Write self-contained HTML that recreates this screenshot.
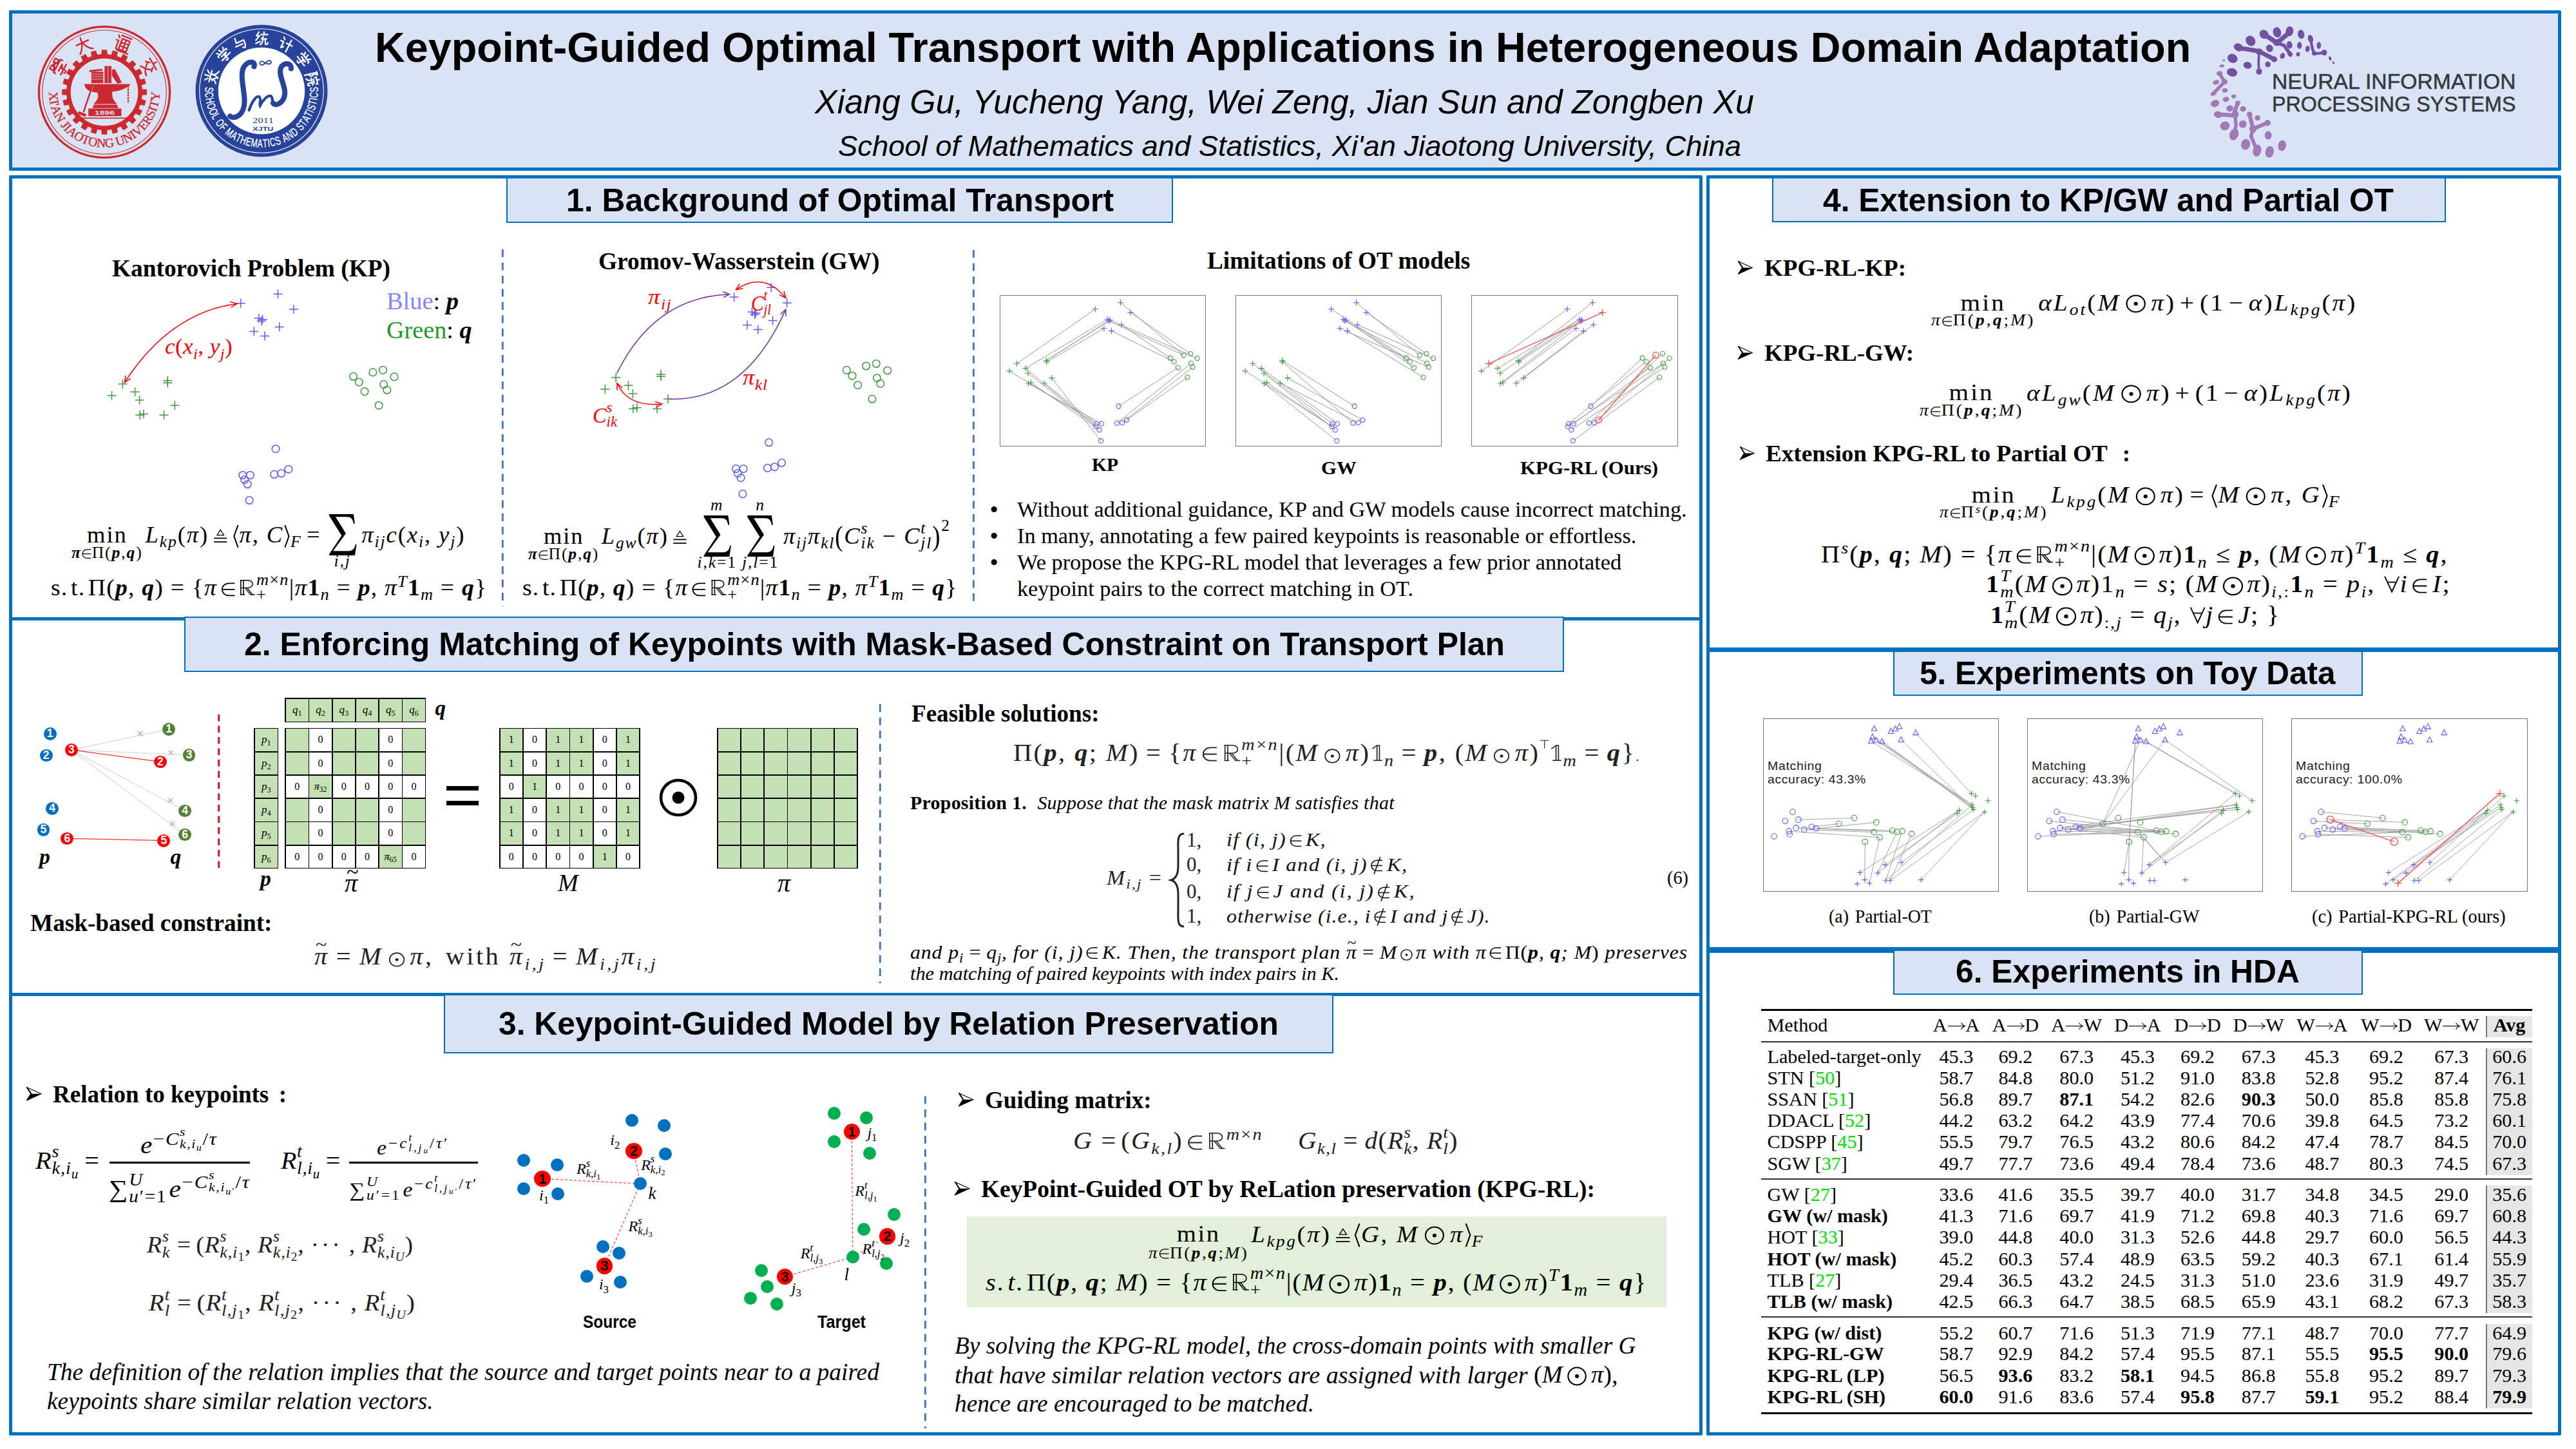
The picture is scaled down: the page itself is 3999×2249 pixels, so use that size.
<!DOCTYPE html><html><head><meta charset="utf-8"><title>Keypoint-Guided Optimal Transport poster</title><style>
html,body{margin:0;padding:0;background:#fff;}
body{width:3999px;height:2249px;position:relative;overflow:hidden;font-family:'Liberation Serif',serif;color:#000;}
.t{position:absolute;white-space:nowrap;line-height:1;transform-origin:0 0;}
.t i{font-style:italic}
.st{display:inline-block;width:0;height:2.6em;vertical-align:baseline}
.sb{font-size:.7em;line-height:0;vertical-align:-.3em;display:inline-block}
.sp{font-size:.7em;line-height:0;vertical-align:.55em;display:inline-block}
.ss{display:inline-block;position:relative;font-size:.7em;line-height:0;vertical-align:baseline;text-align:left}
.ss>.w{display:block;visibility:hidden;height:0;line-height:0}
.ss>.u,.ss>.l{position:absolute;left:0;white-space:nowrap;line-height:1}
.ss>.u{top:-1.16em}
.ss>.l{top:-.2em}
.un{display:inline-table;text-align:center;vertical-align:baseline;border-collapse:collapse}
.un-t{display:table-row}
.un-b{display:table-row;line-height:.9}
.un-b>span{position:relative}
.bs{display:inline-block;position:relative;height:0;vertical-align:baseline}
.bs-s{position:absolute;left:50%;bottom:-.226em;transform:translateX(-50%);font-size:2.1em;line-height:1;font-style:normal}
.bs-l{position:absolute;left:50%;bottom:-1.714em;transform:translateX(-50%);white-space:nowrap;line-height:1;font-size:.7em}
.bs-h{position:absolute;left:50%;bottom:1.923em;transform:translateX(-50%);white-space:nowrap;line-height:1;font-size:.7em}
.fr{display:inline-block;vertical-align:middle;text-align:center}
.fr>span{display:block;line-height:1.1}
svg{position:absolute;overflow:visible}
.t svg{position:static}
</style></head><body>
<div style="position:absolute;left:14.0px;top:16.0px;width:3962.0px;height:249.0px;box-sizing:border-box;border:5px solid #0070C0;background:#DAE3F3;border-radius:2px;"></div>
<div style="position:absolute;left:14.0px;top:272.0px;width:2629.0px;height:1956.0px;box-sizing:border-box;border:5px solid #0070C0;background:#fff;border-radius:2px;"></div>
<div style="position:absolute;left:14.0px;top:958.0px;width:2629.0px;height:5.0px;box-sizing:border-box;background:#0070C0"></div>
<div style="position:absolute;left:14.0px;top:1541.0px;width:2629.0px;height:5.0px;box-sizing:border-box;background:#0070C0"></div>
<div style="position:absolute;left:2649.0px;top:272.0px;width:1327.0px;height:1956.0px;box-sizing:border-box;border:5px solid #0070C0;background:#fff;border-radius:2px;"></div>
<div style="position:absolute;left:2649.0px;top:1005.0px;width:1327.0px;height:7.0px;box-sizing:border-box;background:#0070C0"></div>
<div style="position:absolute;left:2649.0px;top:1470.0px;width:1327.0px;height:9.0px;box-sizing:border-box;background:#0070C0"></div>
<div style="position:absolute;left:786.0px;top:275.0px;width:1035.0px;height:71.0px;box-sizing:border-box;border:2px solid #0070C0;background:#DAE3F3;"></div>
<div id="e1" class="t" style="left:879.0px;top:198.5px;font-size:49.60px;font-family:'Liberation Sans',sans-serif;transform:scaleX(1.0048);font-weight:bold;"><span class="st"></span>1. Background of Optimal Transport</div>
<div style="position:absolute;left:286.0px;top:957.0px;width:2142.0px;height:86.0px;box-sizing:border-box;border:2px solid #0070C0;background:#DAE3F3;"></div>
<div id="e2" class="t" style="left:379.0px;top:888.3px;font-size:49.60px;font-family:'Liberation Sans',sans-serif;transform:scaleX(1.0060);font-weight:bold;"><span class="st"></span>2. Enforcing Matching of Keypoints with Mask-Based Constraint on Transport Plan</div>
<div style="position:absolute;left:689.0px;top:1543.0px;width:1381.0px;height:92.0px;box-sizing:border-box;border:2px solid #0070C0;background:#DAE3F3;"></div>
<div id="e3" class="t" style="left:774.0px;top:1477.0px;font-size:49.60px;font-family:'Liberation Sans',sans-serif;transform:scaleX(1.0033);font-weight:bold;"><span class="st"></span>3. Keypoint-Guided Model by Relation Preservation</div>
<div style="position:absolute;left:2751.0px;top:274.5px;width:1046.0px;height:70.5px;box-sizing:border-box;border:2px solid #0070C0;background:#DAE3F3;"></div>
<div id="e4" class="t" style="left:2830.0px;top:198.5px;font-size:49.60px;font-family:'Liberation Sans',sans-serif;transform:scaleX(1.0016);font-weight:bold;"><span class="st"></span>4. Extension to KP/GW and Partial OT</div>
<div style="position:absolute;left:2938.5px;top:1010.0px;width:729.5px;height:70.0px;box-sizing:border-box;border:2px solid #0070C0;background:#DAE3F3;"></div>
<div id="e5" class="t" style="left:2980.0px;top:933.3px;font-size:49.60px;font-family:'Liberation Sans',sans-serif;transform:scaleX(0.9981);font-weight:bold;"><span class="st"></span>5. Experiments on Toy Data</div>
<div style="position:absolute;left:2938.5px;top:1473.5px;width:729.5px;height:70.0px;box-sizing:border-box;border:2px solid #0070C0;background:#DAE3F3;"></div>
<div id="e6" class="t" style="left:3036.0px;top:1396.3px;font-size:49.60px;font-family:'Liberation Sans',sans-serif;transform:scaleX(1.0039);font-weight:bold;"><span class="st"></span>6. Experiments in HDA</div>
<div id="e7" class="t" style="left:581.5px;top:-71.6px;font-size:64.50px;font-family:'Liberation Sans',sans-serif;transform:scaleX(1.0026);font-weight:bold;"><span class="st"></span>Keypoint-Guided Optimal Transport with Applications in Heterogeneous Domain Adaptation</div>
<div id="e8" class="t" style="left:1265.0px;top:42.7px;font-size:51.00px;font-family:'Liberation Sans',sans-serif;transform:scaleX(1.0182);font-style:italic;"><span class="st"></span>Xiang Gu, Yucheng Yang, Wei Zeng, Jian Sun and Zongben Xu</div>
<div id="e9" class="t" style="left:1301.0px;top:125.2px;font-size:45.00px;font-family:'Liberation Sans',sans-serif;transform:scaleX(1.0080);font-style:italic;"><span class="st"></span>School of Mathematics and Statistics, Xi'an Jiaotong University, China</div>
<svg style="left:51.8px;top:32.6px" width="220" height="220" viewBox="-110 -110 220 220"><circle r="101.6" fill="none" stroke="#CC2A30" stroke-width="3.4"/><circle r="96.3" fill="none" stroke="#CC2A30" stroke-width="1.1"/><path d="M57.81 -4.71L65.87 -4.20L65.87 4.20L57.81 4.71ZM57.06 10.41L64.71 12.99L62.54 21.10L54.62 19.51ZM52.42 24.83L59.14 29.30L54.94 36.57L47.71 32.98ZM44.21 37.55L49.54 43.61L43.61 49.54L37.55 44.21ZM32.98 47.71L36.57 54.94L29.30 59.14L24.83 52.42ZM19.51 54.62L21.10 62.54L12.99 64.71L10.41 57.06ZM4.71 57.81L4.20 65.87L-4.20 65.87L-4.71 57.81ZM-10.41 57.06L-12.99 64.71L-21.10 62.54L-19.51 54.62ZM-24.83 52.42L-29.30 59.14L-36.57 54.94L-32.98 47.71ZM-37.55 44.21L-43.61 49.54L-49.54 43.61L-44.21 37.55ZM-47.71 32.98L-54.94 36.57L-59.14 29.30L-52.42 24.83ZM-54.62 19.51L-62.54 21.10L-64.71 12.99L-57.06 10.41ZM-57.81 4.71L-65.87 4.20L-65.87 -4.20L-57.81 -4.71ZM-57.06 -10.41L-64.71 -12.99L-62.54 -21.10L-54.62 -19.51ZM-52.42 -24.83L-59.14 -29.30L-54.94 -36.57L-47.71 -32.98ZM-44.21 -37.55L-49.54 -43.61L-43.61 -49.54L-37.55 -44.21ZM-32.98 -47.71L-36.57 -54.94L-29.30 -59.14L-24.83 -52.42ZM-19.51 -54.62L-21.10 -62.54L-12.99 -64.71L-10.41 -57.06ZM-4.71 -57.81L-4.20 -65.87L4.20 -65.87L4.71 -57.81ZM10.41 -57.06L12.99 -64.71L21.10 -62.54L19.51 -54.62ZM24.83 -52.42L29.30 -59.14L36.57 -54.94L32.98 -47.71ZM37.55 -44.21L43.61 -49.54L49.54 -43.61L44.21 -37.55ZM47.71 -32.98L54.94 -36.57L59.14 -29.30L52.42 -24.83ZM54.62 -19.51L62.54 -21.10L64.71 -12.99L57.06 -10.41Z" fill="#CC2A30"/><circle r="55.599999999999994" fill="none" stroke="#CC2A30" stroke-width="6.599999999999999"/><path d="M-24.8 25.6H26.4V37.3H-24.8Z" fill="#CC2A30"/><path d="M-18.6 24.8L-16.3 19.4L19.4 19.4L21.7 24.8Z" fill="#CC2A30"/><path d="M-31.1 -12.4L40.4 -12.4C34.2 -5.4 24.8 -1.6 12.4 -0.8C10.9 8.5 15.5 14.8 20.2 18.6L-17.1 18.6C-10.9 13.2 -7.8 7.0 -10.9 0.8C-20.2 0.0 -29.5 -2.3 -31.1 -12.4Z" fill="#CC2A30"/><path d="M-20.2 -31.8H-1.6V-14.0H-20.2Z M0.3 -40.4H10.9V-14.0H0.3Z M11.8 -34.9L16.3 -35.7L27.2 -14.8L20.2 -13.2L11.8 -25.6Z" fill="#CC2A30"/><path d="M-23.3 -32.6L-3.1 -34.9" stroke="#CC2A30" stroke-width="2.6" fill="none"/><path d="M-20.2 -28.0H-1.6M-20.2 -24.1H-1.6M-20.2 -20.2H-1.6M5.6 -39.9V-14.4" stroke="#DAE3F3" stroke-width=".7" fill="none"/><path d="M-18.2 -10.9L-32.3 31.1" stroke="#CC2A30" stroke-width="2.6" fill="none"/><path d="M-18.2 -10.9L-32.3 31.1" stroke="#DAE3F3" stroke-width=".5" fill="none" transform="translate(1.6,0.4)"/><path d="M-39.6 29.5L-28.0 34.2L-29.5 38.4L-41.1 33.4Z" fill="#CC2A30"/><path d="M37.0 -10.1V17.1" stroke="#CC2A30" stroke-width="2.4" stroke-dasharray="3.2 1.2" fill="none"/><path d="M34.9 -10.9H39.6" stroke="#CC2A30" stroke-width="1.4"/><path d="M-34.2 40.4H34.2" stroke="#CC2A30" stroke-width="1.6"/><text x="0.5" y="34.6" text-anchor="middle" font-family="'Liberation Sans',sans-serif" font-weight="bold" font-size="9.8" fill="#DAE3F3" textLength="31" lengthAdjust="spacingAndGlyphs">1896</text><text text-anchor="middle" font-family="'Liberation Serif',serif" font-weight="normal" font-size="19.6" fill="#CC2A30" stroke="#CC2A30" stroke-width=".35" transform="translate(-85.51 7.07) rotate(85.27) scale(1.0 1)">X</text><text text-anchor="middle" font-family="'Liberation Serif',serif" font-weight="normal" font-size="19.6" fill="#CC2A30" stroke="#CC2A30" stroke-width=".35" transform="translate(-84.10 17.00) rotate(78.57) scale(1.0 1)">I</text><text text-anchor="middle" font-family="'Liberation Serif',serif" font-weight="normal" font-size="19.6" fill="#CC2A30" stroke="#CC2A30" stroke-width=".35" transform="translate(-83.03 21.61) rotate(75.41) scale(1.0 1)">&#39;</text><text text-anchor="middle" font-family="'Liberation Serif',serif" font-weight="normal" font-size="19.6" fill="#CC2A30" stroke="#CC2A30" stroke-width=".35" transform="translate(-80.48 29.75) rotate(69.71) scale(1.0 1)">A</text><text text-anchor="middle" font-family="'Liberation Serif',serif" font-weight="normal" font-size="19.6" fill="#CC2A30" stroke="#CC2A30" stroke-width=".35" transform="translate(-74.65 42.30) rotate(60.46) scale(1.0 1)">N</text><text text-anchor="middle" font-family="'Liberation Serif',serif" font-weight="normal" font-size="19.6" fill="#CC2A30" stroke="#CC2A30" stroke-width=".35" transform="translate(-66.03 54.78) rotate(50.32) scale(1.0 1)">J</text><text text-anchor="middle" font-family="'Liberation Serif',serif" font-weight="normal" font-size="19.6" fill="#CC2A30" stroke="#CC2A30" stroke-width=".35" transform="translate(-61.51 59.82) rotate(45.80) scale(1.0 1)">I</text><text text-anchor="middle" font-family="'Liberation Serif',serif" font-weight="normal" font-size="19.6" fill="#CC2A30" stroke="#CC2A30" stroke-width=".35" transform="translate(-54.10 66.59) rotate(39.09) scale(1.0 1)">A</text><text text-anchor="middle" font-family="'Liberation Serif',serif" font-weight="normal" font-size="19.6" fill="#CC2A30" stroke="#CC2A30" stroke-width=".35" transform="translate(-42.70 74.42) rotate(29.84) scale(1.0 1)">O</text><text text-anchor="middle" font-family="'Liberation Serif',serif" font-weight="normal" font-size="19.6" fill="#CC2A30" stroke="#CC2A30" stroke-width=".35" transform="translate(-31.20 79.93) rotate(21.32) scale(1.0 1)">T</text><text text-anchor="middle" font-family="'Liberation Serif',serif" font-weight="normal" font-size="19.6" fill="#CC2A30" stroke="#CC2A30" stroke-width=".35" transform="translate(-19.01 83.67) rotate(12.80) scale(1.0 1)">O</text><text text-anchor="middle" font-family="'Liberation Serif',serif" font-weight="normal" font-size="19.6" fill="#CC2A30" stroke="#CC2A30" stroke-width=".35" transform="translate(-5.31 85.64) rotate(3.55) scale(1.0 1)">N</text><text text-anchor="middle" font-family="'Liberation Serif',serif" font-weight="normal" font-size="19.6" fill="#CC2A30" stroke="#CC2A30" stroke-width=".35" transform="translate(8.52 85.38) rotate(-5.70) scale(1.0 1)">G</text><text text-anchor="middle" font-family="'Liberation Serif',serif" font-weight="normal" font-size="19.6" fill="#CC2A30" stroke="#CC2A30" stroke-width=".35" transform="translate(26.54 81.59) rotate(-18.02) scale(1.0 1)">U</text><text text-anchor="middle" font-family="'Liberation Serif',serif" font-weight="normal" font-size="19.6" fill="#CC2A30" stroke="#CC2A30" stroke-width=".35" transform="translate(39.31 76.26) rotate(-27.27) scale(1.0 1)">N</text><text text-anchor="middle" font-family="'Liberation Serif',serif" font-weight="normal" font-size="19.6" fill="#CC2A30" stroke="#CC2A30" stroke-width=".35" transform="translate(47.95 71.15) rotate(-33.97) scale(1.0 1)">I</text><text text-anchor="middle" font-family="'Liberation Serif',serif" font-weight="normal" font-size="19.6" fill="#CC2A30" stroke="#CC2A30" stroke-width=".35" transform="translate(55.92 65.07) rotate(-40.68) scale(1.0 1)">V</text><text text-anchor="middle" font-family="'Liberation Serif',serif" font-weight="normal" font-size="19.6" fill="#CC2A30" stroke="#CC2A30" stroke-width=".35" transform="translate(64.95 56.07) rotate(-49.20) scale(1.0 1)">E</text><text text-anchor="middle" font-family="'Liberation Serif',serif" font-weight="normal" font-size="19.6" fill="#CC2A30" stroke="#CC2A30" stroke-width=".35" transform="translate(72.25 46.28) rotate(-57.36) scale(1.0 1)">R</text><text text-anchor="middle" font-family="'Liberation Serif',serif" font-weight="normal" font-size="19.6" fill="#CC2A30" stroke="#CC2A30" stroke-width=".35" transform="translate(77.86 36.04) rotate(-65.16) scale(1.0 1)">S</text><text text-anchor="middle" font-family="'Liberation Serif',serif" font-weight="normal" font-size="19.6" fill="#CC2A30" stroke="#CC2A30" stroke-width=".35" transform="translate(81.02 28.25) rotate(-70.78) scale(1.0 1)">I</text><text text-anchor="middle" font-family="'Liberation Serif',serif" font-weight="normal" font-size="19.6" fill="#CC2A30" stroke="#CC2A30" stroke-width=".35" transform="translate(83.52 19.66) rotate(-76.75) scale(1.0 1)">T</text><text text-anchor="middle" font-family="'Liberation Serif',serif" font-weight="normal" font-size="19.6" fill="#CC2A30" stroke="#CC2A30" stroke-width=".35" transform="translate(85.51 7.07) rotate(-85.27) scale(1.0 1)">Y</text><g transform="translate(-70.4 -39.0) rotate(299) scale(1.14) translate(-12 -12)"><path d="M4 2H9V7H4ZM15 2H20V7H15ZM10 3L14 6M14 3L10 6M2 9H22V12M2 9V12M7 14H17L12 17M12 16V22C12 24 9 23 8 22M4 19H20" fill="none" stroke="#CC2A30" stroke-width="2.1" stroke-linecap="round" stroke-linejoin="round"/></g><g transform="translate(-32.7 -73.5) rotate(336) scale(1.14) translate(-12 -12)"><path d="M3 9H21M12 2C12 10 8 18 3 22M12 9C14 15 18 20 22 22" fill="none" stroke="#CC2A30" stroke-width="2.1" stroke-linecap="round" stroke-linejoin="round"/></g><g transform="translate(28.8 -75.2) rotate(381) scale(1.14) translate(-12 -12)"><path d="M7 2H21M9 6H20V21H9ZM9 11H20M9 16H20M14.5 6V21M3 3L5 6M2 10H5V19C5 22 7 23 10 23H23" fill="none" stroke="#CC2A30" stroke-width="2.1" stroke-linecap="round" stroke-linejoin="round"/></g><g transform="translate(69.7 -40.3) rotate(420) scale(1.14) translate(-12 -12)"><path d="M12 1V4M3 6H21M8 9L4 13M16 9L20 13M6 22C12 19 16 15 18 11M7 12C10 17 15 21 21 22" fill="none" stroke="#CC2A30" stroke-width="2.1" stroke-linecap="round" stroke-linejoin="round"/></g></svg>
<svg style="left:296.0px;top:30.6px" width="220" height="220" viewBox="-110 -110 220 220"><circle r="102.5" fill="#27439B"/><circle r="96.3" fill="none" stroke="#fff" stroke-width="1.1"/><circle r="67.2" fill="#fff"/><text text-anchor="middle" font-family="'Liberation Sans',sans-serif" font-weight="normal" font-size="18.0" fill="#fff" stroke="#fff" stroke-width=".35" transform="translate(-87.57 -2.15) rotate(91.41) scale(0.66 1)">S</text><text text-anchor="middle" font-family="'Liberation Sans',sans-serif" font-weight="normal" font-size="18.0" fill="#fff" stroke="#fff" stroke-width=".35" transform="translate(-87.33 6.87) rotate(85.50) scale(0.66 1)">C</text><text text-anchor="middle" font-family="'Liberation Sans',sans-serif" font-weight="normal" font-size="18.0" fill="#fff" stroke="#fff" stroke-width=".35" transform="translate(-86.10 16.15) rotate(79.38) scale(0.66 1)">H</text><text text-anchor="middle" font-family="'Liberation Sans',sans-serif" font-weight="normal" font-size="18.0" fill="#fff" stroke="#fff" stroke-width=".35" transform="translate(-83.79 25.56) rotate(73.04) scale(0.66 1)">O</text><text text-anchor="middle" font-family="'Liberation Sans',sans-serif" font-weight="normal" font-size="18.0" fill="#fff" stroke="#fff" stroke-width=".35" transform="translate(-80.32 34.96) rotate(66.48) scale(0.66 1)">O</text><text text-anchor="middle" font-family="'Liberation Sans',sans-serif" font-weight="normal" font-size="18.0" fill="#fff" stroke="#fff" stroke-width=".35" transform="translate(-76.46 42.75) rotate(60.79) scale(0.66 1)">L</text><text text-anchor="middle" font-family="'Liberation Sans',sans-serif" font-weight="normal" font-size="18.0" fill="#fff" stroke="#fff" stroke-width=".35" transform="translate(-69.43 53.42) rotate(52.42) scale(0.66 1)">O</text><text text-anchor="middle" font-family="'Liberation Sans',sans-serif" font-weight="normal" font-size="18.0" fill="#fff" stroke="#fff" stroke-width=".35" transform="translate(-63.56 60.28) rotate(46.52) scale(0.66 1)">F</text><text text-anchor="middle" font-family="'Liberation Sans',sans-serif" font-weight="normal" font-size="18.0" fill="#fff" stroke="#fff" stroke-width=".35" transform="translate(-53.60 69.29) rotate(37.73) scale(0.66 1)">M</text><text text-anchor="middle" font-family="'Liberation Sans',sans-serif" font-weight="normal" font-size="18.0" fill="#fff" stroke="#fff" stroke-width=".35" transform="translate(-45.62 74.78) rotate(31.39) scale(0.66 1)">A</text><text text-anchor="middle" font-family="'Liberation Sans',sans-serif" font-weight="normal" font-size="18.0" fill="#fff" stroke="#fff" stroke-width=".35" transform="translate(-38.28 78.79) rotate(25.91) scale(0.66 1)">T</text><text text-anchor="middle" font-family="'Liberation Sans',sans-serif" font-weight="normal" font-size="18.0" fill="#fff" stroke="#fff" stroke-width=".35" transform="translate(-30.28 82.20) rotate(20.22) scale(0.66 1)">H</text><text text-anchor="middle" font-family="'Liberation Sans',sans-serif" font-weight="normal" font-size="18.0" fill="#fff" stroke="#fff" stroke-width=".35" transform="translate(-21.65 84.88) rotate(14.31) scale(0.66 1)">E</text><text text-anchor="middle" font-family="'Liberation Sans',sans-serif" font-weight="normal" font-size="18.0" fill="#fff" stroke="#fff" stroke-width=".35" transform="translate(-12.15 86.75) rotate(7.97) scale(0.66 1)">M</text><text text-anchor="middle" font-family="'Liberation Sans',sans-serif" font-weight="normal" font-size="18.0" fill="#fff" stroke="#fff" stroke-width=".35" transform="translate(-2.50 87.56) rotate(1.63) scale(0.66 1)">A</text><text text-anchor="middle" font-family="'Liberation Sans',sans-serif" font-weight="normal" font-size="18.0" fill="#fff" stroke="#fff" stroke-width=".35" transform="translate(5.87 87.40) rotate(-3.84) scale(0.66 1)">T</text><text text-anchor="middle" font-family="'Liberation Sans',sans-serif" font-weight="normal" font-size="18.0" fill="#fff" stroke="#fff" stroke-width=".35" transform="translate(11.90 86.79) rotate(-7.81) scale(0.66 1)">I</text><text text-anchor="middle" font-family="'Liberation Sans',sans-serif" font-weight="normal" font-size="18.0" fill="#fff" stroke="#fff" stroke-width=".35" transform="translate(18.52 85.62) rotate(-12.20) scale(0.66 1)">C</text><text text-anchor="middle" font-family="'Liberation Sans',sans-serif" font-weight="normal" font-size="18.0" fill="#fff" stroke="#fff" stroke-width=".35" transform="translate(27.23 83.26) rotate(-18.11) scale(0.66 1)">S</text><text text-anchor="middle" font-family="'Liberation Sans',sans-serif" font-weight="normal" font-size="18.0" fill="#fff" stroke="#fff" stroke-width=".35" transform="translate(39.06 78.41) rotate(-26.48) scale(0.66 1)">A</text><text text-anchor="middle" font-family="'Liberation Sans',sans-serif" font-weight="normal" font-size="18.0" fill="#fff" stroke="#fff" stroke-width=".35" transform="translate(46.92 73.97) rotate(-32.39) scale(0.66 1)">N</text><text text-anchor="middle" font-family="'Liberation Sans',sans-serif" font-weight="normal" font-size="18.0" fill="#fff" stroke="#fff" stroke-width=".35" transform="translate(54.54 68.55) rotate(-38.51) scale(0.66 1)">D</text><text text-anchor="middle" font-family="'Liberation Sans',sans-serif" font-weight="normal" font-size="18.0" fill="#fff" stroke="#fff" stroke-width=".35" transform="translate(64.16 59.64) rotate(-47.09) scale(0.66 1)">S</text><text text-anchor="middle" font-family="'Liberation Sans',sans-serif" font-weight="normal" font-size="18.0" fill="#fff" stroke="#fff" stroke-width=".35" transform="translate(69.56 53.25) rotate(-52.56) scale(0.66 1)">T</text><text text-anchor="middle" font-family="'Liberation Sans',sans-serif" font-weight="normal" font-size="18.0" fill="#fff" stroke="#fff" stroke-width=".35" transform="translate(74.32 46.37) rotate(-58.04) scale(0.66 1)">A</text><text text-anchor="middle" font-family="'Liberation Sans',sans-serif" font-weight="normal" font-size="18.0" fill="#fff" stroke="#fff" stroke-width=".35" transform="translate(78.41 39.06) rotate(-63.52) scale(0.66 1)">T</text><text text-anchor="middle" font-family="'Liberation Sans',sans-serif" font-weight="normal" font-size="18.0" fill="#fff" stroke="#fff" stroke-width=".35" transform="translate(80.92 33.55) rotate(-67.48) scale(0.66 1)">I</text><text text-anchor="middle" font-family="'Liberation Sans',sans-serif" font-weight="normal" font-size="18.0" fill="#fff" stroke="#fff" stroke-width=".35" transform="translate(83.15 27.56) rotate(-71.66) scale(0.66 1)">S</text><text text-anchor="middle" font-family="'Liberation Sans',sans-serif" font-weight="normal" font-size="18.0" fill="#fff" stroke="#fff" stroke-width=".35" transform="translate(85.40 19.50) rotate(-77.14) scale(0.66 1)">T</text><text text-anchor="middle" font-family="'Liberation Sans',sans-serif" font-weight="normal" font-size="18.0" fill="#fff" stroke="#fff" stroke-width=".35" transform="translate(86.55 13.55) rotate(-81.10) scale(0.66 1)">I</text><text text-anchor="middle" font-family="'Liberation Sans',sans-serif" font-weight="normal" font-size="18.0" fill="#fff" stroke="#fff" stroke-width=".35" transform="translate(87.33 6.87) rotate(-85.50) scale(0.66 1)">C</text><text text-anchor="middle" font-family="'Liberation Sans',sans-serif" font-weight="normal" font-size="18.0" fill="#fff" stroke="#fff" stroke-width=".35" transform="translate(87.57 -2.15) rotate(-91.41) scale(0.66 1)">S</text><g transform="translate(-78.3 -22.5) rotate(286) scale(.98) translate(-12 -12)"><path d="M4 4L8 8M12 2V10M20 4L16 8M3 11H21M8 13C10 17 6 21 3 22M6 15C10 17 12 20 13 23M16 11C16 16 15 20 12 23M15 14C17 18 20 21 23 22" fill="none" stroke="#fff" stroke-width="2.3" stroke-linecap="round" stroke-linejoin="round"/></g><g transform="translate(-58.6 -56.6) rotate(314) scale(.98) translate(-12 -12)"><path d="M5 3L7 6M11 2L12 6M19 3L16 7M3 10V8H21V10M7 12H17L12 15M12 14V21C12 23 9 22 8 21M3 17H21" fill="none" stroke="#fff" stroke-width="2.3" stroke-linecap="round" stroke-linejoin="round"/></g><g transform="translate(-33.1 -74.5) rotate(336) scale(.98) translate(-12 -12)"><path d="M7 2L6 10H19C19 16 18 20 16 22L13 20M3 15H15" fill="none" stroke="#fff" stroke-width="2.3" stroke-linecap="round" stroke-linejoin="round"/></g><g transform="translate(-0.0 -81.5) rotate(360) scale(.98) translate(-12 -12)"><path d="M8 2L4 8L9 8L3 15M3 20L10 17M16 2V5M11 6H22M15 9L12 13H20M14 14C14 18 13 20 10 22M18 14V21C18 22 22 22 22 19" fill="none" stroke="#fff" stroke-width="2.3" stroke-linecap="round" stroke-linejoin="round"/></g><g transform="translate(37.0 -72.6) rotate(387) scale(.98) translate(-12 -12)"><path d="M5 3L8 6M3 10H8V20L11 17M13 10H23M18 2V23" fill="none" stroke="#fff" stroke-width="2.3" stroke-linecap="round" stroke-linejoin="round"/></g><g transform="translate(65.1 -49.0) rotate(413) scale(.98) translate(-12 -12)"><path d="M5 3L7 6M11 2L12 6M19 3L16 7M3 10V8H21V10M7 12H17L12 15M12 14V21C12 23 9 22 8 21M3 17H21" fill="none" stroke="#fff" stroke-width="2.3" stroke-linecap="round" stroke-linejoin="round"/></g><g transform="translate(79.2 -19.0) rotate(436.5) scale(.98) translate(-12 -12)"><path d="M3 3H8L5 9C9 11 8 15 5 16M4 3V23M16 2V5M11 8V6H22V8M13 11H20M11 14H22M14 14C14 18 13 21 10 22M18 14V20C18 22 22 22 22 19" fill="none" stroke="#fff" stroke-width="2.3" stroke-linecap="round" stroke-linejoin="round"/></g><path d="M-11.6 -37.6C-8.5 -45.3 -19.4 -48.4 -27.2 -37.6C-36.5 -22.0 -21.0 10.6 -28.7 29.2C-33.4 41.6 -45.8 43.2 -48.9 39.3" fill="none" stroke="#27439B" stroke-width="8" stroke-linecap="round"/><path d="M45.8 -34.5C47.4 -43.8 33.4 -45.3 29.5 -34.5C25.6 -20.5 42.7 -1.9 33.4 13.7C28.7 21.4 21.0 23.0 17.9 19.1" fill="none" stroke="#27439B" stroke-width="8" stroke-linecap="round"/><path d="M-19.4 30.0C-14.8 16.8 -8.5 7.5 -3.9 9.0C0.8 12.1 -3.9 19.9 -2.3 23.0C2.3 13.7 10.1 5.9 14.8 8.2C18.6 12.1 15.5 18.3 18.6 20.7" fill="none" stroke="#27439B" stroke-width="4.2" stroke-linecap="round"/><path d="M4.7 -43.8C-2.3 -50.0 -5.4 -40.7 0.0 -39.9C5.4 -39.9 8.5 -48.4 13.2 -46.9C17.9 -44.6 13.2 -38.4 4.7 -43.8Z" fill="none" stroke="#27439B" stroke-width="1.8"/><text x="2.3" y="50.2" text-anchor="middle" font-family="'Liberation Serif',serif" font-size="12" fill="#27439B" textLength="33" lengthAdjust="spacingAndGlyphs">2011</text><text x="2.3" y="61.5" text-anchor="middle" font-family="'Liberation Sans',sans-serif" font-weight="bold" font-size="8.6" fill="#27439B" textLength="32" lengthAdjust="spacingAndGlyphs">XJTU</text></svg>
<svg style="left:3420px;top:30px" width="230" height="225" viewBox="0 0 230 225"><ellipse cx="114.9" cy="20.2" rx="6.2" ry="8.1" fill="#7450A2" transform="rotate(-15 114.9 20.2)"/><ellipse cx="134.3" cy="18.6" rx="5.9" ry="7.8" fill="#7450A2" transform="rotate(10 134.3 18.6)"/><ellipse cx="94.7" cy="23.3" rx="6.5" ry="7.5" fill="#7450A2" transform="rotate(-45 94.7 23.3)"/><ellipse cx="152.2" cy="23.3" rx="5.1" ry="7.0" fill="#7450A2" transform="rotate(-10 152.2 23.3)"/><ellipse cx="166.9" cy="30.3" rx="4.0" ry="6.2" fill="#7450A2" transform="rotate(-15 166.9 30.3)"/><ellipse cx="73.8" cy="33.4" rx="7.1" ry="8.4" fill="#7450A2" transform="rotate(-35 73.8 33.4)"/><ellipse cx="134.3" cy="39.6" rx="4.3" ry="5.9" fill="#7450A2" transform="rotate(-10 134.3 39.6)"/><ellipse cx="149.8" cy="40.4" rx="3.7" ry="5.3" fill="#7450A2" transform="rotate(0 149.8 40.4)"/><ellipse cx="162.3" cy="45.8" rx="3.3" ry="4.7" fill="#7450A2" transform="rotate(10 162.3 45.8)"/><ellipse cx="179.8" cy="40.4" rx="3.3" ry="5.3" fill="#7450A2" transform="rotate(0 179.8 40.4)"/><ellipse cx="103.3" cy="45.0" rx="5.3" ry="5.9" fill="#7450A2" transform="rotate(-30 103.3 45.0)"/><ellipse cx="55.1" cy="43.5" rx="7.5" ry="5.9" fill="#7450A2" transform="rotate(25 55.1 43.5)"/><ellipse cx="123.4" cy="56.7" rx="3.7" ry="4.7" fill="#7450A2" transform="rotate(20 123.4 56.7)"/><ellipse cx="147.5" cy="54.3" rx="3.0" ry="3.4" fill="#7450A2" transform="rotate(0 147.5 54.3)"/><ellipse cx="135.1" cy="54.0" rx="3.7" ry="4.3" fill="#7450A2" transform="rotate(-30 135.1 54.0)"/><ellipse cx="188.2" cy="51.6" rx="4.2" ry="4.7" fill="#7450A2" transform="rotate(0 188.2 51.6)"/><ellipse cx="197.2" cy="60.6" rx="2.0" ry="3.4" fill="#7450A2" transform="rotate(-20 197.2 60.6)"/><ellipse cx="202.6" cy="67.5" rx="1.4" ry="2.2" fill="#7450A2" transform="rotate(-20 202.6 67.5)"/><ellipse cx="45.8" cy="60.6" rx="8.1" ry="6.8" fill="#7450A2" transform="rotate(25 45.8 60.6)"/><ellipse cx="110.6" cy="62.1" rx="4.5" ry="4.5" fill="#7450A2" transform="rotate(0 110.6 62.1)"/><ellipse cx="69.1" cy="71.4" rx="6.5" ry="5.3" fill="#7450A2" transform="rotate(15 69.1 71.4)"/><ellipse cx="100.6" cy="69.9" rx="4.3" ry="4.3" fill="#7450A2" transform="rotate(0 100.6 69.9)"/><ellipse cx="45.0" cy="82.3" rx="8.1" ry="6.5" fill="#7450A2" transform="rotate(15 45.0 82.3)"/><ellipse cx="87.0" cy="81.1" rx="4.7" ry="4.7" fill="#7450A2" transform="rotate(0 87.0 81.1)"/><ellipse cx="114.9" cy="36.0" rx="6.2" ry="5.3" fill="#7450A2" transform="rotate(0 114.9 36.0)"/><ellipse cx="87.0" cy="50.0" rx="5.6" ry="4.7" fill="#7450A2" transform="rotate(0 87.0 50.0)"/><ellipse cx="172.7" cy="52.8" rx="3.7" ry="3.4" fill="#7450A2" transform="rotate(0 172.7 52.8)"/><path d="M94.7 23.3L114.9 36.5L134.3 20.2" fill="none" stroke="#7450A2" stroke-width="7.1" stroke-linecap="round" stroke-linejoin="round"/><path d="M114.9 36.5L125.8 40.4L135.1 53.6" fill="none" stroke="#7450A2" stroke-width="5.3" stroke-linecap="round" stroke-linejoin="round"/><path d="M55.1 44.3L74.5 47.4L87.0 49.7L110.6 62.1" fill="none" stroke="#7450A2" stroke-width="6.8" stroke-linecap="round" stroke-linejoin="round"/><path d="M87.0 49.7L86.2 68.3L87.0 80.7" fill="none" stroke="#7450A2" stroke-width="3.7" stroke-linecap="round" stroke-linejoin="round"/><path d="M166.9 30.3L170.0 46.6L173.1 53.6L188.2 51.6" fill="none" stroke="#7450A2" stroke-width="4.3" stroke-linecap="round" stroke-linejoin="round"/><ellipse cx="32.3" cy="63.7" rx="2.3" ry="1.4" fill="#A179B6" transform="rotate(-15 32.3 63.7)"/><ellipse cx="29.2" cy="72.2" rx="3.9" ry="2.3" fill="#A179B6" transform="rotate(-15 29.2 72.2)"/><ellipse cx="25.6" cy="83.9" rx="4.8" ry="3.7" fill="#A179B6" transform="rotate(-10 25.6 83.9)"/><ellipse cx="20.2" cy="97.8" rx="5.1" ry="3.4" fill="#A179B6" transform="rotate(-20 20.2 97.8)"/><ellipse cx="16.3" cy="115.2" rx="5.0" ry="3.1" fill="#A179B6" transform="rotate(-25 16.3 115.2)"/><ellipse cx="33.9" cy="110.2" rx="4.3" ry="3.4" fill="#A179B6" transform="rotate(-15 33.9 110.2)"/><ellipse cx="47.8" cy="119.6" rx="3.9" ry="3.0" fill="#A179B6" transform="rotate(-15 47.8 119.6)"/><ellipse cx="35.7" cy="124.2" rx="5.0" ry="3.9" fill="#A179B6" transform="rotate(-15 35.7 124.2)"/><ellipse cx="18.6" cy="130.7" rx="6.8" ry="5.3" fill="#A179B6" transform="rotate(-20 18.6 130.7)"/><ellipse cx="54.0" cy="129.7" rx="3.9" ry="3.4" fill="#A179B6" transform="rotate(0 54.0 129.7)"/><ellipse cx="41.6" cy="138.2" rx="5.4" ry="4.7" fill="#A179B6" transform="rotate(-15 41.6 138.2)"/><ellipse cx="62.1" cy="139.0" rx="4.7" ry="4.2" fill="#A179B6" transform="rotate(0 62.1 139.0)"/><ellipse cx="23.3" cy="147.8" rx="6.5" ry="5.1" fill="#A179B6" transform="rotate(15 23.3 147.8)"/><ellipse cx="72.2" cy="147.5" rx="4.3" ry="4.3" fill="#A179B6" transform="rotate(0 72.2 147.5)"/><ellipse cx="84.6" cy="153.0" rx="4.3" ry="4.3" fill="#A179B6" transform="rotate(0 84.6 153.0)"/><ellipse cx="100.2" cy="160.7" rx="4.7" ry="4.7" fill="#A179B6" transform="rotate(0 100.2 160.7)"/><ellipse cx="33.9" cy="165.4" rx="7.5" ry="6.8" fill="#A179B6" transform="rotate(-25 33.9 165.4)"/><ellipse cx="61.8" cy="162.7" rx="5.9" ry="5.9" fill="#A179B6" transform="rotate(-20 61.8 162.7)"/><ellipse cx="48.1" cy="178.6" rx="6.8" ry="9.3" fill="#A179B6" transform="rotate(20 48.1 178.6)"/><ellipse cx="101.2" cy="180.1" rx="5.4" ry="6.5" fill="#A179B6" transform="rotate(0 101.2 180.1)"/><ellipse cx="66.0" cy="194.1" rx="7.0" ry="8.5" fill="#A179B6" transform="rotate(15 66.0 194.1)"/><ellipse cx="83.9" cy="203.7" rx="6.5" ry="9.3" fill="#A179B6" transform="rotate(10 83.9 203.7)"/><ellipse cx="103.3" cy="205.7" rx="6.5" ry="9.0" fill="#A179B6" transform="rotate(10 103.3 205.7)"/><ellipse cx="122.7" cy="196.0" rx="6.2" ry="8.5" fill="#A179B6" transform="rotate(10 122.7 196.0)"/><ellipse cx="33.4" cy="97.0" rx="4.7" ry="4.3" fill="#A179B6" transform="rotate(0 33.4 97.0)"/><ellipse cx="50.0" cy="147.5" rx="5.3" ry="6.2" fill="#A179B6" transform="rotate(0 50.0 147.5)"/><ellipse cx="77.6" cy="170.0" rx="5.6" ry="6.2" fill="#A179B6" transform="rotate(0 77.6 170.0)"/><path d="M25.6 83.9L33.4 97.0L16.3 114.9" fill="none" stroke="#A179B6" stroke-width="5.3" stroke-linecap="round" stroke-linejoin="round"/><path d="M23.3 147.5L46.6 149.1L54.0 129.7" fill="none" stroke="#A179B6" stroke-width="6.2" stroke-linecap="round" stroke-linejoin="round"/><path d="M49.7 147.5L51.2 164.6L48.1 178.6" fill="none" stroke="#A179B6" stroke-width="5.3" stroke-linecap="round" stroke-linejoin="round"/><path d="M72.2 147.5L77.6 170.0L100.2 160.7" fill="none" stroke="#A179B6" stroke-width="6.2" stroke-linecap="round" stroke-linejoin="round"/><path d="M77.6 170.0L74.5 181.7L83.9 203.4" fill="none" stroke="#A179B6" stroke-width="5.6" stroke-linecap="round" stroke-linejoin="round"/></svg>
<div id="e10" class="t" style="left:3526.5px;top:52.6px;font-size:32.80px;font-family:'Liberation Sans',sans-serif;transform:scaleX(1.0283);color:#333940;-webkit-text-stroke:.5px #333940;"><span class="st"></span>NEURAL INFORMATION</div>
<div id="e11" class="t" style="left:3526.5px;top:88.3px;font-size:32.80px;font-family:'Liberation Sans',sans-serif;transform:scaleX(0.9843);color:#333940;-webkit-text-stroke:.5px #333940;"><span class="st"></span>PROCESSING SYSTEMS</div>
<svg style="left:0;top:0" width="3999" height="2249"><path d="M366.8 470.8H380.8M373.8 463.8V477.8" stroke="#5b5bff" stroke-width="1.5" fill="none"/><path d="M424.5 456.2H438.5M431.5 449.2V463.2" stroke="#5b5bff" stroke-width="1.5" fill="none"/><path d="M448.9 480.1H462.9M455.9 473.1V487.1" stroke="#5b5bff" stroke-width="1.5" fill="none"/><path d="M394.8 494.1H408.8M401.8 487.1V501.1" stroke="#5b5bff" stroke-width="1.5" fill="none"/><path d="M400.6 495.8H414.6M407.6 488.8V502.8" stroke="#5b5bff" stroke-width="1.5" fill="none"/><path d="M398.9 498.2H412.9M405.9 491.2V505.2" stroke="#5b5bff" stroke-width="1.5" fill="none"/><path d="M387.2 514.5H401.2M394.2 507.5V521.5" stroke="#5b5bff" stroke-width="1.5" fill="none"/><path d="M404.1 521.5H418.1M411.1 514.5V528.5" stroke="#5b5bff" stroke-width="1.5" fill="none"/><path d="M426.8 507.5H440.8M433.8 500.5V514.5" stroke="#5b5bff" stroke-width="1.5" fill="none"/><path d="M183.4 596.0H197.4M190.4 589.0V603.0" stroke="#3f9a3f" stroke-width="1.5" fill="none"/><path d="M166.5 614.0H180.5M173.5 607.0V621.0" stroke="#3f9a3f" stroke-width="1.5" fill="none"/><path d="M202.6 608.2H216.6M209.6 601.2V615.2" stroke="#3f9a3f" stroke-width="1.5" fill="none"/><path d="M209.6 621.0H223.6M216.6 614.0V628.0" stroke="#3f9a3f" stroke-width="1.5" fill="none"/><path d="M253.3 590.8H267.3M260.3 583.8V597.8" stroke="#3f9a3f" stroke-width="1.5" fill="none"/><path d="M253.3 594.2H267.3M260.3 587.2V601.2" stroke="#3f9a3f" stroke-width="1.5" fill="none"/><path d="M210.2 644.3H224.2M217.2 637.3V651.3" stroke="#3f9a3f" stroke-width="1.5" fill="none"/><path d="M216.0 642.6H230.0M223.0 635.6V649.6" stroke="#3f9a3f" stroke-width="1.5" fill="none"/><path d="M247.5 644.3H261.5M254.5 637.3V651.3" stroke="#3f9a3f" stroke-width="1.5" fill="none"/><path d="M264.4 629.2H278.4M271.4 622.2V636.2" stroke="#3f9a3f" stroke-width="1.5" fill="none"/><circle cx="548.5" cy="584.3" r="5.8" stroke="#3f9a3f" stroke-width="1.5" fill="none"/><circle cx="557.3" cy="593.1" r="5.8" stroke="#3f9a3f" stroke-width="1.5" fill="none"/><circle cx="566.0" cy="607.6" r="5.8" stroke="#3f9a3f" stroke-width="1.5" fill="none"/><circle cx="578.8" cy="577.9" r="5.8" stroke="#3f9a3f" stroke-width="1.5" fill="none"/><circle cx="594.5" cy="574.4" r="5.8" stroke="#3f9a3f" stroke-width="1.5" fill="none"/><circle cx="612.0" cy="584.9" r="5.8" stroke="#3f9a3f" stroke-width="1.5" fill="none"/><circle cx="595.7" cy="596.6" r="5.8" stroke="#3f9a3f" stroke-width="1.5" fill="none"/><circle cx="600.9" cy="605.3" r="5.8" stroke="#3f9a3f" stroke-width="1.5" fill="none"/><circle cx="588.1" cy="629.2" r="5.8" stroke="#3f9a3f" stroke-width="1.5" fill="none"/><circle cx="428.0" cy="696.7" r="5.8" stroke="#5b5bff" stroke-width="1.5" fill="none"/><circle cx="376.8" cy="737.5" r="5.8" stroke="#5b5bff" stroke-width="1.5" fill="none"/><circle cx="388.4" cy="737.5" r="5.8" stroke="#5b5bff" stroke-width="1.5" fill="none"/><circle cx="379.7" cy="744.5" r="5.8" stroke="#5b5bff" stroke-width="1.5" fill="none"/><circle cx="384.3" cy="751.5" r="5.8" stroke="#5b5bff" stroke-width="1.5" fill="none"/><circle cx="387.2" cy="776.5" r="5.8" stroke="#5b5bff" stroke-width="1.5" fill="none"/><circle cx="425.7" cy="736.3" r="5.8" stroke="#5b5bff" stroke-width="1.5" fill="none"/><circle cx="436.7" cy="734.6" r="5.8" stroke="#5b5bff" stroke-width="1.5" fill="none"/><circle cx="447.8" cy="728.2" r="5.8" stroke="#5b5bff" stroke-width="1.5" fill="none"/><path d="M193.3 593.7Q265.0 484.2 368.0 471.4" stroke="#ff0000" stroke-width="1.5" fill="none"/><path d="M358.6 477.1L368.0 471.4L357.5 468.2" stroke="#ff0000" stroke-width="1.5" fill="none"/><path d="M195.1 582.8L193.3 593.7L202.6 587.7" stroke="#ff0000" stroke-width="1.5" fill="none"/><path d="M1132.6 460.9H1146.6M1139.6 453.9V467.9" stroke="#5b5bff" stroke-width="1.5" fill="none"/><path d="M1190.2 446.3H1204.2M1197.2 439.3V453.3" stroke="#5b5bff" stroke-width="1.5" fill="none"/><path d="M1214.7 470.2H1228.7M1221.7 463.2V477.2" stroke="#5b5bff" stroke-width="1.5" fill="none"/><path d="M1160.5 484.2H1174.5M1167.5 477.2V491.2" stroke="#5b5bff" stroke-width="1.5" fill="none"/><path d="M1166.4 485.9H1180.4M1173.4 478.9V492.9" stroke="#5b5bff" stroke-width="1.5" fill="none"/><path d="M1164.6 488.3H1178.6M1171.6 481.3V495.3" stroke="#5b5bff" stroke-width="1.5" fill="none"/><path d="M1153.0 504.6H1167.0M1160.0 497.6V511.6" stroke="#5b5bff" stroke-width="1.5" fill="none"/><path d="M1169.8 511.6H1183.8M1176.8 504.6V518.6" stroke="#5b5bff" stroke-width="1.5" fill="none"/><path d="M1192.6 497.6H1206.6M1199.6 490.6V504.6" stroke="#5b5bff" stroke-width="1.5" fill="none"/><path d="M949.2 586.1H963.2M956.2 579.1V593.1" stroke="#3f9a3f" stroke-width="1.5" fill="none"/><path d="M932.3 604.1H946.3M939.3 597.1V611.1" stroke="#3f9a3f" stroke-width="1.5" fill="none"/><path d="M968.4 598.3H982.4M975.4 591.3V605.3" stroke="#3f9a3f" stroke-width="1.5" fill="none"/><path d="M975.4 611.1H989.4M982.4 604.1V618.1" stroke="#3f9a3f" stroke-width="1.5" fill="none"/><path d="M1019.0 580.9H1033.0M1026.0 573.9V587.9" stroke="#3f9a3f" stroke-width="1.5" fill="none"/><path d="M1019.0 584.3H1033.0M1026.0 577.3V591.3" stroke="#3f9a3f" stroke-width="1.5" fill="none"/><path d="M975.9 634.4H989.9M982.9 627.4V641.4" stroke="#3f9a3f" stroke-width="1.5" fill="none"/><path d="M981.8 632.7H995.8M988.8 625.7V639.7" stroke="#3f9a3f" stroke-width="1.5" fill="none"/><path d="M1013.2 634.4H1027.2M1020.2 627.4V641.4" stroke="#3f9a3f" stroke-width="1.5" fill="none"/><path d="M1030.1 619.3H1044.1M1037.1 612.3V626.3" stroke="#3f9a3f" stroke-width="1.5" fill="none"/><circle cx="1314.3" cy="574.4" r="5.8" stroke="#3f9a3f" stroke-width="1.5" fill="none"/><circle cx="1323.0" cy="583.2" r="5.8" stroke="#3f9a3f" stroke-width="1.5" fill="none"/><circle cx="1331.7" cy="597.7" r="5.8" stroke="#3f9a3f" stroke-width="1.5" fill="none"/><circle cx="1344.6" cy="568.0" r="5.8" stroke="#3f9a3f" stroke-width="1.5" fill="none"/><circle cx="1360.3" cy="564.5" r="5.8" stroke="#3f9a3f" stroke-width="1.5" fill="none"/><circle cx="1377.7" cy="575.0" r="5.8" stroke="#3f9a3f" stroke-width="1.5" fill="none"/><circle cx="1361.4" cy="586.7" r="5.8" stroke="#3f9a3f" stroke-width="1.5" fill="none"/><circle cx="1366.7" cy="595.4" r="5.8" stroke="#3f9a3f" stroke-width="1.5" fill="none"/><circle cx="1353.9" cy="619.3" r="5.8" stroke="#3f9a3f" stroke-width="1.5" fill="none"/><circle cx="1193.7" cy="686.8" r="5.8" stroke="#5b5bff" stroke-width="1.5" fill="none"/><circle cx="1142.5" cy="727.6" r="5.8" stroke="#5b5bff" stroke-width="1.5" fill="none"/><circle cx="1154.1" cy="727.6" r="5.8" stroke="#5b5bff" stroke-width="1.5" fill="none"/><circle cx="1145.4" cy="734.6" r="5.8" stroke="#5b5bff" stroke-width="1.5" fill="none"/><circle cx="1150.1" cy="741.6" r="5.8" stroke="#5b5bff" stroke-width="1.5" fill="none"/><circle cx="1153.0" cy="766.6" r="5.8" stroke="#5b5bff" stroke-width="1.5" fill="none"/><circle cx="1191.4" cy="726.4" r="5.8" stroke="#5b5bff" stroke-width="1.5" fill="none"/><circle cx="1202.5" cy="724.7" r="5.8" stroke="#5b5bff" stroke-width="1.5" fill="none"/><circle cx="1213.5" cy="718.3" r="5.8" stroke="#5b5bff" stroke-width="1.5" fill="none"/><path d="M957.9 579.1Q1016.1 460.9 1132.6 456.8" stroke="#7030A0" stroke-width="1.5" fill="none"/><path d="M1122.7 461.7L1132.6 456.8L1122.4 452.7" stroke="#7030A0" stroke-width="1.5" fill="none"/><path d="M1037.7 619.3Q1155.9 623.9 1219.9 480.1" stroke="#7030A0" stroke-width="1.5" fill="none"/><path d="M1219.9 491.1L1219.9 480.1L1211.8 487.5" stroke="#7030A0" stroke-width="1.5" fill="none"/><path d="M1142.5 449.8Q1185.0 420.1 1219.9 462.6" stroke="#ff0000" stroke-width="1.5" fill="none"/><path d="M1210.1 457.7L1219.9 462.6L1217.0 452.0" stroke="#ff0000" stroke-width="1.5" fill="none"/><path d="M1148.2 440.4L1142.5 449.8L1153.3 447.8" stroke="#ff0000" stroke-width="1.5" fill="none"/><path d="M957.9 594.8Q975.4 632.7 1027.8 626.9" stroke="#ff0000" stroke-width="1.5" fill="none"/><path d="M1018.3 632.4L1027.8 626.9L1017.3 623.5" stroke="#ff0000" stroke-width="1.5" fill="none"/><path d="M966.2 602.1L957.9 594.8L958.0 605.8" stroke="#ff0000" stroke-width="1.5" fill="none"/></svg>
<svg style="left:0;top:0" width="3999" height="2249"><line x1="780.3" y1="387" x2="780.3" y2="941" stroke="#4472C4" stroke-width="2.9" stroke-dasharray="12 8.5"/></svg>
<svg style="left:0;top:0" width="3999" height="2249"><line x1="1511.4" y1="388" x2="1511.4" y2="941" stroke="#4472C4" stroke-width="2.9" stroke-dasharray="12 8.5"/></svg>
<div id="e12" class="t" style="left:173.5px;top:332.0px;font-size:37.30px;font-family:'Liberation Serif',serif;transform:scaleX(1.0008);font-weight:bold;"><span class="st"></span>Kantorovich Problem (KP)</div>
<div id="e13" class="t" style="left:929.0px;top:321.3px;font-size:37.40px;font-family:'Liberation Serif',serif;transform:scaleX(1.0000);font-weight:bold;"><span class="st"></span>Gromov-Wasserstein (GW)</div>
<div id="e14" class="t" style="left:600.0px;top:381.2px;font-size:38.00px;font-family:'Liberation Serif',serif;transform:scaleX(1.0104);"><span class="st"></span><span style="color:#8585ff">Blue</span>: <b><i>p</i></b></div>
<div id="e15" class="t" style="left:600.0px;top:426.2px;font-size:38.00px;font-family:'Liberation Serif',serif;transform:scaleX(1.0045);"><span class="st"></span><span style="color:#1d9a2c">Green</span>: <b><i>q</i></b></div>
<div id="e16" class="t" style="left:256.0px;top:461.1px;font-size:34.00px;font-family:'Liberation Serif',serif;transform:scaleX(1.0341);color:#ff0000;letter-spacing:0.372px;"><span class="st"></span><i>c</i>(<i>x</i><span class="sb" style=""><i>i</i></span>, <i>y</i><span class="sb" style=""><i>j</i></span>)</div>
<div id="e17" class="t" style="left:1006.0px;top:384.1px;font-size:34.00px;font-family:'Liberation Serif',serif;transform:scaleX(1.0900);color:#ff0000;letter-spacing:1.221px;"><span class="st"></span><i>π</i><span class="sb" style=""><i>ij</i></span></div>
<div id="e18" class="t" style="left:1166.0px;top:396.2px;font-size:33.00px;font-family:'Liberation Serif',serif;transform:scaleX(0.8893);color:#ff0000;"><span class="st"></span><i>C</i><span class="ss" style=""><span class="w"><i>t</i><br><i>jl</i></span><span class="u"><i>t</i></span><span class="l"><i>jl</i></span></span></div>
<div id="e19" class="t" style="left:1153.0px;top:509.3px;font-size:34.00px;font-family:'Liberation Serif',serif;transform:scaleX(1.0673);color:#ff0000;letter-spacing:0.768px;"><span class="st"></span><i>π</i><span class="sb" style=""><i>kl</i></span></div>
<div id="e20" class="t" style="left:920.0px;top:570.2px;font-size:33.00px;font-family:'Liberation Serif',serif;transform:scaleX(0.9822);color:#ff0000;"><span class="st"></span><i>C</i><span class="ss" style=""><span class="w"><i>s</i><br><i>ik</i></span><span class="u"><i>s</i></span><span class="l"><i>ik</i></span></span></div>
<div id="e21" class="t" style="left:110.6px;top:751.0px;font-size:35.00px;font-family:'Liberation Serif',serif;transform:scaleX(1.0437);letter-spacing:.03em;letter-spacing:1.841px;"><span class="st"></span><span class="un" style=""><span class="un-t">min</span><span class="un-b" style="font-size:0.7em"><span style="top:-0.05em"><b><i>π</i></b><svg style="display:inline-block;width:0.56em;height:0.62em;vertical-align:-0.04em;margin:0 0.03em 0 0.03em;overflow:visible" viewBox="0 0 90 100"><path d="M86 6H46A44 44 0 0 0 46 94H86M4 50H86" fill="none" stroke="currentColor" stroke-width="8"/></svg>Π(<b><i>p</i></b>,<b><i>q</i></b>)</span></span></span><span style="display:inline-block;width:0.1em"></span><i>L</i><span class="sb" style=""><i>kp</i></span>(<i>π</i>)<svg style="display:inline-block;width:0.6em;height:0.62em;vertical-align:-0.02em;margin:0 0.2em 0 0.2em;overflow:visible" viewBox="0 0 100 103"><path d="M4 68H96M4 96H96" fill="none" stroke="currentColor" stroke-width="8"/><path d="M50 6L74 46H26Z" fill="none" stroke="currentColor" stroke-width="6"/></svg><svg style="display:inline-block;width:0.26em;height:1.05em;vertical-align:-0.24em;margin:0 0.02em 0 0.02em;overflow:visible" viewBox="0 0 26 105"><path d="M22 3L5 52L22 102" fill="none" stroke="currentColor" stroke-width="5.5"/></svg><i>π</i>, <i>C</i><svg style="display:inline-block;width:0.26em;height:1.05em;vertical-align:-0.24em;margin:0 0.02em 0 0.02em;overflow:visible" viewBox="0 0 26 105"><path d="M4 3L21 52L4 102" fill="none" stroke="currentColor" stroke-width="5.5"/></svg><span class="sb" style=""><i>F</i></span><span style="display:inline-block;width:0.2em"></span>=<span style="display:inline-block;width:0.25em"></span><span class="bs" style="width:1.32em"><svg style="position:absolute;left:50%;bottom:-.58em;width:1.2em;height:1.83em;transform:translateX(-50%);overflow:visible" viewBox="0 0 66 100" preserveAspectRatio="none"><path d="M2 0H59L62 23H59C57 11 53 6.5 43 6.5H17L41 47L11 89.5H45C56 89.5 61 85 63.5 73H66L62 100H2V97L31 52L2 4Z" fill="currentColor"/></svg><span class="bs-l"><i>i,j</i></span></span><span style="display:inline-block;width:0.15em"></span><i>π</i><span class="sb" style=""><i>ij</i></span><i>c</i>(<i>x</i><span class="sb" style=""><i>i</i></span>, <i>y</i><span class="sb" style=""><i>j</i></span>)</div>
<div id="e22" class="t" style="left:78.6px;top:833.0px;font-size:35.00px;font-family:'Liberation Serif',serif;transform:scaleX(1.0742);letter-spacing:1.146px;"><span class="st"></span>s.<span style="display:inline-block;width:0.12em"></span>t.<span style="display:inline-block;width:0.12em"></span>Π(<b><i>p</i></b>, <b><i>q</i></b>) = {<i>π</i><svg style="display:inline-block;width:0.56em;height:0.62em;vertical-align:-0.04em;margin:0 0.18em 0 0.18em;overflow:visible" viewBox="0 0 90 100"><path d="M86 6H46A44 44 0 0 0 46 94H86M4 50H86" fill="none" stroke="currentColor" stroke-width="8"/></svg><svg style="display:inline-block;width:0.66em;height:0.68em;vertical-align:0em;margin:0 0.02em 0 0.02em;overflow:visible" viewBox="0 0 97 100"><path d="M6 97V3H48C88 3 88 52 48 52H6M22 3V97M2 97H30M2 3H22M44 52L78 97H92M32 52L66 97H80" fill="none" stroke="currentColor" stroke-width="6"/></svg><span class="ss" style=""><span class="w"><i>m</i>×<i>n</i><br>+</span><span class="u"><i>m</i>×<i>n</i></span><span class="l">+</span></span>|<i>π</i><b>1</b><span class="sb" style=""><i>n</i></span> = <b><i>p</i></b>, <i>π</i><span class="sp" style=""><i>T</i></span><b>1</b><span class="sb" style=""><i>m</i></span> = <b><i>q</i></b>}</div>
<div id="e23" class="t" style="left:820.0px;top:753.0px;font-size:35.00px;font-family:'Liberation Serif',serif;transform:scaleX(1.0396);letter-spacing:.03em;letter-spacing:1.825px;"><span class="st"></span><span class="un" style=""><span class="un-t">min</span><span class="un-b" style="font-size:0.7em"><span style="top:-0.05em"><b><i>π</i></b><svg style="display:inline-block;width:0.56em;height:0.62em;vertical-align:-0.04em;margin:0 0.03em 0 0.03em;overflow:visible" viewBox="0 0 90 100"><path d="M86 6H46A44 44 0 0 0 46 94H86M4 50H86" fill="none" stroke="currentColor" stroke-width="8"/></svg>Π(<b><i>p</i></b>,<b><i>q</i></b>)</span></span></span><span style="display:inline-block;width:0.1em"></span><i>L</i><span class="sb" style=""><i>gw</i></span>(<i>π</i>)<svg style="display:inline-block;width:0.6em;height:0.62em;vertical-align:-0.02em;margin:0 0.2em 0 0.2em;overflow:visible" viewBox="0 0 100 103"><path d="M4 68H96M4 96H96" fill="none" stroke="currentColor" stroke-width="8"/><path d="M50 6L74 46H26Z" fill="none" stroke="currentColor" stroke-width="6"/></svg><span style="display:inline-block;width:0.1em"></span><span class="bs" style="width:1.95em"><span class="bs-h"><i>m</i></span><svg style="position:absolute;left:50%;bottom:-.58em;width:1.2em;height:1.83em;transform:translateX(-50%);overflow:visible" viewBox="0 0 66 100" preserveAspectRatio="none"><path d="M2 0H59L62 23H59C57 11 53 6.5 43 6.5H17L41 47L11 89.5H45C56 89.5 61 85 63.5 73H66L62 100H2V97L31 52L2 4Z" fill="currentColor"/></svg><span class="bs-l"><i>i,k</i>=1</span></span><span class="bs" style="width:1.75em"><span class="bs-h"><i>n</i></span><svg style="position:absolute;left:50%;bottom:-.58em;width:1.2em;height:1.83em;transform:translateX(-50%);overflow:visible" viewBox="0 0 66 100" preserveAspectRatio="none"><path d="M2 0H59L62 23H59C57 11 53 6.5 43 6.5H17L41 47L11 89.5H45C56 89.5 61 85 63.5 73H66L62 100H2V97L31 52L2 4Z" fill="currentColor"/></svg><span class="bs-l"><i>j,l</i>=1</span></span><span style="display:inline-block;width:0.1em"></span><i>π</i><span class="sb" style=""><i>ij</i></span><i>π</i><span class="sb" style=""><i>kl</i></span><span style="display:inline-block;transform:scaleY(1.25)">(</span><i>C</i><span class="ss" style=""><span class="w"><i>s</i><br><i>ik</i></span><span class="u"><i>s</i></span><span class="l"><i>ik</i></span></span> − <i>C</i><span class="ss" style=""><span class="w"><i>t</i><br><i>jl</i></span><span class="u"><i>t</i></span><span class="l"><i>jl</i></span></span><span style="display:inline-block;transform:scaleY(1.25)">)</span><span class="sp" style="vertical-align:.8em">2</span></div>
<div id="e24" class="t" style="left:810.6px;top:833.0px;font-size:35.00px;font-family:'Liberation Serif',serif;transform:scaleX(1.0728);letter-spacing:1.124px;"><span class="st"></span>s.<span style="display:inline-block;width:0.12em"></span>t.<span style="display:inline-block;width:0.12em"></span>Π(<b><i>p</i></b>, <b><i>q</i></b>) = {<i>π</i><svg style="display:inline-block;width:0.56em;height:0.62em;vertical-align:-0.04em;margin:0 0.18em 0 0.18em;overflow:visible" viewBox="0 0 90 100"><path d="M86 6H46A44 44 0 0 0 46 94H86M4 50H86" fill="none" stroke="currentColor" stroke-width="8"/></svg><svg style="display:inline-block;width:0.66em;height:0.68em;vertical-align:0em;margin:0 0.02em 0 0.02em;overflow:visible" viewBox="0 0 97 100"><path d="M6 97V3H48C88 3 88 52 48 52H6M22 3V97M2 97H30M2 3H22M44 52L78 97H92M32 52L66 97H80" fill="none" stroke="currentColor" stroke-width="6"/></svg><span class="ss" style=""><span class="w"><i>m</i>×<i>n</i><br>+</span><span class="u"><i>m</i>×<i>n</i></span><span class="l">+</span></span>|<i>π</i><b>1</b><span class="sb" style=""><i>n</i></span> = <b><i>p</i></b>, <i>π</i><span class="sp" style=""><i>T</i></span><b>1</b><span class="sb" style=""><i>m</i></span> = <b><i>q</i></b>}</div>
<div id="e25" class="t" style="left:1873.7px;top:320.0px;font-size:37.30px;font-family:'Liberation Serif',serif;transform:scaleX(0.9993);font-weight:bold;"><span class="st"></span>Limitations of OT models</div>
<div style="position:absolute;left:1551.5px;top:458.0px;width:320.8px;height:235.3px;box-sizing:border-box;border:1.5px solid #7a7a7a;background:#fff;"></div>
<div style="position:absolute;left:1917.7px;top:458.0px;width:320.8px;height:235.3px;box-sizing:border-box;border:1.5px solid #7a7a7a;background:#fff;"></div>
<div style="position:absolute;left:2284.3px;top:458.0px;width:320.3px;height:235.3px;box-sizing:border-box;border:1.5px solid #7a7a7a;background:#fff;"></div>
<svg style="left:0;top:0" width="3999" height="2249"><line x1="1700.3" y1="479.8" x2="1578.6" y2="564.3" stroke="#8c8c8c" stroke-width="0.9"/><line x1="1719.1" y1="495.7" x2="1592.1" y2="571.6" stroke="#8c8c8c" stroke-width="0.9"/><line x1="1723.0" y1="496.7" x2="1624.4" y2="559.5" stroke="#8c8c8c" stroke-width="0.9"/><line x1="1713.8" y1="509.8" x2="1624.9" y2="561.9" stroke="#8c8c8c" stroke-width="0.9"/><line x1="1721.5" y1="498.2" x2="1624.4" y2="559.5" stroke="#8c8c8c" stroke-width="0.9"/><line x1="1739.4" y1="469.7" x2="1837.5" y2="551.3" stroke="#8c8c8c" stroke-width="0.9"/><line x1="1754.9" y1="485.1" x2="1848.1" y2="548.9" stroke="#8c8c8c" stroke-width="0.9"/><line x1="1740.9" y1="504.0" x2="1816.7" y2="555.7" stroke="#8c8c8c" stroke-width="0.9"/><line x1="1725.4" y1="513.6" x2="1822.5" y2="561.4" stroke="#8c8c8c" stroke-width="0.9"/><line x1="1723.0" y1="496.7" x2="1858.7" y2="556.1" stroke="#8c8c8c" stroke-width="0.9"/><line x1="1721.5" y1="498.2" x2="1837.5" y2="551.3" stroke="#8c8c8c" stroke-width="0.9"/><line x1="1567.0" y1="575.9" x2="1702.2" y2="657.6" stroke="#8c8c8c" stroke-width="0.9"/><line x1="1595.9" y1="579.3" x2="1701.3" y2="661.9" stroke="#8c8c8c" stroke-width="0.9"/><line x1="1596.4" y1="595.3" x2="1710.0" y2="657.6" stroke="#8c8c8c" stroke-width="0.9"/><line x1="1600.3" y1="593.8" x2="1706.6" y2="667.2" stroke="#8c8c8c" stroke-width="0.9"/><line x1="1621.1" y1="594.8" x2="1702.2" y2="657.6" stroke="#8c8c8c" stroke-width="0.9"/><line x1="1632.7" y1="586.6" x2="1709.0" y2="684.2" stroke="#8c8c8c" stroke-width="0.9"/><line x1="1592.1" y1="571.6" x2="1701.3" y2="661.9" stroke="#8c8c8c" stroke-width="0.9"/><line x1="1736.5" y1="630.5" x2="1828.8" y2="570.6" stroke="#8c8c8c" stroke-width="0.9"/><line x1="1734.1" y1="656.6" x2="1849.1" y2="563.9" stroke="#8c8c8c" stroke-width="0.9"/><line x1="1742.3" y1="656.1" x2="1851.5" y2="569.7" stroke="#8c8c8c" stroke-width="0.9"/><line x1="1749.1" y1="651.8" x2="1843.3" y2="585.6" stroke="#8c8c8c" stroke-width="0.9"/><path d="M1695.7 479.8H1704.9M1700.3 475.2V484.4" stroke="#5b5bff" stroke-width="1.1" fill="none"/><path d="M1734.8 469.7H1744.0M1739.4 465.1V474.3" stroke="#5b5bff" stroke-width="1.1" fill="none"/><path d="M1750.3 485.1H1759.5M1754.9 480.5V489.7" stroke="#5b5bff" stroke-width="1.1" fill="none"/><path d="M1714.5 495.7H1723.7M1719.1 491.1V500.3" stroke="#5b5bff" stroke-width="1.1" fill="none"/><path d="M1718.4 496.7H1727.6M1723.0 492.1V501.3" stroke="#5b5bff" stroke-width="1.1" fill="none"/><path d="M1716.9 498.2H1726.1M1721.5 493.6V502.8" stroke="#5b5bff" stroke-width="1.1" fill="none"/><path d="M1709.2 509.8H1718.4M1713.8 505.2V514.4" stroke="#5b5bff" stroke-width="1.1" fill="none"/><path d="M1720.8 513.6H1730.0M1725.4 509.0V518.2" stroke="#5b5bff" stroke-width="1.1" fill="none"/><path d="M1736.3 504.0H1745.5M1740.9 499.4V508.6" stroke="#5b5bff" stroke-width="1.1" fill="none"/><path d="M1574.0 564.3H1583.2M1578.6 559.7V568.9" stroke="#3f9a3f" stroke-width="1.1" fill="none"/><path d="M1562.4 575.9H1571.6M1567.0 571.3V580.5" stroke="#3f9a3f" stroke-width="1.1" fill="none"/><path d="M1587.5 571.6H1596.7M1592.1 567.0V576.2" stroke="#3f9a3f" stroke-width="1.1" fill="none"/><path d="M1591.3 579.3H1600.5M1595.9 574.7V583.9" stroke="#3f9a3f" stroke-width="1.1" fill="none"/><path d="M1619.8 559.5H1629.0M1624.4 554.9V564.1" stroke="#3f9a3f" stroke-width="1.1" fill="none"/><path d="M1620.3 561.9H1629.5M1624.9 557.3V566.5" stroke="#3f9a3f" stroke-width="1.1" fill="none"/><path d="M1591.8 595.3H1601.0M1596.4 590.7V599.9" stroke="#3f9a3f" stroke-width="1.1" fill="none"/><path d="M1595.7 593.8H1604.9M1600.3 589.2V598.4" stroke="#3f9a3f" stroke-width="1.1" fill="none"/><path d="M1616.5 594.8H1625.7M1621.1 590.2V599.4" stroke="#3f9a3f" stroke-width="1.1" fill="none"/><path d="M1628.1 586.6H1637.3M1632.7 582.0V591.2" stroke="#3f9a3f" stroke-width="1.1" fill="none"/><circle cx="1816.7" cy="555.7" r="3.6" stroke="#3f9a3f" stroke-width="1.1" fill="none"/><circle cx="1822.5" cy="561.4" r="3.6" stroke="#3f9a3f" stroke-width="1.1" fill="none"/><circle cx="1828.8" cy="570.6" r="3.6" stroke="#3f9a3f" stroke-width="1.1" fill="none"/><circle cx="1837.5" cy="551.3" r="3.6" stroke="#3f9a3f" stroke-width="1.1" fill="none"/><circle cx="1848.1" cy="548.9" r="3.6" stroke="#3f9a3f" stroke-width="1.1" fill="none"/><circle cx="1858.7" cy="556.1" r="3.6" stroke="#3f9a3f" stroke-width="1.1" fill="none"/><circle cx="1849.1" cy="563.9" r="3.6" stroke="#3f9a3f" stroke-width="1.1" fill="none"/><circle cx="1851.5" cy="569.7" r="3.6" stroke="#3f9a3f" stroke-width="1.1" fill="none"/><circle cx="1843.3" cy="585.6" r="3.6" stroke="#3f9a3f" stroke-width="1.1" fill="none"/><circle cx="1736.5" cy="630.5" r="3.6" stroke="#5b5bff" stroke-width="1.1" fill="none"/><circle cx="1702.2" cy="657.6" r="3.6" stroke="#5b5bff" stroke-width="1.1" fill="none"/><circle cx="1710.0" cy="657.6" r="3.6" stroke="#5b5bff" stroke-width="1.1" fill="none"/><circle cx="1701.3" cy="661.9" r="3.6" stroke="#5b5bff" stroke-width="1.1" fill="none"/><circle cx="1706.6" cy="667.2" r="3.6" stroke="#5b5bff" stroke-width="1.1" fill="none"/><circle cx="1709.0" cy="684.2" r="3.6" stroke="#5b5bff" stroke-width="1.1" fill="none"/><circle cx="1734.1" cy="656.6" r="3.6" stroke="#5b5bff" stroke-width="1.1" fill="none"/><circle cx="1742.3" cy="656.1" r="3.6" stroke="#5b5bff" stroke-width="1.1" fill="none"/><circle cx="1749.1" cy="651.8" r="3.6" stroke="#5b5bff" stroke-width="1.1" fill="none"/><line x1="2066.5" y1="479.8" x2="2182.9" y2="555.7" stroke="#8c8c8c" stroke-width="0.9"/><line x1="2105.6" y1="469.7" x2="2203.7" y2="551.3" stroke="#8c8c8c" stroke-width="0.9"/><line x1="2121.1" y1="485.1" x2="2214.3" y2="548.9" stroke="#8c8c8c" stroke-width="0.9"/><line x1="2085.3" y1="495.7" x2="2188.7" y2="561.4" stroke="#8c8c8c" stroke-width="0.9"/><line x1="2089.2" y1="496.7" x2="2195.0" y2="570.6" stroke="#8c8c8c" stroke-width="0.9"/><line x1="2087.7" y1="498.2" x2="2215.3" y2="563.9" stroke="#8c8c8c" stroke-width="0.9"/><line x1="2080.0" y1="509.8" x2="2217.7" y2="569.7" stroke="#8c8c8c" stroke-width="0.9"/><line x1="2091.6" y1="513.6" x2="2209.5" y2="585.6" stroke="#8c8c8c" stroke-width="0.9"/><line x1="2107.1" y1="504.0" x2="2224.9" y2="556.1" stroke="#8c8c8c" stroke-width="0.9"/><line x1="1944.7" y1="564.3" x2="2068.4" y2="657.6" stroke="#8c8c8c" stroke-width="0.9"/><line x1="1933.1" y1="575.9" x2="2067.4" y2="661.9" stroke="#8c8c8c" stroke-width="0.9"/><line x1="1958.3" y1="571.6" x2="2076.1" y2="657.6" stroke="#8c8c8c" stroke-width="0.9"/><line x1="1962.1" y1="579.3" x2="2072.8" y2="667.2" stroke="#8c8c8c" stroke-width="0.9"/><line x1="1990.6" y1="559.5" x2="2102.7" y2="630.5" stroke="#8c8c8c" stroke-width="0.9"/><line x1="1991.1" y1="561.9" x2="2100.3" y2="656.6" stroke="#8c8c8c" stroke-width="0.9"/><line x1="1962.6" y1="595.3" x2="2075.2" y2="684.2" stroke="#8c8c8c" stroke-width="0.9"/><line x1="1966.5" y1="593.8" x2="2067.4" y2="661.9" stroke="#8c8c8c" stroke-width="0.9"/><line x1="1987.2" y1="594.8" x2="2108.5" y2="656.1" stroke="#8c8c8c" stroke-width="0.9"/><line x1="1998.8" y1="586.6" x2="2115.3" y2="651.8" stroke="#8c8c8c" stroke-width="0.9"/><path d="M2061.9 479.8H2071.1M2066.5 475.2V484.4" stroke="#5b5bff" stroke-width="1.1" fill="none"/><path d="M2101.0 469.7H2110.2M2105.6 465.1V474.3" stroke="#5b5bff" stroke-width="1.1" fill="none"/><path d="M2116.5 485.1H2125.7M2121.1 480.5V489.7" stroke="#5b5bff" stroke-width="1.1" fill="none"/><path d="M2080.7 495.7H2089.9M2085.3 491.1V500.3" stroke="#5b5bff" stroke-width="1.1" fill="none"/><path d="M2084.6 496.7H2093.8M2089.2 492.1V501.3" stroke="#5b5bff" stroke-width="1.1" fill="none"/><path d="M2083.1 498.2H2092.3M2087.7 493.6V502.8" stroke="#5b5bff" stroke-width="1.1" fill="none"/><path d="M2075.4 509.8H2084.6M2080.0 505.2V514.4" stroke="#5b5bff" stroke-width="1.1" fill="none"/><path d="M2087.0 513.6H2096.2M2091.6 509.0V518.2" stroke="#5b5bff" stroke-width="1.1" fill="none"/><path d="M2102.5 504.0H2111.7M2107.1 499.4V508.6" stroke="#5b5bff" stroke-width="1.1" fill="none"/><path d="M1940.1 564.3H1949.3M1944.7 559.7V568.9" stroke="#3f9a3f" stroke-width="1.1" fill="none"/><path d="M1928.5 575.9H1937.7M1933.1 571.3V580.5" stroke="#3f9a3f" stroke-width="1.1" fill="none"/><path d="M1953.7 571.6H1962.9M1958.3 567.0V576.2" stroke="#3f9a3f" stroke-width="1.1" fill="none"/><path d="M1957.5 579.3H1966.7M1962.1 574.7V583.9" stroke="#3f9a3f" stroke-width="1.1" fill="none"/><path d="M1986.0 559.5H1995.2M1990.6 554.9V564.1" stroke="#3f9a3f" stroke-width="1.1" fill="none"/><path d="M1986.5 561.9H1995.7M1991.1 557.3V566.5" stroke="#3f9a3f" stroke-width="1.1" fill="none"/><path d="M1958.0 595.3H1967.2M1962.6 590.7V599.9" stroke="#3f9a3f" stroke-width="1.1" fill="none"/><path d="M1961.9 593.8H1971.1M1966.5 589.2V598.4" stroke="#3f9a3f" stroke-width="1.1" fill="none"/><path d="M1982.6 594.8H1991.8M1987.2 590.2V599.4" stroke="#3f9a3f" stroke-width="1.1" fill="none"/><path d="M1994.2 586.6H2003.4M1998.8 582.0V591.2" stroke="#3f9a3f" stroke-width="1.1" fill="none"/><circle cx="2182.9" cy="555.7" r="3.6" stroke="#3f9a3f" stroke-width="1.1" fill="none"/><circle cx="2188.7" cy="561.4" r="3.6" stroke="#3f9a3f" stroke-width="1.1" fill="none"/><circle cx="2195.0" cy="570.6" r="3.6" stroke="#3f9a3f" stroke-width="1.1" fill="none"/><circle cx="2203.7" cy="551.3" r="3.6" stroke="#3f9a3f" stroke-width="1.1" fill="none"/><circle cx="2214.3" cy="548.9" r="3.6" stroke="#3f9a3f" stroke-width="1.1" fill="none"/><circle cx="2224.9" cy="556.1" r="3.6" stroke="#3f9a3f" stroke-width="1.1" fill="none"/><circle cx="2215.3" cy="563.9" r="3.6" stroke="#3f9a3f" stroke-width="1.1" fill="none"/><circle cx="2217.7" cy="569.7" r="3.6" stroke="#3f9a3f" stroke-width="1.1" fill="none"/><circle cx="2209.5" cy="585.6" r="3.6" stroke="#3f9a3f" stroke-width="1.1" fill="none"/><circle cx="2102.7" cy="630.5" r="3.6" stroke="#5b5bff" stroke-width="1.1" fill="none"/><circle cx="2068.4" cy="657.6" r="3.6" stroke="#5b5bff" stroke-width="1.1" fill="none"/><circle cx="2076.1" cy="657.6" r="3.6" stroke="#5b5bff" stroke-width="1.1" fill="none"/><circle cx="2067.4" cy="661.9" r="3.6" stroke="#5b5bff" stroke-width="1.1" fill="none"/><circle cx="2072.8" cy="667.2" r="3.6" stroke="#5b5bff" stroke-width="1.1" fill="none"/><circle cx="2075.2" cy="684.2" r="3.6" stroke="#5b5bff" stroke-width="1.1" fill="none"/><circle cx="2100.3" cy="656.6" r="3.6" stroke="#5b5bff" stroke-width="1.1" fill="none"/><circle cx="2108.5" cy="656.1" r="3.6" stroke="#5b5bff" stroke-width="1.1" fill="none"/><circle cx="2115.3" cy="651.8" r="3.6" stroke="#5b5bff" stroke-width="1.1" fill="none"/><line x1="2433.1" y1="479.8" x2="2299.8" y2="575.9" stroke="#8c8c8c" stroke-width="0.9"/><line x1="2472.3" y1="469.7" x2="2357.3" y2="559.5" stroke="#8c8c8c" stroke-width="0.9"/><line x1="2452.0" y1="495.7" x2="2328.8" y2="579.3" stroke="#8c8c8c" stroke-width="0.9"/><line x1="2455.8" y1="496.7" x2="2357.8" y2="561.9" stroke="#8c8c8c" stroke-width="0.9"/><line x1="2454.4" y1="498.2" x2="2329.3" y2="595.3" stroke="#8c8c8c" stroke-width="0.9"/><line x1="2446.7" y1="509.8" x2="2333.1" y2="593.8" stroke="#8c8c8c" stroke-width="0.9"/><line x1="2458.3" y1="513.6" x2="2353.9" y2="594.8" stroke="#8c8c8c" stroke-width="0.9"/><line x1="2473.7" y1="504.0" x2="2365.5" y2="586.6" stroke="#8c8c8c" stroke-width="0.9"/><line x1="2452.0" y1="495.7" x2="2324.9" y2="571.6" stroke="#8c8c8c" stroke-width="0.9"/><line x1="2469.4" y1="630.5" x2="2549.6" y2="555.7" stroke="#8c8c8c" stroke-width="0.9"/><line x1="2435.1" y1="657.6" x2="2555.4" y2="561.4" stroke="#8c8c8c" stroke-width="0.9"/><line x1="2442.8" y1="657.6" x2="2561.6" y2="570.6" stroke="#8c8c8c" stroke-width="0.9"/><line x1="2434.1" y1="661.9" x2="2581.9" y2="563.9" stroke="#8c8c8c" stroke-width="0.9"/><line x1="2439.4" y1="667.2" x2="2584.3" y2="569.7" stroke="#8c8c8c" stroke-width="0.9"/><line x1="2441.8" y1="684.2" x2="2576.1" y2="585.6" stroke="#8c8c8c" stroke-width="0.9"/><line x1="2467.0" y1="656.6" x2="2581.0" y2="548.9" stroke="#8c8c8c" stroke-width="0.9"/><line x1="2475.2" y1="656.1" x2="2591.6" y2="556.1" stroke="#8c8c8c" stroke-width="0.9"/><path d="M2428.5 479.8H2437.7M2433.1 475.2V484.4" stroke="#5b5bff" stroke-width="1.1" fill="none"/><path d="M2467.7 469.7H2476.9M2472.3 465.1V474.3" stroke="#5b5bff" stroke-width="1.1" fill="none"/><path d="M2447.4 495.7H2456.6M2452.0 491.1V500.3" stroke="#5b5bff" stroke-width="1.1" fill="none"/><path d="M2451.2 496.7H2460.4M2455.8 492.1V501.3" stroke="#5b5bff" stroke-width="1.1" fill="none"/><path d="M2449.8 498.2H2459.0M2454.4 493.6V502.8" stroke="#5b5bff" stroke-width="1.1" fill="none"/><path d="M2442.1 509.8H2451.3M2446.7 505.2V514.4" stroke="#5b5bff" stroke-width="1.1" fill="none"/><path d="M2453.7 513.6H2462.9M2458.3 509.0V518.2" stroke="#5b5bff" stroke-width="1.1" fill="none"/><path d="M2469.1 504.0H2478.3M2473.7 499.4V508.6" stroke="#5b5bff" stroke-width="1.1" fill="none"/><path d="M2295.2 575.9H2304.4M2299.8 571.3V580.5" stroke="#3f9a3f" stroke-width="1.1" fill="none"/><path d="M2320.3 571.6H2329.5M2324.9 567.0V576.2" stroke="#3f9a3f" stroke-width="1.1" fill="none"/><path d="M2324.2 579.3H2333.4M2328.8 574.7V583.9" stroke="#3f9a3f" stroke-width="1.1" fill="none"/><path d="M2352.7 559.5H2361.9M2357.3 554.9V564.1" stroke="#3f9a3f" stroke-width="1.1" fill="none"/><path d="M2353.2 561.9H2362.4M2357.8 557.3V566.5" stroke="#3f9a3f" stroke-width="1.1" fill="none"/><path d="M2324.7 595.3H2333.9M2329.3 590.7V599.9" stroke="#3f9a3f" stroke-width="1.1" fill="none"/><path d="M2328.5 593.8H2337.7M2333.1 589.2V598.4" stroke="#3f9a3f" stroke-width="1.1" fill="none"/><path d="M2349.3 594.8H2358.5M2353.9 590.2V599.4" stroke="#3f9a3f" stroke-width="1.1" fill="none"/><path d="M2360.9 586.6H2370.1M2365.5 582.0V591.2" stroke="#3f9a3f" stroke-width="1.1" fill="none"/><circle cx="2549.6" cy="555.7" r="3.6" stroke="#3f9a3f" stroke-width="1.1" fill="none"/><circle cx="2555.4" cy="561.4" r="3.6" stroke="#3f9a3f" stroke-width="1.1" fill="none"/><circle cx="2561.6" cy="570.6" r="3.6" stroke="#3f9a3f" stroke-width="1.1" fill="none"/><circle cx="2581.0" cy="548.9" r="3.6" stroke="#3f9a3f" stroke-width="1.1" fill="none"/><circle cx="2591.6" cy="556.1" r="3.6" stroke="#3f9a3f" stroke-width="1.1" fill="none"/><circle cx="2581.9" cy="563.9" r="3.6" stroke="#3f9a3f" stroke-width="1.1" fill="none"/><circle cx="2584.3" cy="569.7" r="3.6" stroke="#3f9a3f" stroke-width="1.1" fill="none"/><circle cx="2576.1" cy="585.6" r="3.6" stroke="#3f9a3f" stroke-width="1.1" fill="none"/><circle cx="2469.4" cy="630.5" r="3.6" stroke="#5b5bff" stroke-width="1.1" fill="none"/><circle cx="2435.1" cy="657.6" r="3.6" stroke="#5b5bff" stroke-width="1.1" fill="none"/><circle cx="2442.8" cy="657.6" r="3.6" stroke="#5b5bff" stroke-width="1.1" fill="none"/><circle cx="2434.1" cy="661.9" r="3.6" stroke="#5b5bff" stroke-width="1.1" fill="none"/><circle cx="2439.4" cy="667.2" r="3.6" stroke="#5b5bff" stroke-width="1.1" fill="none"/><circle cx="2441.8" cy="684.2" r="3.6" stroke="#5b5bff" stroke-width="1.1" fill="none"/><circle cx="2467.0" cy="656.6" r="3.6" stroke="#5b5bff" stroke-width="1.1" fill="none"/><circle cx="2475.2" cy="656.1" r="3.6" stroke="#5b5bff" stroke-width="1.1" fill="none"/><line x1="2487.7" y1="485.1" x2="2311.4" y2="564.3" stroke="#ff4040" stroke-width="1.2"/><line x1="2481.9" y1="651.8" x2="2570.3" y2="551.3" stroke="#ff4040" stroke-width="1.2"/><path d="M2482.2 485.1H2493.2M2487.7 479.6V490.6" stroke="#ff4040" stroke-width="1.2" fill="none"/><path d="M2305.9 564.3H2316.9M2311.4 558.8V569.8" stroke="#ff4040" stroke-width="1.2" fill="none"/><circle cx="2570.3" cy="551.3" r="4.6" stroke="#ff4040" stroke-width="1.2" fill="none"/><circle cx="2481.9" cy="651.8" r="4.6" stroke="#ff4040" stroke-width="1.2" fill="none"/></svg>
<div id="e26" class="t" style="left:1695.0px;top:653.5px;font-size:29.80px;font-family:'Liberation Serif',serif;transform:scaleX(0.9906);font-weight:bold;"><span class="st"></span>KP</div>
<div id="e27" class="t" style="left:2051.0px;top:657.0px;font-size:30.30px;font-family:'Liberation Serif',serif;transform:scaleX(1.0135);font-weight:bold;"><span class="st"></span>GW</div>
<div id="e28" class="t" style="left:2360.0px;top:657.0px;font-size:30.30px;font-family:'Liberation Serif',serif;transform:scaleX(1.0212);font-weight:bold;"><span class="st"></span>KPG-RL (Ours)</div>
<div id="e29" class="t" style="left:1536.5px;top:704.5px;font-size:38.00px;font-family:'Liberation Serif',serif;"><span class="st"></span>•</div>
<div id="e30" class="t" style="left:1579.0px;top:712.6px;font-size:34.30px;font-family:'Liberation Serif',serif;transform:scaleX(1.0000);"><span class="st"></span>Without additional guidance, KP and GW models cause incorrect matching.</div>
<div id="e31" class="t" style="left:1536.5px;top:745.5px;font-size:38.00px;font-family:'Liberation Serif',serif;"><span class="st"></span>•</div>
<div id="e32" class="t" style="left:1579.0px;top:753.6px;font-size:34.30px;font-family:'Liberation Serif',serif;transform:scaleX(1.0004);"><span class="st"></span>In many, annotating a few paired keypoints is reasonable or effortless.</div>
<div id="e33" class="t" style="left:1536.5px;top:786.5px;font-size:38.00px;font-family:'Liberation Serif',serif;"><span class="st"></span>•</div>
<div id="e34" class="t" style="left:1579.0px;top:794.6px;font-size:34.30px;font-family:'Liberation Serif',serif;transform:scaleX(1.0013);"><span class="st"></span>We propose the KPG-RL model that leverages a few prior annotated</div>
<div id="e35" class="t" style="left:1579.0px;top:835.6px;font-size:34.30px;font-family:'Liberation Serif',serif;transform:scaleX(0.9975);"><span class="st"></span>keypoint pairs to the correct matching in OT.</div>
<svg style="left:0;top:0" width="3999" height="2249"><line x1="110.9" y1="1163.9" x2="262.0" y2="1131.8" stroke="#d9d9d9" stroke-width="1.2"/><path d="M213.8 1134.8L221.0 1142.0M213.8 1142.0L221.0 1134.8" stroke="#ff5050" stroke-width="1" fill="none"/><line x1="110.9" y1="1163.9" x2="293.5" y2="1172.1" stroke="#d9d9d9" stroke-width="1.2"/><path d="M261.6 1164.7L268.8 1171.9M261.6 1171.9L268.8 1164.7" stroke="#ff5050" stroke-width="1" fill="none"/><line x1="110.9" y1="1163.9" x2="287.0" y2="1258.5" stroke="#d9d9d9" stroke-width="1.2"/><path d="M261.1 1238.6L268.3 1245.8M261.1 1245.8L268.3 1238.6" stroke="#ff5050" stroke-width="1" fill="none"/><line x1="110.9" y1="1163.9" x2="287.0" y2="1295.4" stroke="#d9d9d9" stroke-width="1.2"/><path d="M263.8 1275.0L271.0 1282.2M263.8 1282.2L271.0 1275.0" stroke="#ff5050" stroke-width="1" fill="none"/><line x1="110.9" y1="1163.9" x2="248.9" y2="1182.4" stroke="#ff3030" stroke-width="1.2"/><line x1="104.3" y1="1301.4" x2="254.3" y2="1304.7" stroke="#ff3030" stroke-width="1.2"/></svg>
<div style="position:absolute;left:67.8px;top:1129.0px;width:19.8px;height:19.8px;border-radius:50%;background:#0070C0;color:#fff;font:bold 17.5px/19.8px 'Liberation Sans',sans-serif;text-align:center">1</div>
<div style="position:absolute;left:61.8px;top:1162.7px;width:19.8px;height:19.8px;border-radius:50%;background:#0070C0;color:#fff;font:bold 17.5px/19.8px 'Liberation Sans',sans-serif;text-align:center">2</div>
<div style="position:absolute;left:71.1px;top:1245.3px;width:19.8px;height:19.8px;border-radius:50%;background:#0070C0;color:#fff;font:bold 17.5px/19.8px 'Liberation Sans',sans-serif;text-align:center">4</div>
<div style="position:absolute;left:57.5px;top:1277.9px;width:19.8px;height:19.8px;border-radius:50%;background:#0070C0;color:#fff;font:bold 17.5px/19.8px 'Liberation Sans',sans-serif;text-align:center">5</div>
<div style="position:absolute;left:101.0px;top:1154.0px;width:19.8px;height:19.8px;border-radius:50%;background:#ff0000;color:#fff;font:bold 17.5px/19.8px 'Liberation Sans',sans-serif;text-align:center">3</div>
<div style="position:absolute;left:94.4px;top:1291.5px;width:19.8px;height:19.8px;border-radius:50%;background:#ff0000;color:#fff;font:bold 17.5px/19.8px 'Liberation Sans',sans-serif;text-align:center">6</div>
<div style="position:absolute;left:252.1px;top:1121.9px;width:19.8px;height:19.8px;border-radius:50%;background:#548235;color:#fff;font:bold 17.5px/19.8px 'Liberation Sans',sans-serif;text-align:center">1</div>
<div style="position:absolute;left:283.6px;top:1162.2px;width:19.8px;height:19.8px;border-radius:50%;background:#548235;color:#fff;font:bold 17.5px/19.8px 'Liberation Sans',sans-serif;text-align:center">3</div>
<div style="position:absolute;left:277.1px;top:1248.6px;width:19.8px;height:19.8px;border-radius:50%;background:#548235;color:#fff;font:bold 17.5px/19.8px 'Liberation Sans',sans-serif;text-align:center">4</div>
<div style="position:absolute;left:277.1px;top:1285.5px;width:19.8px;height:19.8px;border-radius:50%;background:#548235;color:#fff;font:bold 17.5px/19.8px 'Liberation Sans',sans-serif;text-align:center">6</div>
<div style="position:absolute;left:239.0px;top:1172.5px;width:19.8px;height:19.8px;border-radius:50%;background:#ff0000;color:#fff;font:bold 17.5px/19.8px 'Liberation Sans',sans-serif;text-align:center">2</div>
<div style="position:absolute;left:244.4px;top:1294.8px;width:19.8px;height:19.8px;border-radius:50%;background:#ff0000;color:#fff;font:bold 17.5px/19.8px 'Liberation Sans',sans-serif;text-align:center">5</div>
<div id="e36" class="t" style="left:61.0px;top:1254.4px;font-size:33.50px;font-family:'Liberation Serif',serif;"><span class="st"></span><b><i>p</i></b></div>
<div id="e37" class="t" style="left:264.5px;top:1254.4px;font-size:33.50px;font-family:'Liberation Serif',serif;"><span class="st"></span><b><i>q</i></b></div>
<svg style="left:0;top:0" width="3999" height="2249"><line x1="339.7" y1="1109" x2="339.7" y2="1349" stroke="#d02030" stroke-width="3.2" stroke-dasharray="10.5 7"/></svg>
<div style="position:absolute;left:443.0px;top:1084.0px;width:217.5px;height:36.2px;background:#000;"></div>
<div style="position:absolute;left:444.0px;top:1085.0px;width:34.6px;height:34.6px;background:#C5E0B4;font:17px/34.2px 'Liberation Serif',serif;text-align:center;white-space:nowrap"><i>q</i><span style="font-size:.72em;vertical-align:-.3em;line-height:0">1</span></div>
<div style="position:absolute;left:480.2px;top:1085.0px;width:34.6px;height:34.6px;background:#C5E0B4;font:17px/34.2px 'Liberation Serif',serif;text-align:center;white-space:nowrap"><i>q</i><span style="font-size:.72em;vertical-align:-.3em;line-height:0">2</span></div>
<div style="position:absolute;left:516.5px;top:1085.0px;width:34.6px;height:34.6px;background:#C5E0B4;font:17px/34.2px 'Liberation Serif',serif;text-align:center;white-space:nowrap"><i>q</i><span style="font-size:.72em;vertical-align:-.3em;line-height:0">3</span></div>
<div style="position:absolute;left:552.8px;top:1085.0px;width:34.6px;height:34.6px;background:#C5E0B4;font:17px/34.2px 'Liberation Serif',serif;text-align:center;white-space:nowrap"><i>q</i><span style="font-size:.72em;vertical-align:-.3em;line-height:0">4</span></div>
<div style="position:absolute;left:589.0px;top:1085.0px;width:34.6px;height:34.6px;background:#C5E0B4;font:17px/34.2px 'Liberation Serif',serif;text-align:center;white-space:nowrap"><i>q</i><span style="font-size:.72em;vertical-align:-.3em;line-height:0">5</span></div>
<div style="position:absolute;left:625.2px;top:1085.0px;width:34.6px;height:34.6px;background:#C5E0B4;font:17px/34.2px 'Liberation Serif',serif;text-align:center;white-space:nowrap"><i>q</i><span style="font-size:.72em;vertical-align:-.3em;line-height:0">6</span></div>
<div style="position:absolute;left:442.4px;top:1083.4px;width:218.7px;height:37.5px;border:1.8px solid #000;box-sizing:border-box"></div>
<div style="position:absolute;left:395.0px;top:1130.2px;width:36.2px;height:217.5px;background:#000;"></div>
<div style="position:absolute;left:396.0px;top:1131.2px;width:34.6px;height:34.6px;background:#C5E0B4;font:17px/34.2px 'Liberation Serif',serif;text-align:center;white-space:nowrap"><i>p</i><span style="font-size:.72em;vertical-align:-.3em;line-height:0">1</span></div>
<div style="position:absolute;left:396.0px;top:1167.5px;width:34.6px;height:34.6px;background:#C5E0B4;font:17px/34.2px 'Liberation Serif',serif;text-align:center;white-space:nowrap"><i>p</i><span style="font-size:.72em;vertical-align:-.3em;line-height:0">2</span></div>
<div style="position:absolute;left:396.0px;top:1203.7px;width:34.6px;height:34.6px;background:#C5E0B4;font:17px/34.2px 'Liberation Serif',serif;text-align:center;white-space:nowrap"><i>p</i><span style="font-size:.72em;vertical-align:-.3em;line-height:0">3</span></div>
<div style="position:absolute;left:396.0px;top:1240.0px;width:34.6px;height:34.6px;background:#C5E0B4;font:17px/34.2px 'Liberation Serif',serif;text-align:center;white-space:nowrap"><i>p</i><span style="font-size:.72em;vertical-align:-.3em;line-height:0">4</span></div>
<div style="position:absolute;left:396.0px;top:1276.2px;width:34.6px;height:34.6px;background:#C5E0B4;font:17px/34.2px 'Liberation Serif',serif;text-align:center;white-space:nowrap"><i>p</i><span style="font-size:.72em;vertical-align:-.3em;line-height:0">5</span></div>
<div style="position:absolute;left:396.0px;top:1312.5px;width:34.6px;height:34.6px;background:#C5E0B4;font:17px/34.2px 'Liberation Serif',serif;text-align:center;white-space:nowrap"><i>p</i><span style="font-size:.72em;vertical-align:-.3em;line-height:0">6</span></div>
<div style="position:absolute;left:394.4px;top:1129.6px;width:37.5px;height:218.7px;border:1.8px solid #000;box-sizing:border-box"></div>
<div style="position:absolute;left:443.0px;top:1130.2px;width:217.5px;height:217.5px;background:#000;"></div>
<div style="position:absolute;left:444.0px;top:1131.2px;width:34.6px;height:34.6px;background:#C5E0B4;font:16px/34.2px 'Liberation Serif',serif;text-align:center;white-space:nowrap"></div>
<div style="position:absolute;left:480.2px;top:1131.2px;width:34.6px;height:34.6px;background:#fff;font:16px/34.2px 'Liberation Serif',serif;text-align:center;white-space:nowrap">0</div>
<div style="position:absolute;left:516.5px;top:1131.2px;width:34.6px;height:34.6px;background:#C5E0B4;font:16px/34.2px 'Liberation Serif',serif;text-align:center;white-space:nowrap"></div>
<div style="position:absolute;left:552.8px;top:1131.2px;width:34.6px;height:34.6px;background:#C5E0B4;font:16px/34.2px 'Liberation Serif',serif;text-align:center;white-space:nowrap"></div>
<div style="position:absolute;left:589.0px;top:1131.2px;width:34.6px;height:34.6px;background:#fff;font:16px/34.2px 'Liberation Serif',serif;text-align:center;white-space:nowrap">0</div>
<div style="position:absolute;left:625.2px;top:1131.2px;width:34.6px;height:34.6px;background:#C5E0B4;font:16px/34.2px 'Liberation Serif',serif;text-align:center;white-space:nowrap"></div>
<div style="position:absolute;left:444.0px;top:1167.5px;width:34.6px;height:34.6px;background:#C5E0B4;font:16px/34.2px 'Liberation Serif',serif;text-align:center;white-space:nowrap"></div>
<div style="position:absolute;left:480.2px;top:1167.5px;width:34.6px;height:34.6px;background:#fff;font:16px/34.2px 'Liberation Serif',serif;text-align:center;white-space:nowrap">0</div>
<div style="position:absolute;left:516.5px;top:1167.5px;width:34.6px;height:34.6px;background:#C5E0B4;font:16px/34.2px 'Liberation Serif',serif;text-align:center;white-space:nowrap"></div>
<div style="position:absolute;left:552.8px;top:1167.5px;width:34.6px;height:34.6px;background:#C5E0B4;font:16px/34.2px 'Liberation Serif',serif;text-align:center;white-space:nowrap"></div>
<div style="position:absolute;left:589.0px;top:1167.5px;width:34.6px;height:34.6px;background:#fff;font:16px/34.2px 'Liberation Serif',serif;text-align:center;white-space:nowrap">0</div>
<div style="position:absolute;left:625.2px;top:1167.5px;width:34.6px;height:34.6px;background:#C5E0B4;font:16px/34.2px 'Liberation Serif',serif;text-align:center;white-space:nowrap"></div>
<div style="position:absolute;left:444.0px;top:1203.7px;width:34.6px;height:34.6px;background:#fff;font:16px/34.2px 'Liberation Serif',serif;text-align:center;white-space:nowrap">0</div>
<div style="position:absolute;left:480.2px;top:1203.7px;width:34.6px;height:34.6px;background:#C5E0B4;font:16px/34.2px 'Liberation Serif',serif;text-align:center;white-space:nowrap"><span style="position:relative"><i>π</i><span style="position:absolute;left:.05em;top:-.42em;font-size:.8em">~</span></span><span style="font-size:.72em;vertical-align:-.3em;line-height:0">32</span></div>
<div style="position:absolute;left:516.5px;top:1203.7px;width:34.6px;height:34.6px;background:#fff;font:16px/34.2px 'Liberation Serif',serif;text-align:center;white-space:nowrap">0</div>
<div style="position:absolute;left:552.8px;top:1203.7px;width:34.6px;height:34.6px;background:#fff;font:16px/34.2px 'Liberation Serif',serif;text-align:center;white-space:nowrap">0</div>
<div style="position:absolute;left:589.0px;top:1203.7px;width:34.6px;height:34.6px;background:#fff;font:16px/34.2px 'Liberation Serif',serif;text-align:center;white-space:nowrap">0</div>
<div style="position:absolute;left:625.2px;top:1203.7px;width:34.6px;height:34.6px;background:#fff;font:16px/34.2px 'Liberation Serif',serif;text-align:center;white-space:nowrap">0</div>
<div style="position:absolute;left:444.0px;top:1240.0px;width:34.6px;height:34.6px;background:#C5E0B4;font:16px/34.2px 'Liberation Serif',serif;text-align:center;white-space:nowrap"></div>
<div style="position:absolute;left:480.2px;top:1240.0px;width:34.6px;height:34.6px;background:#fff;font:16px/34.2px 'Liberation Serif',serif;text-align:center;white-space:nowrap">0</div>
<div style="position:absolute;left:516.5px;top:1240.0px;width:34.6px;height:34.6px;background:#C5E0B4;font:16px/34.2px 'Liberation Serif',serif;text-align:center;white-space:nowrap"></div>
<div style="position:absolute;left:552.8px;top:1240.0px;width:34.6px;height:34.6px;background:#C5E0B4;font:16px/34.2px 'Liberation Serif',serif;text-align:center;white-space:nowrap"></div>
<div style="position:absolute;left:589.0px;top:1240.0px;width:34.6px;height:34.6px;background:#fff;font:16px/34.2px 'Liberation Serif',serif;text-align:center;white-space:nowrap">0</div>
<div style="position:absolute;left:625.2px;top:1240.0px;width:34.6px;height:34.6px;background:#C5E0B4;font:16px/34.2px 'Liberation Serif',serif;text-align:center;white-space:nowrap"></div>
<div style="position:absolute;left:444.0px;top:1276.2px;width:34.6px;height:34.6px;background:#C5E0B4;font:16px/34.2px 'Liberation Serif',serif;text-align:center;white-space:nowrap"></div>
<div style="position:absolute;left:480.2px;top:1276.2px;width:34.6px;height:34.6px;background:#fff;font:16px/34.2px 'Liberation Serif',serif;text-align:center;white-space:nowrap">0</div>
<div style="position:absolute;left:516.5px;top:1276.2px;width:34.6px;height:34.6px;background:#C5E0B4;font:16px/34.2px 'Liberation Serif',serif;text-align:center;white-space:nowrap"></div>
<div style="position:absolute;left:552.8px;top:1276.2px;width:34.6px;height:34.6px;background:#C5E0B4;font:16px/34.2px 'Liberation Serif',serif;text-align:center;white-space:nowrap"></div>
<div style="position:absolute;left:589.0px;top:1276.2px;width:34.6px;height:34.6px;background:#fff;font:16px/34.2px 'Liberation Serif',serif;text-align:center;white-space:nowrap">0</div>
<div style="position:absolute;left:625.2px;top:1276.2px;width:34.6px;height:34.6px;background:#C5E0B4;font:16px/34.2px 'Liberation Serif',serif;text-align:center;white-space:nowrap"></div>
<div style="position:absolute;left:444.0px;top:1312.5px;width:34.6px;height:34.6px;background:#fff;font:16px/34.2px 'Liberation Serif',serif;text-align:center;white-space:nowrap">0</div>
<div style="position:absolute;left:480.2px;top:1312.5px;width:34.6px;height:34.6px;background:#fff;font:16px/34.2px 'Liberation Serif',serif;text-align:center;white-space:nowrap">0</div>
<div style="position:absolute;left:516.5px;top:1312.5px;width:34.6px;height:34.6px;background:#fff;font:16px/34.2px 'Liberation Serif',serif;text-align:center;white-space:nowrap">0</div>
<div style="position:absolute;left:552.8px;top:1312.5px;width:34.6px;height:34.6px;background:#fff;font:16px/34.2px 'Liberation Serif',serif;text-align:center;white-space:nowrap">0</div>
<div style="position:absolute;left:589.0px;top:1312.5px;width:34.6px;height:34.6px;background:#C5E0B4;font:16px/34.2px 'Liberation Serif',serif;text-align:center;white-space:nowrap"><span style="position:relative"><i>π</i><span style="position:absolute;left:.05em;top:-.42em;font-size:.8em">~</span></span><span style="font-size:.72em;vertical-align:-.3em;line-height:0">65</span></div>
<div style="position:absolute;left:625.2px;top:1312.5px;width:34.6px;height:34.6px;background:#fff;font:16px/34.2px 'Liberation Serif',serif;text-align:center;white-space:nowrap">0</div>
<div style="position:absolute;left:442.4px;top:1129.6px;width:218.7px;height:218.7px;border:1.8px solid #000;box-sizing:border-box"></div>
<div style="position:absolute;left:775.5px;top:1130.2px;width:217.5px;height:217.5px;background:#000;"></div>
<div style="position:absolute;left:776.5px;top:1131.2px;width:34.6px;height:34.6px;background:#C5E0B4;font:16px/34.2px 'Liberation Serif',serif;text-align:center;white-space:nowrap">1</div>
<div style="position:absolute;left:812.8px;top:1131.2px;width:34.6px;height:34.6px;background:#fff;font:16px/34.2px 'Liberation Serif',serif;text-align:center;white-space:nowrap">0</div>
<div style="position:absolute;left:849.0px;top:1131.2px;width:34.6px;height:34.6px;background:#C5E0B4;font:16px/34.2px 'Liberation Serif',serif;text-align:center;white-space:nowrap">1</div>
<div style="position:absolute;left:885.2px;top:1131.2px;width:34.6px;height:34.6px;background:#C5E0B4;font:16px/34.2px 'Liberation Serif',serif;text-align:center;white-space:nowrap">1</div>
<div style="position:absolute;left:921.5px;top:1131.2px;width:34.6px;height:34.6px;background:#fff;font:16px/34.2px 'Liberation Serif',serif;text-align:center;white-space:nowrap">0</div>
<div style="position:absolute;left:957.8px;top:1131.2px;width:34.6px;height:34.6px;background:#C5E0B4;font:16px/34.2px 'Liberation Serif',serif;text-align:center;white-space:nowrap">1</div>
<div style="position:absolute;left:776.5px;top:1167.5px;width:34.6px;height:34.6px;background:#C5E0B4;font:16px/34.2px 'Liberation Serif',serif;text-align:center;white-space:nowrap">1</div>
<div style="position:absolute;left:812.8px;top:1167.5px;width:34.6px;height:34.6px;background:#fff;font:16px/34.2px 'Liberation Serif',serif;text-align:center;white-space:nowrap">0</div>
<div style="position:absolute;left:849.0px;top:1167.5px;width:34.6px;height:34.6px;background:#C5E0B4;font:16px/34.2px 'Liberation Serif',serif;text-align:center;white-space:nowrap">1</div>
<div style="position:absolute;left:885.2px;top:1167.5px;width:34.6px;height:34.6px;background:#C5E0B4;font:16px/34.2px 'Liberation Serif',serif;text-align:center;white-space:nowrap">1</div>
<div style="position:absolute;left:921.5px;top:1167.5px;width:34.6px;height:34.6px;background:#fff;font:16px/34.2px 'Liberation Serif',serif;text-align:center;white-space:nowrap">0</div>
<div style="position:absolute;left:957.8px;top:1167.5px;width:34.6px;height:34.6px;background:#C5E0B4;font:16px/34.2px 'Liberation Serif',serif;text-align:center;white-space:nowrap">1</div>
<div style="position:absolute;left:776.5px;top:1203.7px;width:34.6px;height:34.6px;background:#fff;font:16px/34.2px 'Liberation Serif',serif;text-align:center;white-space:nowrap">0</div>
<div style="position:absolute;left:812.8px;top:1203.7px;width:34.6px;height:34.6px;background:#C5E0B4;font:16px/34.2px 'Liberation Serif',serif;text-align:center;white-space:nowrap">1</div>
<div style="position:absolute;left:849.0px;top:1203.7px;width:34.6px;height:34.6px;background:#fff;font:16px/34.2px 'Liberation Serif',serif;text-align:center;white-space:nowrap">0</div>
<div style="position:absolute;left:885.2px;top:1203.7px;width:34.6px;height:34.6px;background:#fff;font:16px/34.2px 'Liberation Serif',serif;text-align:center;white-space:nowrap">0</div>
<div style="position:absolute;left:921.5px;top:1203.7px;width:34.6px;height:34.6px;background:#fff;font:16px/34.2px 'Liberation Serif',serif;text-align:center;white-space:nowrap">0</div>
<div style="position:absolute;left:957.8px;top:1203.7px;width:34.6px;height:34.6px;background:#fff;font:16px/34.2px 'Liberation Serif',serif;text-align:center;white-space:nowrap">0</div>
<div style="position:absolute;left:776.5px;top:1240.0px;width:34.6px;height:34.6px;background:#C5E0B4;font:16px/34.2px 'Liberation Serif',serif;text-align:center;white-space:nowrap">1</div>
<div style="position:absolute;left:812.8px;top:1240.0px;width:34.6px;height:34.6px;background:#fff;font:16px/34.2px 'Liberation Serif',serif;text-align:center;white-space:nowrap">0</div>
<div style="position:absolute;left:849.0px;top:1240.0px;width:34.6px;height:34.6px;background:#C5E0B4;font:16px/34.2px 'Liberation Serif',serif;text-align:center;white-space:nowrap">1</div>
<div style="position:absolute;left:885.2px;top:1240.0px;width:34.6px;height:34.6px;background:#C5E0B4;font:16px/34.2px 'Liberation Serif',serif;text-align:center;white-space:nowrap">1</div>
<div style="position:absolute;left:921.5px;top:1240.0px;width:34.6px;height:34.6px;background:#fff;font:16px/34.2px 'Liberation Serif',serif;text-align:center;white-space:nowrap">0</div>
<div style="position:absolute;left:957.8px;top:1240.0px;width:34.6px;height:34.6px;background:#C5E0B4;font:16px/34.2px 'Liberation Serif',serif;text-align:center;white-space:nowrap">1</div>
<div style="position:absolute;left:776.5px;top:1276.2px;width:34.6px;height:34.6px;background:#C5E0B4;font:16px/34.2px 'Liberation Serif',serif;text-align:center;white-space:nowrap">1</div>
<div style="position:absolute;left:812.8px;top:1276.2px;width:34.6px;height:34.6px;background:#fff;font:16px/34.2px 'Liberation Serif',serif;text-align:center;white-space:nowrap">0</div>
<div style="position:absolute;left:849.0px;top:1276.2px;width:34.6px;height:34.6px;background:#C5E0B4;font:16px/34.2px 'Liberation Serif',serif;text-align:center;white-space:nowrap">1</div>
<div style="position:absolute;left:885.2px;top:1276.2px;width:34.6px;height:34.6px;background:#C5E0B4;font:16px/34.2px 'Liberation Serif',serif;text-align:center;white-space:nowrap">1</div>
<div style="position:absolute;left:921.5px;top:1276.2px;width:34.6px;height:34.6px;background:#fff;font:16px/34.2px 'Liberation Serif',serif;text-align:center;white-space:nowrap">0</div>
<div style="position:absolute;left:957.8px;top:1276.2px;width:34.6px;height:34.6px;background:#C5E0B4;font:16px/34.2px 'Liberation Serif',serif;text-align:center;white-space:nowrap">1</div>
<div style="position:absolute;left:776.5px;top:1312.5px;width:34.6px;height:34.6px;background:#fff;font:16px/34.2px 'Liberation Serif',serif;text-align:center;white-space:nowrap">0</div>
<div style="position:absolute;left:812.8px;top:1312.5px;width:34.6px;height:34.6px;background:#fff;font:16px/34.2px 'Liberation Serif',serif;text-align:center;white-space:nowrap">0</div>
<div style="position:absolute;left:849.0px;top:1312.5px;width:34.6px;height:34.6px;background:#fff;font:16px/34.2px 'Liberation Serif',serif;text-align:center;white-space:nowrap">0</div>
<div style="position:absolute;left:885.2px;top:1312.5px;width:34.6px;height:34.6px;background:#fff;font:16px/34.2px 'Liberation Serif',serif;text-align:center;white-space:nowrap">0</div>
<div style="position:absolute;left:921.5px;top:1312.5px;width:34.6px;height:34.6px;background:#C5E0B4;font:16px/34.2px 'Liberation Serif',serif;text-align:center;white-space:nowrap">1</div>
<div style="position:absolute;left:957.8px;top:1312.5px;width:34.6px;height:34.6px;background:#fff;font:16px/34.2px 'Liberation Serif',serif;text-align:center;white-space:nowrap">0</div>
<div style="position:absolute;left:774.9px;top:1129.6px;width:218.7px;height:218.7px;border:1.8px solid #000;box-sizing:border-box"></div>
<div style="position:absolute;left:1113.6px;top:1130.2px;width:217.5px;height:217.5px;background:#000;"></div>
<div style="position:absolute;left:1114.6px;top:1131.2px;width:34.6px;height:34.6px;background:#C5E0B4;font:17px/34.2px 'Liberation Serif',serif;text-align:center;white-space:nowrap"></div>
<div style="position:absolute;left:1150.8px;top:1131.2px;width:34.6px;height:34.6px;background:#C5E0B4;font:17px/34.2px 'Liberation Serif',serif;text-align:center;white-space:nowrap"></div>
<div style="position:absolute;left:1187.1px;top:1131.2px;width:34.6px;height:34.6px;background:#C5E0B4;font:17px/34.2px 'Liberation Serif',serif;text-align:center;white-space:nowrap"></div>
<div style="position:absolute;left:1223.3px;top:1131.2px;width:34.6px;height:34.6px;background:#C5E0B4;font:17px/34.2px 'Liberation Serif',serif;text-align:center;white-space:nowrap"></div>
<div style="position:absolute;left:1259.6px;top:1131.2px;width:34.6px;height:34.6px;background:#C5E0B4;font:17px/34.2px 'Liberation Serif',serif;text-align:center;white-space:nowrap"></div>
<div style="position:absolute;left:1295.8px;top:1131.2px;width:34.6px;height:34.6px;background:#C5E0B4;font:17px/34.2px 'Liberation Serif',serif;text-align:center;white-space:nowrap"></div>
<div style="position:absolute;left:1114.6px;top:1167.5px;width:34.6px;height:34.6px;background:#C5E0B4;font:17px/34.2px 'Liberation Serif',serif;text-align:center;white-space:nowrap"></div>
<div style="position:absolute;left:1150.8px;top:1167.5px;width:34.6px;height:34.6px;background:#C5E0B4;font:17px/34.2px 'Liberation Serif',serif;text-align:center;white-space:nowrap"></div>
<div style="position:absolute;left:1187.1px;top:1167.5px;width:34.6px;height:34.6px;background:#C5E0B4;font:17px/34.2px 'Liberation Serif',serif;text-align:center;white-space:nowrap"></div>
<div style="position:absolute;left:1223.3px;top:1167.5px;width:34.6px;height:34.6px;background:#C5E0B4;font:17px/34.2px 'Liberation Serif',serif;text-align:center;white-space:nowrap"></div>
<div style="position:absolute;left:1259.6px;top:1167.5px;width:34.6px;height:34.6px;background:#C5E0B4;font:17px/34.2px 'Liberation Serif',serif;text-align:center;white-space:nowrap"></div>
<div style="position:absolute;left:1295.8px;top:1167.5px;width:34.6px;height:34.6px;background:#C5E0B4;font:17px/34.2px 'Liberation Serif',serif;text-align:center;white-space:nowrap"></div>
<div style="position:absolute;left:1114.6px;top:1203.7px;width:34.6px;height:34.6px;background:#C5E0B4;font:17px/34.2px 'Liberation Serif',serif;text-align:center;white-space:nowrap"></div>
<div style="position:absolute;left:1150.8px;top:1203.7px;width:34.6px;height:34.6px;background:#C5E0B4;font:17px/34.2px 'Liberation Serif',serif;text-align:center;white-space:nowrap"></div>
<div style="position:absolute;left:1187.1px;top:1203.7px;width:34.6px;height:34.6px;background:#C5E0B4;font:17px/34.2px 'Liberation Serif',serif;text-align:center;white-space:nowrap"></div>
<div style="position:absolute;left:1223.3px;top:1203.7px;width:34.6px;height:34.6px;background:#C5E0B4;font:17px/34.2px 'Liberation Serif',serif;text-align:center;white-space:nowrap"></div>
<div style="position:absolute;left:1259.6px;top:1203.7px;width:34.6px;height:34.6px;background:#C5E0B4;font:17px/34.2px 'Liberation Serif',serif;text-align:center;white-space:nowrap"></div>
<div style="position:absolute;left:1295.8px;top:1203.7px;width:34.6px;height:34.6px;background:#C5E0B4;font:17px/34.2px 'Liberation Serif',serif;text-align:center;white-space:nowrap"></div>
<div style="position:absolute;left:1114.6px;top:1240.0px;width:34.6px;height:34.6px;background:#C5E0B4;font:17px/34.2px 'Liberation Serif',serif;text-align:center;white-space:nowrap"></div>
<div style="position:absolute;left:1150.8px;top:1240.0px;width:34.6px;height:34.6px;background:#C5E0B4;font:17px/34.2px 'Liberation Serif',serif;text-align:center;white-space:nowrap"></div>
<div style="position:absolute;left:1187.1px;top:1240.0px;width:34.6px;height:34.6px;background:#C5E0B4;font:17px/34.2px 'Liberation Serif',serif;text-align:center;white-space:nowrap"></div>
<div style="position:absolute;left:1223.3px;top:1240.0px;width:34.6px;height:34.6px;background:#C5E0B4;font:17px/34.2px 'Liberation Serif',serif;text-align:center;white-space:nowrap"></div>
<div style="position:absolute;left:1259.6px;top:1240.0px;width:34.6px;height:34.6px;background:#C5E0B4;font:17px/34.2px 'Liberation Serif',serif;text-align:center;white-space:nowrap"></div>
<div style="position:absolute;left:1295.8px;top:1240.0px;width:34.6px;height:34.6px;background:#C5E0B4;font:17px/34.2px 'Liberation Serif',serif;text-align:center;white-space:nowrap"></div>
<div style="position:absolute;left:1114.6px;top:1276.2px;width:34.6px;height:34.6px;background:#C5E0B4;font:17px/34.2px 'Liberation Serif',serif;text-align:center;white-space:nowrap"></div>
<div style="position:absolute;left:1150.8px;top:1276.2px;width:34.6px;height:34.6px;background:#C5E0B4;font:17px/34.2px 'Liberation Serif',serif;text-align:center;white-space:nowrap"></div>
<div style="position:absolute;left:1187.1px;top:1276.2px;width:34.6px;height:34.6px;background:#C5E0B4;font:17px/34.2px 'Liberation Serif',serif;text-align:center;white-space:nowrap"></div>
<div style="position:absolute;left:1223.3px;top:1276.2px;width:34.6px;height:34.6px;background:#C5E0B4;font:17px/34.2px 'Liberation Serif',serif;text-align:center;white-space:nowrap"></div>
<div style="position:absolute;left:1259.6px;top:1276.2px;width:34.6px;height:34.6px;background:#C5E0B4;font:17px/34.2px 'Liberation Serif',serif;text-align:center;white-space:nowrap"></div>
<div style="position:absolute;left:1295.8px;top:1276.2px;width:34.6px;height:34.6px;background:#C5E0B4;font:17px/34.2px 'Liberation Serif',serif;text-align:center;white-space:nowrap"></div>
<div style="position:absolute;left:1114.6px;top:1312.5px;width:34.6px;height:34.6px;background:#C5E0B4;font:17px/34.2px 'Liberation Serif',serif;text-align:center;white-space:nowrap"></div>
<div style="position:absolute;left:1150.8px;top:1312.5px;width:34.6px;height:34.6px;background:#C5E0B4;font:17px/34.2px 'Liberation Serif',serif;text-align:center;white-space:nowrap"></div>
<div style="position:absolute;left:1187.1px;top:1312.5px;width:34.6px;height:34.6px;background:#C5E0B4;font:17px/34.2px 'Liberation Serif',serif;text-align:center;white-space:nowrap"></div>
<div style="position:absolute;left:1223.3px;top:1312.5px;width:34.6px;height:34.6px;background:#C5E0B4;font:17px/34.2px 'Liberation Serif',serif;text-align:center;white-space:nowrap"></div>
<div style="position:absolute;left:1259.6px;top:1312.5px;width:34.6px;height:34.6px;background:#C5E0B4;font:17px/34.2px 'Liberation Serif',serif;text-align:center;white-space:nowrap"></div>
<div style="position:absolute;left:1295.8px;top:1312.5px;width:34.6px;height:34.6px;background:#C5E0B4;font:17px/34.2px 'Liberation Serif',serif;text-align:center;white-space:nowrap"></div>
<div style="position:absolute;left:1113.0px;top:1129.6px;width:218.7px;height:218.7px;border:1.8px solid #000;box-sizing:border-box"></div>
<div id="e38" class="t" style="left:675.5px;top:1023.8px;font-size:33.00px;font-family:'Liberation Serif',serif;"><span class="st"></span><b><i>q</i></b></div>
<div id="e39" class="t" style="left:404.0px;top:1287.9px;font-size:33.50px;font-family:'Liberation Serif',serif;"><span class="st"></span><b><i>p</i></b></div>
<div id="e40" class="t" style="left:535.0px;top:1280.0px;font-size:40.00px;font-family:'Liberation Serif',serif;"><span class="st"></span><span style="position:relative"><i>π</i><span style="position:absolute;left:.08em;top:-.36em;font-size:.85em;font-style:italic">~</span></span></div>
<div id="e41" class="t" style="left:866.0px;top:1284.2px;font-size:38.00px;font-family:'Liberation Serif',serif;"><span class="st"></span><i>M</i></div>
<div id="e42" class="t" style="left:1207.0px;top:1280.0px;font-size:40.00px;font-family:'Liberation Serif',serif;"><span class="st"></span><i>π</i></div>
<div style="position:absolute;left:693.0px;top:1220.0px;width:50.0px;height:7.0px;box-sizing:border-box;background:#000"></div>
<div style="position:absolute;left:693.0px;top:1243.0px;width:50.0px;height:7.0px;box-sizing:border-box;background:#000"></div>
<svg style="left:1023.3px;top:1207.8px" width="60" height="60" viewBox="-30 -30 60 60"><circle r="27" fill="none" stroke="#000" stroke-width="4.6"/><circle r="9.5" fill="#000"/></svg>
<div id="e43" class="t" style="left:47.3px;top:1347.6px;font-size:37.20px;font-family:'Liberation Serif',serif;transform:scaleX(1.0014);font-weight:bold;"><span class="st"></span>Mask-based constraint:</div>
<div id="e44" class="t" style="left:488.0px;top:1400.8px;font-size:37.00px;font-family:'Liberation Serif',serif;transform:scaleX(1.0900);color:#222;letter-spacing:3.182px;"><span class="st"></span><span style="position:relative"><i>π</i><span style="position:absolute;left:.06em;top:-.4em;font-size:.8em">~</span></span><span style="display:inline-block;width:0.25em"></span>=<span style="display:inline-block;width:0.25em"></span><i>M</i><svg style="display:inline-block;width:0.62em;height:0.62em;vertical-align:-0.10075em;margin:0 0.2em 0 0.2em;overflow:visible" viewBox="0 0 100 100"><circle cx="50" cy="50" r="45" fill="none" stroke="currentColor" stroke-width="7"/><circle cx="50" cy="50" r="10" fill="currentColor"/></svg><i>π</i>,<span style="display:inline-block;width:0.45em"></span>with <span style="position:relative"><i>π</i><span style="position:absolute;left:.06em;top:-.4em;font-size:.8em">~</span></span><span class="sb" style=""><i>i,j</i></span><span style="display:inline-block;width:0.25em"></span>=<span style="display:inline-block;width:0.25em"></span><i>M</i><span class="sb" style=""><i>i,j</i></span><i>π</i><span class="sb" style=""><i>i,j</i></span></div>
<svg style="left:0;top:0" width="3999" height="2249"><line x1="1366.3" y1="1093" x2="1366.3" y2="1526" stroke="#4472C4" stroke-width="2.9" stroke-dasharray="12 8.5"/></svg>
<div id="e45" class="t" style="left:1414.5px;top:1024.2px;font-size:37.10px;font-family:'Liberation Serif',serif;transform:scaleX(0.9999);font-weight:bold;"><span class="st"></span>Feasible solutions:</div>
<div id="e46" class="t" style="left:1573.0px;top:1084.6px;font-size:37.00px;font-family:'Liberation Serif',serif;transform:scaleX(1.0900);color:#222;letter-spacing:2.255px;"><span class="st"></span>Π(<b><i>p</i></b>, <b><i>q</i></b>; <i>M</i>)<span style="display:inline-block;width:0.25em"></span>=<span style="display:inline-block;width:0.25em"></span>{<i>π</i><svg style="display:inline-block;width:0.56em;height:0.62em;vertical-align:-0.04em;margin:0 0.22em 0 0.22em;overflow:visible" viewBox="0 0 90 100"><path d="M86 6H46A44 44 0 0 0 46 94H86M4 50H86" fill="none" stroke="currentColor" stroke-width="8"/></svg><svg style="display:inline-block;width:0.66em;height:0.68em;vertical-align:0em;margin:0 0.02em 0 0.02em;overflow:visible" viewBox="0 0 97 100"><path d="M6 97V3H48C88 3 88 52 48 52H6M22 3V97M2 97H30M2 3H22M44 52L78 97H92M32 52L66 97H80" fill="none" stroke="currentColor" stroke-width="6"/></svg><span class="ss" style=""><span class="w"><i>m</i>×<i>n</i><br>+</span><span class="u"><i>m</i>×<i>n</i></span><span class="l">+</span></span>|(<i>M</i><svg style="display:inline-block;width:0.62em;height:0.62em;vertical-align:-0.10075em;margin:0 0.2em 0 0.2em;overflow:visible" viewBox="0 0 100 100"><circle cx="50" cy="50" r="45" fill="none" stroke="currentColor" stroke-width="7"/><circle cx="50" cy="50" r="10" fill="currentColor"/></svg><i>π</i>)<svg style="display:inline-block;width:0.5em;height:0.68em;vertical-align:0em;margin:0 0.02em 0 0.02em;overflow:visible" viewBox="0 0 70 100"><path d="M8 24L34 4H48V96M34 4V96M14 96H64" fill="none" stroke="currentColor" stroke-width="6"/></svg><span class="sb" style=""><i>n</i></span><span style="display:inline-block;width:0.25em"></span>=<span style="display:inline-block;width:0.25em"></span><b><i>p</i></b>, (<i>M</i><svg style="display:inline-block;width:0.62em;height:0.62em;vertical-align:-0.10075em;margin:0 0.2em 0 0.2em;overflow:visible" viewBox="0 0 100 100"><circle cx="50" cy="50" r="45" fill="none" stroke="currentColor" stroke-width="7"/><circle cx="50" cy="50" r="10" fill="currentColor"/></svg><i>π</i>)<span class="sp" style="font-size:.6em;vertical-align:.85em"><svg style="display:inline-block;width:0.6em;height:0.62em;vertical-align:0em;margin:0 0em 0 0em;overflow:visible" viewBox="0 0 100 100"><path d="M5 8H95M50 8V100" fill="none" stroke="currentColor" stroke-width="8"/></svg></span><svg style="display:inline-block;width:0.5em;height:0.68em;vertical-align:0em;margin:0 0.02em 0 0.02em;overflow:visible" viewBox="0 0 70 100"><path d="M8 24L34 4H48V96M34 4V96M14 96H64" fill="none" stroke="currentColor" stroke-width="6"/></svg><span class="sb" style=""><i>m</i></span><span style="display:inline-block;width:0.25em"></span>=<span style="display:inline-block;width:0.25em"></span><b><i>q</i></b>}<span style="font-size:.5em">.</span></div>
<div id="e47" class="t" style="left:1413.0px;top:1179.8px;font-size:29.30px;font-family:'Liberation Serif',serif;transform:scaleX(1.0210);letter-spacing:0.256px;"><span class="st"></span><b>Proposition 1.</b><span style="display:inline-block;width:0.55em"></span><i>Suppose that the mask matrix M satisfies that</i></div>
<div id="e48" class="t" style="left:1717.6px;top:1291.9px;font-size:31.00px;font-family:'Liberation Serif',serif;transform:scaleX(1.0900);color:#222;letter-spacing:1.908px;"><span class="st"></span><i>M</i><span class="sb" style=""><i>i,j</i></span><span style="display:inline-block;width:0.3em"></span>=</div>
<svg style="left:1815px;top:1291.5px" width="26" height="148" viewBox="0 0 26 148"><path d="M23 2C12 2 14 14 14 30V52C14 66 10 72 3 74C10 76 14 82 14 96V118C14 134 12 146 23 146" fill="none" stroke="#222" stroke-width="3"/></svg>
<div id="e49" class="t" style="left:1842.0px;top:1232.6px;font-size:31.00px;font-family:'Liberation Serif',serif;color:#222;"><span class="st"></span>1,</div>
<div id="e50" class="t" style="left:1903.5px;top:1235.2px;font-size:30.00px;font-family:'Liberation Serif',serif;transform:scaleX(1.0877);font-style:italic;color:#111;letter-spacing:1.043px;"><span class="st"></span>if (<i>i, j</i>)<svg style="display:inline-block;width:0.56em;height:0.62em;vertical-align:-0.04em;margin:0 0.18em 0 0.18em;overflow:visible" viewBox="0 0 90 100"><path d="M86 6H46A44 44 0 0 0 46 94H86M4 50H86" fill="none" stroke="currentColor" stroke-width="8"/></svg><i>K</i>,</div>
<div id="e51" class="t" style="left:1842.0px;top:1271.4px;font-size:31.00px;font-family:'Liberation Serif',serif;color:#222;"><span class="st"></span>0,</div>
<div id="e52" class="t" style="left:1903.5px;top:1274.0px;font-size:30.00px;font-family:'Liberation Serif',serif;transform:scaleX(1.0900);font-style:italic;color:#111;letter-spacing:1.189px;"><span class="st"></span>if <i>i</i><svg style="display:inline-block;width:0.56em;height:0.62em;vertical-align:-0.04em;margin:0 0.18em 0 0.18em;overflow:visible" viewBox="0 0 90 100"><path d="M86 6H46A44 44 0 0 0 46 94H86M4 50H86" fill="none" stroke="currentColor" stroke-width="8"/></svg><i>I</i> and (<i>i, j</i>)<svg style="display:inline-block;width:0.56em;height:0.9em;vertical-align:-0.18em;margin:0 0.18em 0 0.18em;overflow:visible" viewBox="0 -22 90 145"><path d="M86 6H46A44 44 0 0 0 46 94H86M4 50H86M70 -22L22 122" fill="none" stroke="currentColor" stroke-width="8"/></svg><i>K</i>,</div>
<div id="e53" class="t" style="left:1842.0px;top:1312.7px;font-size:31.00px;font-family:'Liberation Serif',serif;color:#222;"><span class="st"></span>0,</div>
<div id="e54" class="t" style="left:1903.5px;top:1315.3px;font-size:30.00px;font-family:'Liberation Serif',serif;transform:scaleX(1.0900);font-style:italic;color:#111;letter-spacing:1.605px;"><span class="st"></span>if <i>j</i><svg style="display:inline-block;width:0.56em;height:0.62em;vertical-align:-0.04em;margin:0 0.18em 0 0.18em;overflow:visible" viewBox="0 0 90 100"><path d="M86 6H46A44 44 0 0 0 46 94H86M4 50H86" fill="none" stroke="currentColor" stroke-width="8"/></svg><i>J</i> and (<i>i, j</i>)<svg style="display:inline-block;width:0.56em;height:0.9em;vertical-align:-0.18em;margin:0 0.18em 0 0.18em;overflow:visible" viewBox="0 -22 90 145"><path d="M86 6H46A44 44 0 0 0 46 94H86M4 50H86M70 -22L22 122" fill="none" stroke="currentColor" stroke-width="8"/></svg><i>K</i>,</div>
<div id="e55" class="t" style="left:1842.0px;top:1351.4px;font-size:31.00px;font-family:'Liberation Serif',serif;color:#222;"><span class="st"></span>1,</div>
<div id="e56" class="t" style="left:1903.5px;top:1354.0px;font-size:30.00px;font-family:'Liberation Serif',serif;transform:scaleX(1.0688);font-style:italic;color:#111;letter-spacing:0.881px;"><span class="st"></span>otherwise (i.e., <i>i</i><svg style="display:inline-block;width:0.56em;height:0.9em;vertical-align:-0.18em;margin:0 0.18em 0 0.18em;overflow:visible" viewBox="0 -22 90 145"><path d="M86 6H46A44 44 0 0 0 46 94H86M4 50H86M70 -22L22 122" fill="none" stroke="currentColor" stroke-width="8"/></svg><i>I</i> and <i>j</i><svg style="display:inline-block;width:0.56em;height:0.9em;vertical-align:-0.18em;margin:0 0.18em 0 0.18em;overflow:visible" viewBox="0 -22 90 145"><path d="M86 6H46A44 44 0 0 0 46 94H86M4 50H86M70 -22L22 122" fill="none" stroke="currentColor" stroke-width="8"/></svg><i>J</i>).</div>
<div id="e57" class="t" style="left:2588.0px;top:1297.1px;font-size:29.00px;font-family:'Liberation Serif',serif;transform:scaleX(0.9755);"><span class="st"></span>(6)</div>
<div id="e58" class="t" style="left:1413.0px;top:1409.8px;font-size:30.00px;font-family:'Liberation Serif',serif;transform:scaleX(1.0613);font-style:italic;letter-spacing:0.822px;"><span class="st"></span>and <i>p</i><span class="sb" style=""><i>i</i></span><span style="display:inline-block;width:0.2em"></span>=<span style="display:inline-block;width:0.2em"></span><i>q</i><span class="sb" style=""><i>j</i></span>, for (<i>i, j</i>)<svg style="display:inline-block;width:0.56em;height:0.62em;vertical-align:-0.04em;margin:0 0.18em 0 0.18em;overflow:visible" viewBox="0 0 90 100"><path d="M86 6H46A44 44 0 0 0 46 94H86M4 50H86" fill="none" stroke="currentColor" stroke-width="8"/></svg><i>K</i>. Then, the transport plan <span style="position:relative"><i>π</i><span style="position:absolute;left:.06em;top:-.4em;font-size:.8em">~</span></span><span style="display:inline-block;width:0.2em"></span>=<span style="display:inline-block;width:0.2em"></span><i>M</i><svg style="display:inline-block;width:0.6em;height:0.6em;vertical-align:-0.09749999999999999em;margin:0 0.15em 0 0.15em;overflow:visible" viewBox="0 0 100 100"><circle cx="50" cy="50" r="45" fill="none" stroke="currentColor" stroke-width="7"/><circle cx="50" cy="50" r="10" fill="currentColor"/></svg><i>π</i> with <i>π</i><svg style="display:inline-block;width:0.56em;height:0.62em;vertical-align:-0.04em;margin:0 0.18em 0 0.18em;overflow:visible" viewBox="0 0 90 100"><path d="M86 6H46A44 44 0 0 0 46 94H86M4 50H86" fill="none" stroke="currentColor" stroke-width="8"/></svg><span style="font-style:normal">Π(</span><b><i>p</i></b>, <b><i>q</i></b>; <i>M</i><span style="font-style:normal">)</span> preserves</div>
<div id="e59" class="t" style="left:1413.0px;top:1442.8px;font-size:30.00px;font-family:'Liberation Serif',serif;transform:scaleX(1.0109);font-style:italic;"><span class="st"></span>the matching of paired keypoints with index pairs in <i>K</i>.</div>
<svg style="left:40.5px;top:1687.3px" width="23.8" height="21.6" viewBox="0 0 110 100"><path d="M4 4L106 50L4 96L34 50Z" fill="#fff" stroke="#000" stroke-width="5" stroke-linejoin="miter"/><path d="M34 50H106L4 96Z" fill="#000"/><path d="M4 4L34 50L4 96" fill="none" stroke="#000" stroke-width="9"/></svg>
<div id="e60" class="t" style="left:81.6px;top:1614.2px;font-size:37.30px;font-family:'Liberation Serif',serif;transform:scaleX(0.9925);font-weight:bold;"><span class="st"></span>Relation to keypoints<span style="display:inline-block;width:.42em"></span>:</div>
<div id="e61" class="t" style="left:55.0px;top:1715.2px;font-size:38.00px;font-family:'Liberation Serif',serif;transform:scaleX(1.0599);letter-spacing:0.887px;"><span class="st"></span><i>R</i><span class="ss" style=""><span class="w"><i>s</i><br><i>k,i</i><span class="sb" style="font-size:.75em;vertical-align:-.35em"><i>u</i></span></span><span class="u"><i>s</i></span><span class="l"><i>k,i</i><span class="sb" style="font-size:.75em;vertical-align:-.35em"><i>u</i></span></span></span><span style="display:inline-block;width:0.22em"></span>=</div>
<div style="position:absolute;left:170.0px;top:1803.4px;width:218.4px;height:2.8px;box-sizing:border-box;background:#000"></div>
<div id="e62" class="t" style="left:218.4px;top:1691.2px;font-size:38.00px;font-family:'Liberation Serif',serif;transform:scaleX(1.0900);letter-spacing:1.513px;"><span class="st"></span><i>e</i><span class="sp" style="font-size:.74em;vertical-align:.48em">−<i>C</i><span class="ss" style=""><span class="w"><i>s</i><br><i>k,i</i><span class="sb" style="font-size:.75em;vertical-align:-.3em"><i>u</i></span></span><span class="u"><i>s</i></span><span class="l"><i>k,i</i><span class="sb" style="font-size:.75em;vertical-align:-.3em"><i>u</i></span></span></span>/<i>τ</i></span></div>
<div id="e63" class="t" style="left:168.9px;top:1759.4px;font-size:38.00px;font-family:'Liberation Serif',serif;transform:scaleX(1.0900);letter-spacing:1.650px;"><span class="st"></span>∑<span class="ss" style=""><span class="w"><i>U</i><br><i>u</i>′=1</span><span class="u"><i>U</i></span><span class="l"><i>u</i>′=1</span></span><span style="display:inline-block;width:0.08em"></span><i>e</i><span class="sp" style="font-size:.74em;vertical-align:.5em">−<i>C</i><span class="ss" style=""><span class="w"><i>s</i><br><i>k,i</i><span class="sb" style="font-size:.75em;vertical-align:-.3em"><i>u</i>′</span></span><span class="u"><i>s</i></span><span class="l"><i>k,i</i><span class="sb" style="font-size:.75em;vertical-align:-.3em"><i>u</i>′</span></span></span>/<i>τ</i></span></div>
<div id="e64" class="t" style="left:436.0px;top:1715.2px;font-size:38.00px;font-family:'Liberation Serif',serif;transform:scaleX(1.0501);letter-spacing:0.706px;"><span class="st"></span><i>R</i><span class="ss" style=""><span class="w"><i>t</i><br><i>l,i</i><span class="sb" style="font-size:.75em;vertical-align:-.35em"><i>u</i></span></span><span class="u"><i>t</i></span><span class="l"><i>l,i</i><span class="sb" style="font-size:.75em;vertical-align:-.35em"><i>u</i></span></span></span><span style="display:inline-block;width:0.22em"></span>=</div>
<div style="position:absolute;left:541.5px;top:1803.4px;width:200.5px;height:2.8px;box-sizing:border-box;background:#000"></div>
<div id="e65" class="t" style="left:585.4px;top:1711.1px;font-size:31.00px;font-family:'Liberation Serif',serif;transform:scaleX(1.0900);letter-spacing:2.781px;"><span class="st"></span><i>e</i><span class="sp" style="font-size:.74em;vertical-align:.42em">−<i>c</i><span class="ss" style=""><span class="w"><i>t</i><br><i>l,j</i><span class="sb" style="font-size:.75em;vertical-align:-.3em"><i>u</i></span></span><span class="u"><i>t</i></span><span class="l"><i>l,j</i><span class="sb" style="font-size:.75em;vertical-align:-.3em"><i>u</i></span></span></span>/<i>τ</i>′</span></div>
<div id="e66" class="t" style="left:541.5px;top:1775.9px;font-size:31.00px;font-family:'Liberation Serif',serif;transform:scaleX(1.0900);letter-spacing:2.655px;"><span class="st"></span>∑<span class="ss" style=""><span class="w"><i>U</i><br><i>u</i>′=1</span><span class="u"><i>U</i></span><span class="l"><i>u</i>′=1</span></span><span style="display:inline-block;width:0.08em"></span><i>e</i><span class="sp" style="font-size:.74em;vertical-align:.5em">−<i>c</i><span class="ss" style=""><span class="w"><i>t</i><br><i>l,j</i><span class="sb" style="font-size:.75em;vertical-align:-.3em"><i>u</i>′</span></span><span class="u"><i>t</i></span><span class="l"><i>l,j</i><span class="sb" style="font-size:.75em;vertical-align:-.3em"><i>u</i>′</span></span></span>/<i>τ</i>′</span></div>
<div id="e67" class="t" style="left:228.0px;top:1850.1px;font-size:36.00px;font-family:'Liberation Serif',serif;transform:scaleX(1.0482);color:#222;letter-spacing:0.672px;"><span class="st"></span><i>R</i><span class="ss" style=""><span class="w"><i>s</i><br><i>k</i></span><span class="u"><i>s</i></span><span class="l"><i>k</i></span></span><span style="display:inline-block;width:0.28em"></span>=<span style="display:inline-block;width:0.2em"></span>(<i>R</i><span class="ss" style=""><span class="w"><i>s</i><br><i>k</i>,<i>i</i><span class="sb" style="font-size:.75em;vertical-align:-.3em">1</span></span><span class="u"><i>s</i></span><span class="l"><i>k</i>,<i>i</i><span class="sb" style="font-size:.75em;vertical-align:-.3em">1</span></span></span>, <i>R</i><span class="ss" style=""><span class="w"><i>s</i><br><i>k</i>,<i>i</i><span class="sb" style="font-size:.75em;vertical-align:-.3em">2</span></span><span class="u"><i>s</i></span><span class="l"><i>k</i>,<i>i</i><span class="sb" style="font-size:.75em;vertical-align:-.3em">2</span></span></span>, <span style="letter-spacing:.1em">···</span> , <i>R</i><span class="ss" style=""><span class="w"><i>s</i><br><i>k</i>,<i>i</i><span class="sb" style="font-size:.75em;vertical-align:-.3em"><i>U</i></span></span><span class="u"><i>s</i></span><span class="l"><i>k</i>,<i>i</i><span class="sb" style="font-size:.75em;vertical-align:-.3em"><i>U</i></span></span></span>)</div>
<div id="e68" class="t" style="left:230.8px;top:1940.2px;font-size:36.00px;font-family:'Liberation Serif',serif;transform:scaleX(1.0723);color:#222;letter-spacing:0.963px;"><span class="st"></span><i>R</i><span class="ss" style=""><span class="w"><i>t</i><br><i>l</i></span><span class="u"><i>t</i></span><span class="l"><i>l</i></span></span><span style="display:inline-block;width:0.28em"></span>=<span style="display:inline-block;width:0.2em"></span>(<i>R</i><span class="ss" style=""><span class="w"><i>t</i><br><i>l</i>,<i>j</i><span class="sb" style="font-size:.75em;vertical-align:-.3em">1</span></span><span class="u"><i>t</i></span><span class="l"><i>l</i>,<i>j</i><span class="sb" style="font-size:.75em;vertical-align:-.3em">1</span></span></span>, <i>R</i><span class="ss" style=""><span class="w"><i>t</i><br><i>l</i>,<i>j</i><span class="sb" style="font-size:.75em;vertical-align:-.3em">2</span></span><span class="u"><i>t</i></span><span class="l"><i>l</i>,<i>j</i><span class="sb" style="font-size:.75em;vertical-align:-.3em">2</span></span></span>, <span style="letter-spacing:.1em">···</span> , <i>R</i><span class="ss" style=""><span class="w"><i>t</i><br><i>l</i>,<i>j</i><span class="sb" style="font-size:.75em;vertical-align:-.3em"><i>U</i></span></span><span class="u"><i>t</i></span><span class="l"><i>l</i>,<i>j</i><span class="sb" style="font-size:.75em;vertical-align:-.3em"><i>U</i></span></span></span>)</div>
<svg style="left:0;top:0" width="3999" height="2249"><line x1="842.1" y1="1829.4" x2="994.0" y2="1837.3" stroke="#ff4040" stroke-width="1.2" stroke-dasharray="4 3"/><line x1="983.9" y1="1786.7" x2="994.0" y2="1837.3" stroke="#ff4040" stroke-width="1.2" stroke-dasharray="4 3"/><line x1="994.0" y1="1837.3" x2="938.3" y2="1965.1" stroke="#ff4040" stroke-width="1.2" stroke-dasharray="4 3"/><line x1="1322.2" y1="1756.8" x2="1323.9" y2="1951.0" stroke="#ff4040" stroke-width="1.2" stroke-dasharray="4 3"/><line x1="1323.9" y1="1951.0" x2="1377.3" y2="1918.9" stroke="#ff4040" stroke-width="1.2" stroke-dasharray="4 3"/><line x1="1323.9" y1="1951.0" x2="1218.6" y2="1981.4" stroke="#ff4040" stroke-width="1.2" stroke-dasharray="4 3"/></svg>
<div style="position:absolute;left:971.1px;top:1729.4px;width:20px;height:20px;border-radius:50%;background:#0070C0"></div>
<div style="position:absolute;left:1021.2px;top:1736.7px;width:20px;height:20px;border-radius:50%;background:#0070C0"></div>
<div style="position:absolute;left:1022.9px;top:1781.2px;width:20px;height:20px;border-radius:50%;background:#0070C0"></div>
<div style="position:absolute;left:803.4px;top:1791.3px;width:20px;height:20px;border-radius:50%;background:#0070C0"></div>
<div style="position:absolute;left:855.1px;top:1797.5px;width:20px;height:20px;border-radius:50%;background:#0070C0"></div>
<div style="position:absolute;left:803.4px;top:1835.2px;width:20px;height:20px;border-radius:50%;background:#0070C0"></div>
<div style="position:absolute;left:855.7px;top:1843.1px;width:20px;height:20px;border-radius:50%;background:#0070C0"></div>
<div style="position:absolute;left:984.0px;top:1827.3px;width:20px;height:20px;border-radius:50%;background:#0070C0"></div>
<div style="position:absolute;left:925.5px;top:1925.3px;width:20px;height:20px;border-radius:50%;background:#0070C0"></div>
<div style="position:absolute;left:951.4px;top:1935.4px;width:20px;height:20px;border-radius:50%;background:#0070C0"></div>
<div style="position:absolute;left:900.7px;top:1970.9px;width:20px;height:20px;border-radius:50%;background:#0070C0"></div>
<div style="position:absolute;left:952.5px;top:1980.4px;width:20px;height:20px;border-radius:50%;background:#0070C0"></div>
<div style="position:absolute;left:1284.6px;top:1718.1px;width:20px;height:20px;border-radius:50%;background:#00B050"></div>
<div style="position:absolute;left:1335.3px;top:1725.4px;width:20px;height:20px;border-radius:50%;background:#00B050"></div>
<div style="position:absolute;left:1284.6px;top:1762.0px;width:20px;height:20px;border-radius:50%;background:#00B050"></div>
<div style="position:absolute;left:1339.8px;top:1780.0px;width:20px;height:20px;border-radius:50%;background:#00B050"></div>
<div style="position:absolute;left:1377.5px;top:1874.6px;width:20px;height:20px;border-radius:50%;background:#00B050"></div>
<div style="position:absolute;left:1331.3px;top:1898.3px;width:20px;height:20px;border-radius:50%;background:#00B050"></div>
<div style="position:absolute;left:1313.9px;top:1941.0px;width:20px;height:20px;border-radius:50%;background:#00B050"></div>
<div style="position:absolute;left:1365.7px;top:1951.2px;width:20px;height:20px;border-radius:50%;background:#00B050"></div>
<div style="position:absolute;left:1172.0px;top:1961.9px;width:20px;height:20px;border-radius:50%;background:#00B050"></div>
<div style="position:absolute;left:1180.5px;top:1987.2px;width:20px;height:20px;border-radius:50%;background:#00B050"></div>
<div style="position:absolute;left:1155.1px;top:2005.2px;width:20px;height:20px;border-radius:50%;background:#00B050"></div>
<div style="position:absolute;left:1196.2px;top:2014.2px;width:20px;height:20px;border-radius:50%;background:#00B050"></div>
<div style="position:absolute;left:829.4px;top:1816.7px;width:25.4px;height:25.4px;border-radius:50%;background:#ff0000;color:#000;font:bold 22px/25.4px 'Liberation Sans',sans-serif;text-align:center">1</div>
<div style="position:absolute;left:971.2px;top:1774.0px;width:25.4px;height:25.4px;border-radius:50%;background:#ff0000;color:#000;font:bold 22px/25.4px 'Liberation Sans',sans-serif;text-align:center">2</div>
<div style="position:absolute;left:925.6px;top:1952.4px;width:25.4px;height:25.4px;border-radius:50%;background:#ff0000;color:#000;font:bold 22px/25.4px 'Liberation Sans',sans-serif;text-align:center">3</div>
<div style="position:absolute;left:1309.5px;top:1744.1px;width:25.4px;height:25.4px;border-radius:50%;background:#ff0000;color:#000;font:bold 22px/25.4px 'Liberation Sans',sans-serif;text-align:center">1</div>
<div style="position:absolute;left:1364.6px;top:1906.2px;width:25.4px;height:25.4px;border-radius:50%;background:#ff0000;color:#000;font:bold 22px/25.4px 'Liberation Sans',sans-serif;text-align:center">2</div>
<div style="position:absolute;left:1205.9px;top:1968.7px;width:25.4px;height:25.4px;border-radius:50%;background:#ff0000;color:#000;font:bold 22px/25.4px 'Liberation Sans',sans-serif;text-align:center">3</div>
<div id="e69" class="t" style="left:947.3px;top:1715.3px;font-size:24.00px;font-family:'Liberation Serif',serif;"><span class="st"></span><i>i</i><span class="sb" style="">2</span></div>
<div id="e70" class="t" style="left:837.0px;top:1800.8px;font-size:24.00px;font-family:'Liberation Serif',serif;"><span class="st"></span><i>i</i><span class="sb" style="">1</span></div>
<div id="e71" class="t" style="left:929.9px;top:1939.3px;font-size:24.00px;font-family:'Liberation Serif',serif;"><span class="st"></span><i>i</i><span class="sb" style="">3</span></div>
<div id="e72" class="t" style="left:1006.4px;top:1790.8px;font-size:27.00px;font-family:'Liberation Serif',serif;"><span class="st"></span><i>k</i></div>
<div id="e73" class="t" style="left:895.0px;top:1760.3px;font-size:24.00px;font-family:'Liberation Serif',serif;"><span class="st"></span><i>R</i><span class="ss" style=""><span class="w"><i>s</i><br><i>k</i>,<i>i</i><span class="sb" style="font-size:.75em;vertical-align:-.3em">1</span></span><span class="u"><i>s</i></span><span class="l"><i>k</i>,<i>i</i><span class="sb" style="font-size:.75em;vertical-align:-.3em">1</span></span></span></div>
<div id="e74" class="t" style="left:995.2px;top:1753.5px;font-size:24.00px;font-family:'Liberation Serif',serif;"><span class="st"></span><i>R</i><span class="ss" style=""><span class="w"><i>s</i><br><i>k</i>,<i>i</i><span class="sb" style="font-size:.75em;vertical-align:-.3em">2</span></span><span class="u"><i>s</i></span><span class="l"><i>k</i>,<i>i</i><span class="sb" style="font-size:.75em;vertical-align:-.3em">2</span></span></span></div>
<div id="e75" class="t" style="left:975.5px;top:1849.2px;font-size:24.00px;font-family:'Liberation Serif',serif;"><span class="st"></span><i>R</i><span class="ss" style=""><span class="w"><i>s</i><br><i>k</i>,<i>i</i><span class="sb" style="font-size:.75em;vertical-align:-.3em">3</span></span><span class="u"><i>s</i></span><span class="l"><i>k</i>,<i>i</i><span class="sb" style="font-size:.75em;vertical-align:-.3em">3</span></span></span></div>
<div id="e76" class="t" style="left:1346.4px;top:1704.0px;font-size:24.00px;font-family:'Liberation Serif',serif;"><span class="st"></span><i>j</i><span class="sb" style="">1</span></div>
<div id="e77" class="t" style="left:1397.1px;top:1867.2px;font-size:24.00px;font-family:'Liberation Serif',serif;"><span class="st"></span><i>j</i><span class="sb" style="">2</span></div>
<div id="e78" class="t" style="left:1228.8px;top:1944.9px;font-size:24.00px;font-family:'Liberation Serif',serif;"><span class="st"></span><i>j</i><span class="sb" style="">3</span></div>
<div id="e79" class="t" style="left:1310.4px;top:1916.9px;font-size:27.00px;font-family:'Liberation Serif',serif;"><span class="st"></span><i>l</i></div>
<div id="e80" class="t" style="left:1327.3px;top:1794.1px;font-size:24.00px;font-family:'Liberation Serif',serif;"><span class="st"></span><i>R</i><span class="ss" style=""><span class="w"><i>t</i><br><i>l</i>,<i>j</i><span class="sb" style="font-size:.75em;vertical-align:-.3em">1</span></span><span class="u"><i>t</i></span><span class="l"><i>l</i>,<i>j</i><span class="sb" style="font-size:.75em;vertical-align:-.3em">1</span></span></span></div>
<div id="e81" class="t" style="left:1338.5px;top:1884.1px;font-size:24.00px;font-family:'Liberation Serif',serif;"><span class="st"></span><i>R</i><span class="ss" style=""><span class="w"><i>t</i><br><i>l</i>,<i>j</i><span class="sb" style="font-size:.75em;vertical-align:-.3em">2</span></span><span class="u"><i>t</i></span><span class="l"><i>l</i>,<i>j</i><span class="sb" style="font-size:.75em;vertical-align:-.3em">2</span></span></span></div>
<div id="e82" class="t" style="left:1242.8px;top:1890.9px;font-size:24.00px;font-family:'Liberation Serif',serif;"><span class="st"></span><i>R</i><span class="ss" style=""><span class="w"><i>t</i><br><i>l</i>,<i>j</i><span class="sb" style="font-size:.75em;vertical-align:-.3em">3</span></span><span class="u"><i>t</i></span><span class="l"><i>l</i>,<i>j</i><span class="sb" style="font-size:.75em;vertical-align:-.3em">3</span></span></span></div>
<div id="e83" class="t" style="left:905.0px;top:1991.3px;font-size:27.00px;font-family:'Liberation Sans',sans-serif;transform:scaleX(0.9066);font-weight:bold;"><span class="st"></span>Source</div>
<div id="e84" class="t" style="left:1269.0px;top:1991.3px;font-size:27.00px;font-family:'Liberation Sans',sans-serif;transform:scaleX(0.9315);font-weight:bold;"><span class="st"></span>Target</div>
<div id="e85" class="t" style="left:73.0px;top:2045.2px;font-size:37.40px;font-family:'Liberation Serif',serif;transform:scaleX(1.0019);font-style:italic;"><span class="st"></span>The definition of the relation implies that the source and target points near to a paired</div>
<div id="e86" class="t" style="left:73.0px;top:2089.8px;font-size:37.40px;font-family:'Liberation Serif',serif;transform:scaleX(0.9983);font-style:italic;"><span class="st"></span>keypoints share similar relation vectors.</div>
<svg style="left:0;top:0" width="3999" height="2249"><line x1="1436.4" y1="1701.5" x2="1436.4" y2="2217" stroke="#4472C4" stroke-width="2.9" stroke-dasharray="12 8.5"/></svg>
<svg style="left:1488.4px;top:1696.3px" width="23.8" height="21.6" viewBox="0 0 110 100"><path d="M4 4L106 50L4 96L34 50Z" fill="#fff" stroke="#000" stroke-width="5" stroke-linejoin="miter"/><path d="M34 50H106L4 96Z" fill="#000"/><path d="M4 4L34 50L4 96" fill="none" stroke="#000" stroke-width="9"/></svg>
<div id="e87" class="t" style="left:1529.0px;top:1623.3px;font-size:37.30px;font-family:'Liberation Serif',serif;transform:scaleX(0.9944);font-weight:bold;"><span class="st"></span>Guiding matrix:</div>
<div id="e88" class="t" style="left:1665.8px;top:1687.2px;font-size:37.00px;font-family:'Liberation Serif',serif;transform:scaleX(1.0891);color:#222;letter-spacing:2.012px;"><span class="st"></span><i>G</i><span style="display:inline-block;width:0.3em"></span>=<span style="display:inline-block;width:0.15em"></span>(<i>G</i><span class="sb" style=""><i>k,l</i></span>)<svg style="display:inline-block;width:0.56em;height:0.62em;vertical-align:-0.04em;margin:0 0.2em 0 0.2em;overflow:visible" viewBox="0 0 90 100"><path d="M86 6H46A44 44 0 0 0 46 94H86M4 50H86" fill="none" stroke="currentColor" stroke-width="8"/></svg><svg style="display:inline-block;width:0.66em;height:0.68em;vertical-align:0em;margin:0 0.02em 0 0.02em;overflow:visible" viewBox="0 0 97 100"><path d="M6 97V3H48C88 3 88 52 48 52H6M22 3V97M2 97H30M2 3H22M44 52L78 97H92M32 52L66 97H80" fill="none" stroke="currentColor" stroke-width="6"/></svg><span class="sp" style=""><i>m</i>×<i>n</i></span></div>
<div id="e89" class="t" style="left:2015.0px;top:1687.2px;font-size:37.00px;font-family:'Liberation Serif',serif;transform:scaleX(1.0707);color:#222;letter-spacing:1.095px;"><span class="st"></span><i>G</i><span class="sb" style=""><i>k,l</i></span><span style="display:inline-block;width:0.25em"></span>=<span style="display:inline-block;width:0.25em"></span><i>d</i>(<i>R</i><span class="ss" style=""><span class="w"><i>s</i><br><i>k</i></span><span class="u"><i>s</i></span><span class="l"><i>k</i></span></span>, <i>R</i><span class="ss" style=""><span class="w"><i>t</i><br><i>l</i></span><span class="u"><i>t</i></span><span class="l"><i>l</i></span></span>)</div>
<svg style="left:1482.0px;top:1834.1px" width="23.8" height="21.6" viewBox="0 0 110 100"><path d="M4 4L106 50L4 96L34 50Z" fill="#fff" stroke="#000" stroke-width="5" stroke-linejoin="miter"/><path d="M34 50H106L4 96Z" fill="#000"/><path d="M4 4L34 50L4 96" fill="none" stroke="#000" stroke-width="9"/></svg>
<div id="e90" class="t" style="left:1522.7px;top:1760.8px;font-size:37.40px;font-family:'Liberation Serif',serif;transform:scaleX(0.9999);font-weight:bold;"><span class="st"></span>KeyPoint-Guided OT by ReLation preservation (KPG-RL):</div>
<div style="position:absolute;left:1501.0px;top:1888.0px;width:1085.6px;height:140.5px;box-sizing:border-box;background:#E2F0D9"></div>
<div id="e91" class="t" style="left:1782.6px;top:1832.6px;font-size:36.50px;font-family:'Liberation Serif',serif;transform:scaleX(1.0631);letter-spacing:.03em;letter-spacing:2.416px;"><span class="st"></span><span class="un" style=""><span class="un-t">min</span><span class="un-b" style="font-size:0.7em"><span style="top:-0.05em"><i>π</i><svg style="display:inline-block;width:0.56em;height:0.62em;vertical-align:-0.04em;margin:0 0.03em 0 0.03em;overflow:visible" viewBox="0 0 90 100"><path d="M86 6H46A44 44 0 0 0 46 94H86M4 50H86" fill="none" stroke="currentColor" stroke-width="8"/></svg>Π(<b><i>p</i></b>,<b><i>q</i></b>;<i>M</i>)</span></span></span><span style="display:inline-block;width:0.1em"></span><i>L</i><span class="sb" style=""><i>kpg</i></span>(<i>π</i>)<svg style="display:inline-block;width:0.6em;height:0.62em;vertical-align:-0.02em;margin:0 0.12em 0 0.18em;overflow:visible" viewBox="0 0 100 103"><path d="M4 68H96M4 96H96" fill="none" stroke="currentColor" stroke-width="8"/><path d="M50 6L74 46H26Z" fill="none" stroke="currentColor" stroke-width="6"/></svg><svg style="display:inline-block;width:0.26em;height:1.05em;vertical-align:-0.24em;margin:0 0.02em 0 0.02em;overflow:visible" viewBox="0 0 26 105"><path d="M22 3L5 52L22 102" fill="none" stroke="currentColor" stroke-width="5.5"/></svg><i>G</i>, <i>M</i><svg style="display:inline-block;width:0.8em;height:0.8em;vertical-align:-0.13em;margin:0 0.22em 0 0.22em;overflow:visible" viewBox="0 0 100 100"><circle cx="50" cy="50" r="45" fill="none" stroke="currentColor" stroke-width="7"/><circle cx="50" cy="50" r="10" fill="currentColor"/></svg><i>π</i><svg style="display:inline-block;width:0.26em;height:1.05em;vertical-align:-0.24em;margin:0 0.02em 0 0.02em;overflow:visible" viewBox="0 0 26 105"><path d="M4 3L21 52L4 102" fill="none" stroke="currentColor" stroke-width="5.5"/></svg><span class="sb" style=""><i>F</i></span></div>
<div id="e92" class="t" style="left:1530.0px;top:1904.2px;font-size:38.00px;font-family:'Liberation Serif',serif;transform:scaleX(1.0764);letter-spacing:1.440px;"><span class="st"></span><i>s</i>.<span style="display:inline-block;width:0.12em"></span><i>t</i>.<span style="display:inline-block;width:0.12em"></span>Π(<b><i>p</i></b>, <b><i>q</i></b>; <i>M</i>) = {<i>π</i><svg style="display:inline-block;width:0.56em;height:0.62em;vertical-align:-0.04em;margin:0 0.18em 0 0.18em;overflow:visible" viewBox="0 0 90 100"><path d="M86 6H46A44 44 0 0 0 46 94H86M4 50H86" fill="none" stroke="currentColor" stroke-width="8"/></svg><svg style="display:inline-block;width:0.66em;height:0.68em;vertical-align:0em;margin:0 0.02em 0 0.02em;overflow:visible" viewBox="0 0 97 100"><path d="M6 97V3H48C88 3 88 52 48 52H6M22 3V97M2 97H30M2 3H22M44 52L78 97H92M32 52L66 97H80" fill="none" stroke="currentColor" stroke-width="6"/></svg><span class="ss" style=""><span class="w"><i>m</i>×<i>n</i><br>+</span><span class="u"><i>m</i>×<i>n</i></span><span class="l">+</span></span>|(<i>M</i><svg style="display:inline-block;width:0.8em;height:0.8em;vertical-align:-0.13em;margin:0 0.15em 0 0.15em;overflow:visible" viewBox="0 0 100 100"><circle cx="50" cy="50" r="45" fill="none" stroke="currentColor" stroke-width="7"/><circle cx="50" cy="50" r="10" fill="currentColor"/></svg><i>π</i>)<b>1</b><span class="sb" style=""><i>n</i></span> = <b><i>p</i></b>, (<i>M</i><svg style="display:inline-block;width:0.8em;height:0.8em;vertical-align:-0.13em;margin:0 0.15em 0 0.15em;overflow:visible" viewBox="0 0 100 100"><circle cx="50" cy="50" r="45" fill="none" stroke="currentColor" stroke-width="7"/><circle cx="50" cy="50" r="10" fill="currentColor"/></svg><i>π</i>)<span class="sp" style=""><i>T</i></span><b>1</b><span class="sb" style=""><i>m</i></span> = <b><i>q</i></b>}</div>
<div id="e93" class="t" style="left:1482.0px;top:2002.9px;font-size:37.50px;font-family:'Liberation Serif',serif;transform:scaleX(0.9943);font-style:italic;"><span class="st"></span>By solving the KPG-RL model, the cross-domain points with smaller <span style="font-style:normal"><i>G</i></span></div>
<div id="e94" class="t" style="left:1482.0px;top:2048.5px;font-size:37.50px;font-family:'Liberation Serif',serif;transform:scaleX(1.0191);font-style:italic;"><span class="st"></span>that have similar relation vectors are assigned with larger <span style="font-style:normal">(<i>M</i><svg style="display:inline-block;width:0.8em;height:0.8em;vertical-align:-0.13em;margin:0 0.18em 0 0.18em;overflow:visible" viewBox="0 0 100 100"><circle cx="50" cy="50" r="45" fill="none" stroke="currentColor" stroke-width="7"/><circle cx="50" cy="50" r="10" fill="currentColor"/></svg><i>π</i>)</span>,</div>
<div id="e95" class="t" style="left:1482.0px;top:2093.4px;font-size:37.50px;font-family:'Liberation Serif',serif;transform:scaleX(0.9948);font-style:italic;"><span class="st"></span>hence are encouraged to be matched.</div>
<svg style="left:2698.0px;top:405.4px" width="23.1" height="21.0" viewBox="0 0 110 100"><path d="M4 4L106 50L4 96L34 50Z" fill="#fff" stroke="#000" stroke-width="5" stroke-linejoin="miter"/><path d="M34 50H106L4 96Z" fill="#000"/><path d="M4 4L34 50L4 96" fill="none" stroke="#000" stroke-width="9"/></svg>
<div id="e96" class="t" style="left:2739.0px;top:334.4px;font-size:36.30px;font-family:'Liberation Serif',serif;transform:scaleX(1.0198);font-weight:bold;"><span class="st"></span>KPG-RL-KP:</div>
<div id="e97" class="t" style="left:2997.7px;top:388.0px;font-size:36.00px;font-family:'Liberation Serif',serif;transform:scaleX(1.0900);letter-spacing:.03em;letter-spacing:2.822px;"><span class="st"></span><span class="un" style=""><span class="un-t">min</span><span class="un-b" style="font-size:0.7em"><span style="top:-0.05em"><i>π</i><svg style="display:inline-block;width:0.56em;height:0.62em;vertical-align:-0.04em;margin:0 0.03em 0 0.03em;overflow:visible" viewBox="0 0 90 100"><path d="M86 6H46A44 44 0 0 0 46 94H86M4 50H86" fill="none" stroke="currentColor" stroke-width="8"/></svg>Π(<b><i>p</i></b>,<b><i>q</i></b>;<i>M</i>)</span></span></span><span style="display:inline-block;width:0.12em"></span><i>α</i><i>L</i><span class="sb" style=""><i>ot</i></span>(<i>M</i><svg style="display:inline-block;width:0.8em;height:0.8em;vertical-align:-0.13em;margin:0 0.2em 0 0.2em;overflow:visible" viewBox="0 0 100 100"><circle cx="50" cy="50" r="45" fill="none" stroke="currentColor" stroke-width="7"/><circle cx="50" cy="50" r="10" fill="currentColor"/></svg><i>π</i>)<span style="display:inline-block;width:0.15em"></span>+<span style="display:inline-block;width:0.15em"></span>(1<span style="display:inline-block;width:0.15em"></span>−<span style="display:inline-block;width:0.15em"></span><i>α</i>)<i>L</i><span class="sb" style=""><i>kpg</i></span>(<i>π</i>)</div>
<svg style="left:2698.0px;top:537.4px" width="23.1" height="21.0" viewBox="0 0 110 100"><path d="M4 4L106 50L4 96L34 50Z" fill="#fff" stroke="#000" stroke-width="5" stroke-linejoin="miter"/><path d="M34 50H106L4 96Z" fill="#000"/><path d="M4 4L34 50L4 96" fill="none" stroke="#000" stroke-width="9"/></svg>
<div id="e98" class="t" style="left:2739.0px;top:466.3px;font-size:36.30px;font-family:'Liberation Serif',serif;transform:scaleX(1.0182);font-weight:bold;"><span class="st"></span>KPG-RL-GW:</div>
<div id="e99" class="t" style="left:2980.0px;top:527.8px;font-size:36.00px;font-family:'Liberation Serif',serif;transform:scaleX(1.0900);letter-spacing:.03em;letter-spacing:2.814px;"><span class="st"></span><span class="un" style=""><span class="un-t">min</span><span class="un-b" style="font-size:0.7em"><span style="top:-0.05em"><i>π</i><svg style="display:inline-block;width:0.56em;height:0.62em;vertical-align:-0.04em;margin:0 0.03em 0 0.03em;overflow:visible" viewBox="0 0 90 100"><path d="M86 6H46A44 44 0 0 0 46 94H86M4 50H86" fill="none" stroke="currentColor" stroke-width="8"/></svg>Π(<b><i>p</i></b>,<b><i>q</i></b>;<i>M</i>)</span></span></span><span style="display:inline-block;width:0.12em"></span><i>α</i><i>L</i><span class="sb" style=""><i>gw</i></span>(<i>M</i><svg style="display:inline-block;width:0.8em;height:0.8em;vertical-align:-0.13em;margin:0 0.2em 0 0.2em;overflow:visible" viewBox="0 0 100 100"><circle cx="50" cy="50" r="45" fill="none" stroke="currentColor" stroke-width="7"/><circle cx="50" cy="50" r="10" fill="currentColor"/></svg><i>π</i>)<span style="display:inline-block;width:0.15em"></span>+<span style="display:inline-block;width:0.15em"></span>(1<span style="display:inline-block;width:0.15em"></span>−<span style="display:inline-block;width:0.15em"></span><i>α</i>)<i>L</i><span class="sb" style=""><i>kpg</i></span>(<i>π</i>)</div>
<svg style="left:2700.7px;top:693.0px" width="23.1" height="21.0" viewBox="0 0 110 100"><path d="M4 4L106 50L4 96L34 50Z" fill="#fff" stroke="#000" stroke-width="5" stroke-linejoin="miter"/><path d="M34 50H106L4 96Z" fill="#000"/><path d="M4 4L34 50L4 96" fill="none" stroke="#000" stroke-width="9"/></svg>
<div id="e100" class="t" style="left:2741.3px;top:621.9px;font-size:36.30px;font-family:'Liberation Serif',serif;transform:scaleX(1.0240);font-weight:bold;"><span class="st"></span>Extension KPG-RL to Partial OT<span style="display:inline-block;width:.62em"></span>:</div>
<div id="e101" class="t" style="left:3010.9px;top:686.1px;font-size:36.00px;font-family:'Liberation Serif',serif;transform:scaleX(1.0752);letter-spacing:.03em;letter-spacing:2.703px;"><span class="st"></span><span class="un" style=""><span class="un-t">min</span><span class="un-b" style="font-size:0.7em"><span style="top:-0.05em"><i>π</i><svg style="display:inline-block;width:0.56em;height:0.62em;vertical-align:-0.04em;margin:0 0.03em 0 0.03em;overflow:visible" viewBox="0 0 90 100"><path d="M86 6H46A44 44 0 0 0 46 94H86M4 50H86" fill="none" stroke="currentColor" stroke-width="8"/></svg>Π<span class="sp" style="vertical-align:.45em"><i>s</i></span>(<b><i>p</i></b>,<b><i>q</i></b>;<i>M</i>)</span></span></span><span style="display:inline-block;width:0.12em"></span><i>L</i><span class="sb" style=""><i>kpg</i></span>(<i>M</i><svg style="display:inline-block;width:0.8em;height:0.8em;vertical-align:-0.13em;margin:0 0.2em 0 0.2em;overflow:visible" viewBox="0 0 100 100"><circle cx="50" cy="50" r="45" fill="none" stroke="currentColor" stroke-width="7"/><circle cx="50" cy="50" r="10" fill="currentColor"/></svg><i>π</i>)<span style="display:inline-block;width:0.2em"></span>=<span style="display:inline-block;width:0.2em"></span><svg style="display:inline-block;width:0.26em;height:1.05em;vertical-align:-0.24em;margin:0 0.02em 0 0.02em;overflow:visible" viewBox="0 0 26 105"><path d="M22 3L5 52L22 102" fill="none" stroke="currentColor" stroke-width="5.5"/></svg><i>M</i><svg style="display:inline-block;width:0.8em;height:0.8em;vertical-align:-0.13em;margin:0 0.2em 0 0.2em;overflow:visible" viewBox="0 0 100 100"><circle cx="50" cy="50" r="45" fill="none" stroke="currentColor" stroke-width="7"/><circle cx="50" cy="50" r="10" fill="currentColor"/></svg><i>π</i>, <i>G</i><svg style="display:inline-block;width:0.26em;height:1.05em;vertical-align:-0.24em;margin:0 0.02em 0 0.02em;overflow:visible" viewBox="0 0 26 105"><path d="M4 3L21 52L4 102" fill="none" stroke="currentColor" stroke-width="5.5"/></svg><span class="sb" style=""><i>F</i></span></div>
<div id="e102" class="t" style="left:2827.3px;top:776.8px;font-size:37.00px;font-family:'Liberation Serif',serif;transform:scaleX(1.0900);letter-spacing:1.854px;"><span class="st"></span>Π<span class="sp" style=""><i>s</i></span>(<b><i>p</i></b>, <b><i>q</i></b>; <i>M</i>) = {<i>π</i><svg style="display:inline-block;width:0.56em;height:0.62em;vertical-align:-0.04em;margin:0 0.18em 0 0.18em;overflow:visible" viewBox="0 0 90 100"><path d="M86 6H46A44 44 0 0 0 46 94H86M4 50H86" fill="none" stroke="currentColor" stroke-width="8"/></svg><svg style="display:inline-block;width:0.66em;height:0.68em;vertical-align:0em;margin:0 0.02em 0 0.02em;overflow:visible" viewBox="0 0 97 100"><path d="M6 97V3H48C88 3 88 52 48 52H6M22 3V97M2 97H30M2 3H22M44 52L78 97H92M32 52L66 97H80" fill="none" stroke="currentColor" stroke-width="6"/></svg><span class="ss" style=""><span class="w"><i>m</i>×<i>n</i><br>+</span><span class="u"><i>m</i>×<i>n</i></span><span class="l">+</span></span>|(<i>M</i><svg style="display:inline-block;width:0.8em;height:0.8em;vertical-align:-0.13em;margin:0 0.15em 0 0.15em;overflow:visible" viewBox="0 0 100 100"><circle cx="50" cy="50" r="45" fill="none" stroke="currentColor" stroke-width="7"/><circle cx="50" cy="50" r="10" fill="currentColor"/></svg><i>π</i>)<b>1</b><span class="sb" style=""><i>n</i></span> ≤ <b><i>p</i></b>, (<i>M</i><svg style="display:inline-block;width:0.8em;height:0.8em;vertical-align:-0.13em;margin:0 0.15em 0 0.15em;overflow:visible" viewBox="0 0 100 100"><circle cx="50" cy="50" r="45" fill="none" stroke="currentColor" stroke-width="7"/><circle cx="50" cy="50" r="10" fill="currentColor"/></svg><i>π</i>)<span class="sp" style=""><i>T</i></span><b>1</b><span class="sb" style=""><i>m</i></span> ≤ <b><i>q</i></b>,</div>
<div id="e103" class="t" style="left:3083.2px;top:823.3px;font-size:37.00px;font-family:'Liberation Serif',serif;transform:scaleX(1.0900);letter-spacing:1.949px;"><span class="st"></span><b>1</b><span class="ss" style=""><span class="w"><i>T</i><br><i>m</i></span><span class="u"><i>T</i></span><span class="l"><i>m</i></span></span>(<i>M</i><svg style="display:inline-block;width:0.8em;height:0.8em;vertical-align:-0.13em;margin:0 0.15em 0 0.15em;overflow:visible" viewBox="0 0 100 100"><circle cx="50" cy="50" r="45" fill="none" stroke="currentColor" stroke-width="7"/><circle cx="50" cy="50" r="10" fill="currentColor"/></svg><i>π</i>)1<span class="sb" style=""><i>n</i></span> = <i>s</i>; (<i>M</i><svg style="display:inline-block;width:0.8em;height:0.8em;vertical-align:-0.13em;margin:0 0.15em 0 0.15em;overflow:visible" viewBox="0 0 100 100"><circle cx="50" cy="50" r="45" fill="none" stroke="currentColor" stroke-width="7"/><circle cx="50" cy="50" r="10" fill="currentColor"/></svg><i>π</i>)<span class="sb" style=""><i>i</i>,:</span><b>1</b><span class="sb" style=""><i>n</i></span> = <i>p</i><span class="sb" style=""><i>i</i></span>, <svg style="display:inline-block;width:0.6em;height:0.68em;vertical-align:0em;margin:0 0.02em 0 0.02em;overflow:visible" viewBox="0 0 88 100"><path d="M4 3L44 97L84 3M18 38H70" fill="none" stroke="currentColor" stroke-width="7"/></svg><i>i</i><svg style="display:inline-block;width:0.56em;height:0.62em;vertical-align:-0.04em;margin:0 0.18em 0 0.18em;overflow:visible" viewBox="0 0 90 100"><path d="M86 6H46A44 44 0 0 0 46 94H86M4 50H86" fill="none" stroke="currentColor" stroke-width="8"/></svg><i>I</i>;</div>
<div id="e104" class="t" style="left:3089.5px;top:870.8px;font-size:37.00px;font-family:'Liberation Serif',serif;transform:scaleX(1.0900);letter-spacing:1.656px;"><span class="st"></span><b>1</b><span class="ss" style=""><span class="w"><i>T</i><br><i>m</i></span><span class="u"><i>T</i></span><span class="l"><i>m</i></span></span>(<i>M</i><svg style="display:inline-block;width:0.8em;height:0.8em;vertical-align:-0.13em;margin:0 0.15em 0 0.15em;overflow:visible" viewBox="0 0 100 100"><circle cx="50" cy="50" r="45" fill="none" stroke="currentColor" stroke-width="7"/><circle cx="50" cy="50" r="10" fill="currentColor"/></svg><i>π</i>)<span class="sb" style="">:,<i>j</i></span> = <i>q</i><span class="sb" style=""><i>j</i></span>, <svg style="display:inline-block;width:0.6em;height:0.68em;vertical-align:0em;margin:0 0.02em 0 0.02em;overflow:visible" viewBox="0 0 88 100"><path d="M4 3L44 97L84 3M18 38H70" fill="none" stroke="currentColor" stroke-width="7"/></svg><i>j</i><svg style="display:inline-block;width:0.56em;height:0.62em;vertical-align:-0.04em;margin:0 0.18em 0 0.18em;overflow:visible" viewBox="0 0 90 100"><path d="M86 6H46A44 44 0 0 0 46 94H86M4 50H86" fill="none" stroke="currentColor" stroke-width="8"/></svg><i>J</i>; }</div>
<div style="position:absolute;left:2737.0px;top:1115.0px;width:366.2px;height:269.0px;box-sizing:border-box;border:1.7px solid #757575;background:#fff;"></div>
<div style="position:absolute;left:3147.0px;top:1115.0px;width:366.0px;height:269.0px;box-sizing:border-box;border:1.7px solid #757575;background:#fff;"></div>
<div style="position:absolute;left:3557.4px;top:1115.0px;width:366.2px;height:269.0px;box-sizing:border-box;border:1.7px solid #757575;background:#fff;"></div>
<svg style="left:0;top:0" width="3999" height="2249"><line x1="2904.8" y1="1150.4" x2="3061.5" y2="1249.0" stroke="#9a9a9a" stroke-width="0.9"/><line x1="2912.8" y1="1148.8" x2="3062.6" y2="1253.2" stroke="#9a9a9a" stroke-width="0.9"/><line x1="2921.7" y1="1150.9" x2="3063.6" y2="1256.4" stroke="#9a9a9a" stroke-width="0.9"/><line x1="2951.3" y1="1148.2" x2="3063.6" y2="1256.4" stroke="#9a9a9a" stroke-width="0.9"/><line x1="2973.9" y1="1137.2" x2="3060.5" y2="1231.6" stroke="#9a9a9a" stroke-width="0.9"/><line x1="2906.9" y1="1143.5" x2="3061.5" y2="1249.0" stroke="#9a9a9a" stroke-width="0.9"/><line x1="2921.7" y1="1150.9" x2="3062.6" y2="1253.2" stroke="#9a9a9a" stroke-width="0.9"/><line x1="2791.9" y1="1272.2" x2="2878.5" y2="1269.6" stroke="#9a9a9a" stroke-width="0.9"/><line x1="2812.5" y1="1283.3" x2="2854.7" y2="1278.6" stroke="#9a9a9a" stroke-width="0.9"/><line x1="2819.4" y1="1285.9" x2="2912.8" y2="1276.4" stroke="#9a9a9a" stroke-width="0.9"/><line x1="2800.9" y1="1287.5" x2="2909.1" y2="1291.7" stroke="#9a9a9a" stroke-width="0.9"/><line x1="2819.4" y1="1285.9" x2="2937.5" y2="1289.1" stroke="#9a9a9a" stroke-width="0.9"/><line x1="2788.2" y1="1284.9" x2="2944.9" y2="1291.2" stroke="#9a9a9a" stroke-width="0.9"/><line x1="2777.2" y1="1290.2" x2="2918.0" y2="1299.7" stroke="#9a9a9a" stroke-width="0.9"/><line x1="2895.3" y1="1306.5" x2="2894.8" y2="1365.6" stroke="#9a9a9a" stroke-width="0.9"/><line x1="2918.0" y1="1299.7" x2="2902.2" y2="1370.9" stroke="#9a9a9a" stroke-width="0.9"/><line x1="2944.9" y1="1291.2" x2="2914.9" y2="1355.1" stroke="#9a9a9a" stroke-width="0.9"/><line x1="2952.8" y1="1290.2" x2="2927.5" y2="1366.7" stroke="#9a9a9a" stroke-width="0.9"/><line x1="2967.6" y1="1294.4" x2="2934.4" y2="1366.7" stroke="#9a9a9a" stroke-width="0.9"/><line x1="2887.4" y1="1354.5" x2="3041.5" y2="1257.5" stroke="#9a9a9a" stroke-width="0.9"/><line x1="2926.5" y1="1342.4" x2="3038.8" y2="1262.2" stroke="#9a9a9a" stroke-width="0.9"/><line x1="2927.5" y1="1366.7" x2="3061.5" y2="1249.0" stroke="#9a9a9a" stroke-width="0.9"/><line x1="2934.4" y1="1366.7" x2="3081.0" y2="1260.1" stroke="#9a9a9a" stroke-width="0.9"/><line x1="2951.8" y1="1338.7" x2="3063.6" y2="1256.4" stroke="#9a9a9a" stroke-width="0.9"/><line x1="2982.4" y1="1365.6" x2="3081.0" y2="1260.1" stroke="#9a9a9a" stroke-width="0.9"/><line x1="2914.9" y1="1355.1" x2="3041.5" y2="1257.5" stroke="#9a9a9a" stroke-width="0.9"/><path d="M2909.6 1126.2L2913.7 1134.3H2905.4Z" stroke="#5b5bff" stroke-width="1.1" fill="none"/><path d="M2935.4 1130.5L2939.6 1138.5H2931.3Z" stroke="#5b5bff" stroke-width="1.1" fill="none"/><path d="M2942.3 1126.8L2946.4 1134.8H2938.2Z" stroke="#5b5bff" stroke-width="1.1" fill="none"/><path d="M2948.6 1123.1L2952.8 1131.1H2944.5Z" stroke="#5b5bff" stroke-width="1.1" fill="none"/><path d="M2973.9 1132.6L2978.1 1140.6H2969.8Z" stroke="#5b5bff" stroke-width="1.1" fill="none"/><path d="M2906.9 1138.9L2911.1 1146.9H2902.8Z" stroke="#5b5bff" stroke-width="1.1" fill="none"/><path d="M2904.8 1145.8L2909.0 1153.8H2900.7Z" stroke="#5b5bff" stroke-width="1.1" fill="none"/><path d="M2912.8 1144.2L2916.9 1152.2H2908.6Z" stroke="#5b5bff" stroke-width="1.1" fill="none"/><path d="M2921.7 1146.3L2925.9 1154.3H2917.6Z" stroke="#5b5bff" stroke-width="1.1" fill="none"/><path d="M2951.3 1143.6L2955.4 1151.7H2947.1Z" stroke="#5b5bff" stroke-width="1.1" fill="none"/><path d="M3056.3 1231.6H3064.7M3060.5 1227.4V1235.8" stroke="#3f9a3f" stroke-width="1.1" fill="none"/><path d="M3062.6 1235.3H3071.0M3066.8 1231.1V1239.5" stroke="#3f9a3f" stroke-width="1.1" fill="none"/><path d="M3082.1 1242.7H3090.5M3086.3 1238.5V1246.9" stroke="#3f9a3f" stroke-width="1.1" fill="none"/><path d="M3057.3 1249.0H3065.7M3061.5 1244.8V1253.2" stroke="#3f9a3f" stroke-width="1.1" fill="none"/><path d="M3058.4 1253.2H3066.8M3062.6 1249.0V1257.4" stroke="#3f9a3f" stroke-width="1.1" fill="none"/><path d="M3059.4 1256.4H3067.8M3063.6 1252.2V1260.6" stroke="#3f9a3f" stroke-width="1.1" fill="none"/><path d="M3076.8 1260.1H3085.2M3081.0 1255.9V1264.3" stroke="#3f9a3f" stroke-width="1.1" fill="none"/><path d="M3037.3 1257.5H3045.7M3041.5 1253.3V1261.7" stroke="#3f9a3f" stroke-width="1.1" fill="none"/><path d="M3034.6 1262.2H3043.0M3038.8 1258.0V1266.4" stroke="#3f9a3f" stroke-width="1.1" fill="none"/><circle cx="2783.0" cy="1260.1" r="4.3" stroke="#5b5bff" stroke-width="1.1" fill="none"/><circle cx="2771.4" cy="1274.3" r="4.3" stroke="#5b5bff" stroke-width="1.1" fill="none"/><circle cx="2791.9" cy="1272.2" r="4.3" stroke="#5b5bff" stroke-width="1.1" fill="none"/><circle cx="2754.0" cy="1298.1" r="4.3" stroke="#5b5bff" stroke-width="1.1" fill="none"/><circle cx="2777.2" cy="1290.2" r="4.3" stroke="#5b5bff" stroke-width="1.1" fill="none"/><circle cx="2778.2" cy="1294.9" r="4.3" stroke="#5b5bff" stroke-width="1.1" fill="none"/><circle cx="2788.2" cy="1284.9" r="4.3" stroke="#5b5bff" stroke-width="1.1" fill="none"/><circle cx="2800.9" cy="1287.5" r="4.3" stroke="#5b5bff" stroke-width="1.1" fill="none"/><circle cx="2812.5" cy="1283.3" r="4.3" stroke="#5b5bff" stroke-width="1.1" fill="none"/><circle cx="2819.4" cy="1285.9" r="4.3" stroke="#5b5bff" stroke-width="1.1" fill="none"/><circle cx="2878.5" cy="1269.6" r="4.3" stroke="#3f9a3f" stroke-width="1.1" fill="none"/><circle cx="2854.7" cy="1278.6" r="4.3" stroke="#3f9a3f" stroke-width="1.1" fill="none"/><circle cx="2912.8" cy="1276.4" r="4.3" stroke="#3f9a3f" stroke-width="1.1" fill="none"/><circle cx="2909.1" cy="1291.7" r="4.3" stroke="#3f9a3f" stroke-width="1.1" fill="none"/><circle cx="2918.0" cy="1299.7" r="4.3" stroke="#3f9a3f" stroke-width="1.1" fill="none"/><circle cx="2937.5" cy="1289.1" r="4.3" stroke="#3f9a3f" stroke-width="1.1" fill="none"/><circle cx="2944.9" cy="1291.2" r="4.3" stroke="#3f9a3f" stroke-width="1.1" fill="none"/><circle cx="2952.8" cy="1290.2" r="4.3" stroke="#3f9a3f" stroke-width="1.1" fill="none"/><circle cx="2967.6" cy="1294.4" r="4.3" stroke="#3f9a3f" stroke-width="1.1" fill="none"/><circle cx="2895.3" cy="1306.5" r="4.3" stroke="#3f9a3f" stroke-width="1.1" fill="none"/><path d="M2883.2 1354.5H2891.6M2887.4 1350.3V1358.7" stroke="#5b5bff" stroke-width="1.1" fill="none"/><path d="M2890.6 1365.6H2899.0M2894.8 1361.4V1369.8" stroke="#5b5bff" stroke-width="1.1" fill="none"/><path d="M2879.0 1371.9H2887.4M2883.2 1367.7V1376.1" stroke="#5b5bff" stroke-width="1.1" fill="none"/><path d="M2898.0 1370.9H2906.4M2902.2 1366.7V1375.1" stroke="#5b5bff" stroke-width="1.1" fill="none"/><path d="M2910.7 1355.1H2919.1M2914.9 1350.9V1359.3" stroke="#5b5bff" stroke-width="1.1" fill="none"/><path d="M2922.3 1342.4H2930.7M2926.5 1338.2V1346.6" stroke="#5b5bff" stroke-width="1.1" fill="none"/><path d="M2923.3 1366.7H2931.7M2927.5 1362.5V1370.9" stroke="#5b5bff" stroke-width="1.1" fill="none"/><path d="M2930.2 1366.7H2938.6M2934.4 1362.5V1370.9" stroke="#5b5bff" stroke-width="1.1" fill="none"/><path d="M2947.6 1338.7H2956.0M2951.8 1334.5V1342.9" stroke="#5b5bff" stroke-width="1.1" fill="none"/><path d="M2978.2 1365.6H2986.6M2982.4 1361.4V1369.8" stroke="#5b5bff" stroke-width="1.1" fill="none"/><line x1="3316.9" y1="1143.5" x2="3470.4" y2="1231.6" stroke="#9a9a9a" stroke-width="0.9"/><line x1="3361.2" y1="1148.2" x2="3496.2" y2="1242.7" stroke="#9a9a9a" stroke-width="0.9"/><line x1="3314.8" y1="1150.4" x2="3305.3" y2="1306.5" stroke="#9a9a9a" stroke-width="0.9"/><line x1="3314.8" y1="1150.4" x2="3305.3" y2="1306.5" stroke="#9a9a9a" stroke-width="0.9"/><line x1="3322.7" y1="1148.8" x2="3264.6" y2="1278.6" stroke="#9a9a9a" stroke-width="0.9"/><line x1="3361.2" y1="1148.2" x2="3264.6" y2="1278.6" stroke="#9a9a9a" stroke-width="0.9"/><line x1="3331.6" y1="1150.9" x2="3470.4" y2="1231.6" stroke="#9a9a9a" stroke-width="0.9"/><line x1="3192.9" y1="1260.1" x2="3347.5" y2="1289.1" stroke="#9a9a9a" stroke-width="0.9"/><line x1="3201.9" y1="1272.2" x2="3264.6" y2="1278.6" stroke="#9a9a9a" stroke-width="0.9"/><line x1="3163.9" y1="1298.1" x2="3362.8" y2="1290.2" stroke="#9a9a9a" stroke-width="0.9"/><line x1="3187.1" y1="1290.2" x2="3354.9" y2="1291.2" stroke="#9a9a9a" stroke-width="0.9"/><line x1="3188.1" y1="1294.9" x2="3319.0" y2="1291.7" stroke="#9a9a9a" stroke-width="0.9"/><line x1="3198.2" y1="1284.9" x2="3327.9" y2="1299.7" stroke="#9a9a9a" stroke-width="0.9"/><line x1="3210.8" y1="1287.5" x2="3347.5" y2="1289.1" stroke="#9a9a9a" stroke-width="0.9"/><line x1="3222.4" y1="1283.3" x2="3362.8" y2="1290.2" stroke="#9a9a9a" stroke-width="0.9"/><line x1="3229.3" y1="1285.9" x2="3319.0" y2="1291.7" stroke="#9a9a9a" stroke-width="0.9"/><line x1="3181.3" y1="1274.3" x2="3377.5" y2="1294.4" stroke="#9a9a9a" stroke-width="0.9"/><line x1="3198.2" y1="1284.9" x2="3471.4" y2="1249.0" stroke="#9a9a9a" stroke-width="0.9"/><line x1="3210.8" y1="1287.5" x2="3472.5" y2="1253.2" stroke="#9a9a9a" stroke-width="0.9"/><line x1="3222.4" y1="1283.3" x2="3473.6" y2="1256.4" stroke="#9a9a9a" stroke-width="0.9"/><line x1="3229.3" y1="1285.9" x2="3471.4" y2="1249.0" stroke="#9a9a9a" stroke-width="0.9"/><line x1="3187.1" y1="1290.2" x2="3472.5" y2="1253.2" stroke="#9a9a9a" stroke-width="0.9"/><line x1="3297.3" y1="1354.5" x2="3305.3" y2="1306.5" stroke="#9a9a9a" stroke-width="0.9"/><line x1="3324.8" y1="1355.1" x2="3327.9" y2="1299.7" stroke="#9a9a9a" stroke-width="0.9"/><line x1="3336.4" y1="1342.4" x2="3470.4" y2="1231.6" stroke="#9a9a9a" stroke-width="0.9"/><line x1="3361.7" y1="1338.7" x2="3327.9" y2="1299.7" stroke="#9a9a9a" stroke-width="0.9"/><line x1="3304.7" y1="1365.6" x2="3305.3" y2="1306.5" stroke="#9a9a9a" stroke-width="0.9"/><line x1="3324.8" y1="1355.1" x2="3451.4" y2="1257.5" stroke="#9a9a9a" stroke-width="0.9"/><line x1="3336.4" y1="1342.4" x2="3448.8" y2="1262.2" stroke="#9a9a9a" stroke-width="0.9"/><line x1="3361.7" y1="1338.7" x2="3491.0" y2="1260.1" stroke="#9a9a9a" stroke-width="0.9"/><line x1="3361.7" y1="1338.7" x2="3319.0" y2="1291.7" stroke="#9a9a9a" stroke-width="0.9"/><path d="M3319.5 1126.2L3323.6 1134.3H3315.4Z" stroke="#5b5bff" stroke-width="1.1" fill="none"/><path d="M3345.4 1130.5L3349.5 1138.5H3341.2Z" stroke="#5b5bff" stroke-width="1.1" fill="none"/><path d="M3352.2 1126.8L3356.4 1134.8H3348.1Z" stroke="#5b5bff" stroke-width="1.1" fill="none"/><path d="M3358.5 1123.1L3362.7 1131.1H3354.4Z" stroke="#5b5bff" stroke-width="1.1" fill="none"/><path d="M3383.9 1132.6L3388.0 1140.6H3379.7Z" stroke="#5b5bff" stroke-width="1.1" fill="none"/><path d="M3316.9 1138.9L3321.0 1146.9H3312.7Z" stroke="#5b5bff" stroke-width="1.1" fill="none"/><path d="M3314.8 1145.8L3318.9 1153.8H3310.6Z" stroke="#5b5bff" stroke-width="1.1" fill="none"/><path d="M3322.7 1144.2L3326.8 1152.2H3318.5Z" stroke="#5b5bff" stroke-width="1.1" fill="none"/><path d="M3331.6 1146.3L3335.8 1154.3H3327.5Z" stroke="#5b5bff" stroke-width="1.1" fill="none"/><path d="M3361.2 1143.6L3365.3 1151.7H3357.0Z" stroke="#5b5bff" stroke-width="1.1" fill="none"/><path d="M3466.2 1231.6H3474.6M3470.4 1227.4V1235.8" stroke="#3f9a3f" stroke-width="1.1" fill="none"/><path d="M3472.5 1235.3H3480.9M3476.7 1231.1V1239.5" stroke="#3f9a3f" stroke-width="1.1" fill="none"/><path d="M3492.0 1242.7H3500.4M3496.2 1238.5V1246.9" stroke="#3f9a3f" stroke-width="1.1" fill="none"/><path d="M3467.2 1249.0H3475.6M3471.4 1244.8V1253.2" stroke="#3f9a3f" stroke-width="1.1" fill="none"/><path d="M3468.3 1253.2H3476.7M3472.5 1249.0V1257.4" stroke="#3f9a3f" stroke-width="1.1" fill="none"/><path d="M3469.4 1256.4H3477.8M3473.6 1252.2V1260.6" stroke="#3f9a3f" stroke-width="1.1" fill="none"/><path d="M3486.8 1260.1H3495.2M3491.0 1255.9V1264.3" stroke="#3f9a3f" stroke-width="1.1" fill="none"/><path d="M3447.2 1257.5H3455.6M3451.4 1253.3V1261.7" stroke="#3f9a3f" stroke-width="1.1" fill="none"/><path d="M3444.6 1262.2H3453.0M3448.8 1258.0V1266.4" stroke="#3f9a3f" stroke-width="1.1" fill="none"/><circle cx="3192.9" cy="1260.1" r="4.3" stroke="#5b5bff" stroke-width="1.1" fill="none"/><circle cx="3181.3" cy="1274.3" r="4.3" stroke="#5b5bff" stroke-width="1.1" fill="none"/><circle cx="3201.9" cy="1272.2" r="4.3" stroke="#5b5bff" stroke-width="1.1" fill="none"/><circle cx="3163.9" cy="1298.1" r="4.3" stroke="#5b5bff" stroke-width="1.1" fill="none"/><circle cx="3187.1" cy="1290.2" r="4.3" stroke="#5b5bff" stroke-width="1.1" fill="none"/><circle cx="3188.1" cy="1294.9" r="4.3" stroke="#5b5bff" stroke-width="1.1" fill="none"/><circle cx="3198.2" cy="1284.9" r="4.3" stroke="#5b5bff" stroke-width="1.1" fill="none"/><circle cx="3210.8" cy="1287.5" r="4.3" stroke="#5b5bff" stroke-width="1.1" fill="none"/><circle cx="3222.4" cy="1283.3" r="4.3" stroke="#5b5bff" stroke-width="1.1" fill="none"/><circle cx="3229.3" cy="1285.9" r="4.3" stroke="#5b5bff" stroke-width="1.1" fill="none"/><circle cx="3288.4" cy="1269.6" r="4.3" stroke="#3f9a3f" stroke-width="1.1" fill="none"/><circle cx="3264.6" cy="1278.6" r="4.3" stroke="#3f9a3f" stroke-width="1.1" fill="none"/><circle cx="3322.7" cy="1276.4" r="4.3" stroke="#3f9a3f" stroke-width="1.1" fill="none"/><circle cx="3319.0" cy="1291.7" r="4.3" stroke="#3f9a3f" stroke-width="1.1" fill="none"/><circle cx="3327.9" cy="1299.7" r="4.3" stroke="#3f9a3f" stroke-width="1.1" fill="none"/><circle cx="3347.5" cy="1289.1" r="4.3" stroke="#3f9a3f" stroke-width="1.1" fill="none"/><circle cx="3354.9" cy="1291.2" r="4.3" stroke="#3f9a3f" stroke-width="1.1" fill="none"/><circle cx="3362.8" cy="1290.2" r="4.3" stroke="#3f9a3f" stroke-width="1.1" fill="none"/><circle cx="3377.5" cy="1294.4" r="4.3" stroke="#3f9a3f" stroke-width="1.1" fill="none"/><circle cx="3305.3" cy="1306.5" r="4.3" stroke="#3f9a3f" stroke-width="1.1" fill="none"/><path d="M3293.1 1354.5H3301.5M3297.3 1350.3V1358.7" stroke="#5b5bff" stroke-width="1.1" fill="none"/><path d="M3300.5 1365.6H3308.9M3304.7 1361.4V1369.8" stroke="#5b5bff" stroke-width="1.1" fill="none"/><path d="M3288.9 1371.9H3297.3M3293.1 1367.7V1376.1" stroke="#5b5bff" stroke-width="1.1" fill="none"/><path d="M3307.9 1370.9H3316.3M3312.1 1366.7V1375.1" stroke="#5b5bff" stroke-width="1.1" fill="none"/><path d="M3320.6 1355.1H3329.0M3324.8 1350.9V1359.3" stroke="#5b5bff" stroke-width="1.1" fill="none"/><path d="M3332.2 1342.4H3340.6M3336.4 1338.2V1346.6" stroke="#5b5bff" stroke-width="1.1" fill="none"/><path d="M3333.2 1366.7H3341.6M3337.4 1362.5V1370.9" stroke="#5b5bff" stroke-width="1.1" fill="none"/><path d="M3340.1 1366.7H3348.5M3344.3 1362.5V1370.9" stroke="#5b5bff" stroke-width="1.1" fill="none"/><path d="M3357.5 1338.7H3365.9M3361.7 1334.5V1342.9" stroke="#5b5bff" stroke-width="1.1" fill="none"/><path d="M3388.1 1365.6H3396.5M3392.3 1361.4V1369.8" stroke="#5b5bff" stroke-width="1.1" fill="none"/><line x1="3603.3" y1="1260.1" x2="3698.8" y2="1269.6" stroke="#9a9a9a" stroke-width="0.9"/><line x1="3591.7" y1="1274.3" x2="3675.1" y2="1278.6" stroke="#9a9a9a" stroke-width="0.9"/><line x1="3612.3" y1="1272.2" x2="3733.1" y2="1276.4" stroke="#9a9a9a" stroke-width="0.9"/><line x1="3597.5" y1="1290.2" x2="3729.4" y2="1291.7" stroke="#9a9a9a" stroke-width="0.9"/><line x1="3598.6" y1="1294.9" x2="3738.4" y2="1299.7" stroke="#9a9a9a" stroke-width="0.9"/><line x1="3608.6" y1="1284.9" x2="3757.9" y2="1289.1" stroke="#9a9a9a" stroke-width="0.9"/><line x1="3621.3" y1="1287.5" x2="3765.3" y2="1291.2" stroke="#9a9a9a" stroke-width="0.9"/><line x1="3632.9" y1="1283.3" x2="3773.2" y2="1290.2" stroke="#9a9a9a" stroke-width="0.9"/><line x1="3639.7" y1="1285.9" x2="3788.0" y2="1294.4" stroke="#9a9a9a" stroke-width="0.9"/><line x1="3574.3" y1="1298.1" x2="3729.4" y2="1291.7" stroke="#9a9a9a" stroke-width="0.9"/><line x1="3707.8" y1="1354.5" x2="3861.8" y2="1257.5" stroke="#9a9a9a" stroke-width="0.9"/><line x1="3715.2" y1="1365.6" x2="3859.2" y2="1262.2" stroke="#9a9a9a" stroke-width="0.9"/><line x1="3735.2" y1="1355.1" x2="3881.9" y2="1249.0" stroke="#9a9a9a" stroke-width="0.9"/><line x1="3746.8" y1="1342.4" x2="3882.9" y2="1253.2" stroke="#9a9a9a" stroke-width="0.9"/><line x1="3747.9" y1="1366.7" x2="3884.0" y2="1256.4" stroke="#9a9a9a" stroke-width="0.9"/><line x1="3754.7" y1="1366.7" x2="3901.4" y2="1260.1" stroke="#9a9a9a" stroke-width="0.9"/><line x1="3772.2" y1="1338.7" x2="3887.2" y2="1235.3" stroke="#9a9a9a" stroke-width="0.9"/><line x1="3802.8" y1="1365.6" x2="3901.4" y2="1260.1" stroke="#9a9a9a" stroke-width="0.9"/><line x1="3703.6" y1="1371.9" x2="3861.8" y2="1257.5" stroke="#9a9a9a" stroke-width="0.9"/><path d="M3729.9 1126.2L3734.1 1134.3H3725.8Z" stroke="#5b5bff" stroke-width="1.1" fill="none"/><path d="M3755.8 1130.5L3759.9 1138.5H3751.7Z" stroke="#5b5bff" stroke-width="1.1" fill="none"/><path d="M3762.7 1126.8L3766.8 1134.8H3758.5Z" stroke="#5b5bff" stroke-width="1.1" fill="none"/><path d="M3769.0 1123.1L3773.1 1131.1H3764.8Z" stroke="#5b5bff" stroke-width="1.1" fill="none"/><path d="M3794.3 1132.6L3798.5 1140.6H3790.2Z" stroke="#5b5bff" stroke-width="1.1" fill="none"/><path d="M3727.3 1138.9L3731.5 1146.9H3723.2Z" stroke="#5b5bff" stroke-width="1.1" fill="none"/><path d="M3725.2 1145.8L3729.3 1153.8H3721.1Z" stroke="#5b5bff" stroke-width="1.1" fill="none"/><path d="M3733.1 1144.2L3737.3 1152.2H3729.0Z" stroke="#5b5bff" stroke-width="1.1" fill="none"/><path d="M3742.1 1146.3L3746.2 1154.3H3737.9Z" stroke="#5b5bff" stroke-width="1.1" fill="none"/><path d="M3771.6 1143.6L3775.8 1151.7H3767.5Z" stroke="#5b5bff" stroke-width="1.1" fill="none"/><path d="M3883.0 1235.3H3891.4M3887.2 1231.1V1239.5" stroke="#3f9a3f" stroke-width="1.1" fill="none"/><path d="M3902.5 1242.7H3910.9M3906.7 1238.5V1246.9" stroke="#3f9a3f" stroke-width="1.1" fill="none"/><path d="M3877.7 1249.0H3886.1M3881.9 1244.8V1253.2" stroke="#3f9a3f" stroke-width="1.1" fill="none"/><path d="M3878.7 1253.2H3887.1M3882.9 1249.0V1257.4" stroke="#3f9a3f" stroke-width="1.1" fill="none"/><path d="M3879.8 1256.4H3888.2M3884.0 1252.2V1260.6" stroke="#3f9a3f" stroke-width="1.1" fill="none"/><path d="M3897.2 1260.1H3905.6M3901.4 1255.9V1264.3" stroke="#3f9a3f" stroke-width="1.1" fill="none"/><path d="M3857.6 1257.5H3866.0M3861.8 1253.3V1261.7" stroke="#3f9a3f" stroke-width="1.1" fill="none"/><path d="M3855.0 1262.2H3863.4M3859.2 1258.0V1266.4" stroke="#3f9a3f" stroke-width="1.1" fill="none"/><circle cx="3603.3" cy="1260.1" r="4.3" stroke="#5b5bff" stroke-width="1.1" fill="none"/><circle cx="3591.7" cy="1274.3" r="4.3" stroke="#5b5bff" stroke-width="1.1" fill="none"/><circle cx="3574.3" cy="1298.1" r="4.3" stroke="#5b5bff" stroke-width="1.1" fill="none"/><circle cx="3597.5" cy="1290.2" r="4.3" stroke="#5b5bff" stroke-width="1.1" fill="none"/><circle cx="3598.6" cy="1294.9" r="4.3" stroke="#5b5bff" stroke-width="1.1" fill="none"/><circle cx="3608.6" cy="1284.9" r="4.3" stroke="#5b5bff" stroke-width="1.1" fill="none"/><circle cx="3621.3" cy="1287.5" r="4.3" stroke="#5b5bff" stroke-width="1.1" fill="none"/><circle cx="3632.9" cy="1283.3" r="4.3" stroke="#5b5bff" stroke-width="1.1" fill="none"/><circle cx="3639.7" cy="1285.9" r="4.3" stroke="#5b5bff" stroke-width="1.1" fill="none"/><circle cx="3698.8" cy="1269.6" r="4.3" stroke="#3f9a3f" stroke-width="1.1" fill="none"/><circle cx="3675.1" cy="1278.6" r="4.3" stroke="#3f9a3f" stroke-width="1.1" fill="none"/><circle cx="3733.1" cy="1276.4" r="4.3" stroke="#3f9a3f" stroke-width="1.1" fill="none"/><circle cx="3729.4" cy="1291.7" r="4.3" stroke="#3f9a3f" stroke-width="1.1" fill="none"/><circle cx="3738.4" cy="1299.7" r="4.3" stroke="#3f9a3f" stroke-width="1.1" fill="none"/><circle cx="3757.9" cy="1289.1" r="4.3" stroke="#3f9a3f" stroke-width="1.1" fill="none"/><circle cx="3765.3" cy="1291.2" r="4.3" stroke="#3f9a3f" stroke-width="1.1" fill="none"/><circle cx="3773.2" cy="1290.2" r="4.3" stroke="#3f9a3f" stroke-width="1.1" fill="none"/><circle cx="3788.0" cy="1294.4" r="4.3" stroke="#3f9a3f" stroke-width="1.1" fill="none"/><path d="M3703.6 1354.5H3712.0M3707.8 1350.3V1358.7" stroke="#5b5bff" stroke-width="1.1" fill="none"/><path d="M3711.0 1365.6H3719.4M3715.2 1361.4V1369.8" stroke="#5b5bff" stroke-width="1.1" fill="none"/><path d="M3699.4 1371.9H3707.8M3703.6 1367.7V1376.1" stroke="#5b5bff" stroke-width="1.1" fill="none"/><path d="M3731.0 1355.1H3739.4M3735.2 1350.9V1359.3" stroke="#5b5bff" stroke-width="1.1" fill="none"/><path d="M3742.6 1342.4H3751.0M3746.8 1338.2V1346.6" stroke="#5b5bff" stroke-width="1.1" fill="none"/><path d="M3743.7 1366.7H3752.1M3747.9 1362.5V1370.9" stroke="#5b5bff" stroke-width="1.1" fill="none"/><path d="M3750.5 1366.7H3758.9M3754.7 1362.5V1370.9" stroke="#5b5bff" stroke-width="1.1" fill="none"/><path d="M3768.0 1338.7H3776.4M3772.2 1334.5V1342.9" stroke="#5b5bff" stroke-width="1.1" fill="none"/><path d="M3798.6 1365.6H3807.0M3802.8 1361.4V1369.8" stroke="#5b5bff" stroke-width="1.1" fill="none"/><line x1="3617.6" y1="1272.2" x2="3716.8" y2="1306.5" stroke="#ff4040" stroke-width="1.3"/><line x1="3722.6" y1="1370.9" x2="3880.8" y2="1231.6" stroke="#ff4040" stroke-width="1.3"/><circle cx="3617.6" cy="1272.2" r="5.6" stroke="#ff4040" stroke-width="1.2" fill="none"/><circle cx="3716.8" cy="1306.5" r="5.6" stroke="#ff4040" stroke-width="1.2" fill="none"/><path d="M3717.1 1370.9H3728.1M3722.6 1365.4V1376.4" stroke="#ff4040" stroke-width="1.2" fill="none"/><path d="M3875.3 1231.6H3886.3M3880.8 1226.1V1237.1" stroke="#ff4040" stroke-width="1.2" fill="none"/></svg>
<div id="e105" class="t" style="left:2743.9px;top:1147.7px;font-size:18.20px;font-family:'Liberation Sans',sans-serif;transform:scaleX(1.0694);color:#222;letter-spacing:0.640px;"><span class="st"></span>Matching</div>
<div id="e106" class="t" style="left:2743.9px;top:1169.3px;font-size:18.20px;font-family:'Liberation Sans',sans-serif;transform:scaleX(1.0667);color:#222;letter-spacing:0.598px;"><span class="st"></span>accuracy: 43.3%</div>
<div id="e107" class="t" style="left:3153.8px;top:1147.7px;font-size:18.20px;font-family:'Liberation Sans',sans-serif;transform:scaleX(1.0694);color:#222;letter-spacing:0.640px;"><span class="st"></span>Matching</div>
<div id="e108" class="t" style="left:3153.8px;top:1169.3px;font-size:18.20px;font-family:'Liberation Sans',sans-serif;transform:scaleX(1.0667);color:#222;letter-spacing:0.598px;"><span class="st"></span>accuracy: 43.3%</div>
<div id="e109" class="t" style="left:3564.3px;top:1147.7px;font-size:18.20px;font-family:'Liberation Sans',sans-serif;transform:scaleX(1.0694);color:#222;letter-spacing:0.640px;"><span class="st"></span>Matching</div>
<div id="e110" class="t" style="left:3564.3px;top:1169.3px;font-size:18.20px;font-family:'Liberation Sans',sans-serif;transform:scaleX(1.0704);color:#222;letter-spacing:0.636px;"><span class="st"></span>accuracy: 100.0%</div>
<div id="e111" class="t" style="left:2838.9px;top:1356.9px;font-size:28.70px;font-family:'Liberation Serif',serif;transform:scaleX(0.9711);"><span class="st"></span>(a)<span style="display:inline-block;width:0.35em"></span>Partial-OT</div>
<div id="e112" class="t" style="left:3242.5px;top:1356.9px;font-size:28.70px;font-family:'Liberation Serif',serif;transform:scaleX(0.9760);"><span class="st"></span>(b)<span style="display:inline-block;width:0.35em"></span>Partial-GW</div>
<div id="e113" class="t" style="left:3588.6px;top:1356.9px;font-size:28.70px;font-family:'Liberation Serif',serif;transform:scaleX(0.9874);"><span class="st"></span>(c)<span style="display:inline-block;width:0.35em"></span>Partial-KPG-RL (ours)</div>
<div style="position:absolute;left:2734.2px;top:1566.0px;width:1197.3px;height:2.6px;box-sizing:border-box;background:#000"></div>
<div style="position:absolute;left:2734.2px;top:1616.0px;width:1197.3px;height:1.7px;box-sizing:border-box;background:#333"></div>
<div style="position:absolute;left:2734.2px;top:1829.4px;width:1197.3px;height:1.7px;box-sizing:border-box;background:#333"></div>
<div style="position:absolute;left:2734.2px;top:2043.4px;width:1197.3px;height:1.7px;box-sizing:border-box;background:#333"></div>
<div style="position:absolute;left:2734.2px;top:2192.1px;width:1197.3px;height:2.6px;box-sizing:border-box;background:#000"></div>
<div style="position:absolute;left:3861.3px;top:1577.1px;width:70.2px;height:33.2px;box-sizing:border-box;background:#e6e6e6"></div>
<div style="position:absolute;left:3859.1px;top:1577.1px;width:1.6px;height:33.2px;box-sizing:border-box;background:#777"></div>
<div style="position:absolute;left:3861.3px;top:1626.6px;width:70.2px;height:197.1px;box-sizing:border-box;background:#e6e6e6"></div>
<div style="position:absolute;left:3859.1px;top:1626.6px;width:1.6px;height:197.1px;box-sizing:border-box;background:#777"></div>
<div style="position:absolute;left:3861.3px;top:1840.1px;width:70.2px;height:198.2px;box-sizing:border-box;background:#e6e6e6"></div>
<div style="position:absolute;left:3859.1px;top:1840.1px;width:1.6px;height:198.2px;box-sizing:border-box;background:#777"></div>
<div style="position:absolute;left:3861.3px;top:2054.6px;width:70.2px;height:131.8px;box-sizing:border-box;background:#e6e6e6"></div>
<div style="position:absolute;left:3859.1px;top:2054.6px;width:1.6px;height:131.8px;box-sizing:border-box;background:#777"></div>
<div id="e114" class="t" style="left:2743.5px;top:1522.0px;font-size:30.20px;font-family:'Liberation Serif',serif;"><span class="st"></span>Method</div>
<div id="e115" class="t" style="left:3000.8px;top:1522.0px;font-size:30.20px;font-family:'Liberation Serif',serif;"><span class="st"></span>A<svg style="display:inline-block;width:.95em;height:.5em;vertical-align:.02em" viewBox="0 0 95 50"><path d="M3 25H90" stroke="#000" stroke-width="3.6" fill="none"/><path d="M72 8C76 18 84 23 93 25C84 27 76 32 72 42" stroke="#000" stroke-width="3.6" fill="none"/></svg>A</div>
<div id="e116" class="t" style="left:3092.8px;top:1522.0px;font-size:30.20px;font-family:'Liberation Serif',serif;"><span class="st"></span>A<svg style="display:inline-block;width:.95em;height:.5em;vertical-align:.02em" viewBox="0 0 95 50"><path d="M3 25H90" stroke="#000" stroke-width="3.6" fill="none"/><path d="M72 8C76 18 84 23 93 25C84 27 76 32 72 42" stroke="#000" stroke-width="3.6" fill="none"/></svg>D</div>
<div id="e117" class="t" style="left:3184.2px;top:1522.0px;font-size:30.20px;font-family:'Liberation Serif',serif;"><span class="st"></span>A<svg style="display:inline-block;width:.95em;height:.5em;vertical-align:.02em" viewBox="0 0 95 50"><path d="M3 25H90" stroke="#000" stroke-width="3.6" fill="none"/><path d="M72 8C76 18 84 23 93 25C84 27 76 32 72 42" stroke="#000" stroke-width="3.6" fill="none"/></svg>W</div>
<div id="e118" class="t" style="left:3282.3px;top:1522.0px;font-size:30.20px;font-family:'Liberation Serif',serif;"><span class="st"></span>D<svg style="display:inline-block;width:.95em;height:.5em;vertical-align:.02em" viewBox="0 0 95 50"><path d="M3 25H90" stroke="#000" stroke-width="3.6" fill="none"/><path d="M72 8C76 18 84 23 93 25C84 27 76 32 72 42" stroke="#000" stroke-width="3.6" fill="none"/></svg>A</div>
<div id="e119" class="t" style="left:3375.4px;top:1522.0px;font-size:30.20px;font-family:'Liberation Serif',serif;"><span class="st"></span>D<svg style="display:inline-block;width:.95em;height:.5em;vertical-align:.02em" viewBox="0 0 95 50"><path d="M3 25H90" stroke="#000" stroke-width="3.6" fill="none"/><path d="M72 8C76 18 84 23 93 25C84 27 76 32 72 42" stroke="#000" stroke-width="3.6" fill="none"/></svg>D</div>
<div id="e120" class="t" style="left:3466.8px;top:1522.0px;font-size:30.20px;font-family:'Liberation Serif',serif;"><span class="st"></span>D<svg style="display:inline-block;width:.95em;height:.5em;vertical-align:.02em" viewBox="0 0 95 50"><path d="M3 25H90" stroke="#000" stroke-width="3.6" fill="none"/><path d="M72 8C76 18 84 23 93 25C84 27 76 32 72 42" stroke="#000" stroke-width="3.6" fill="none"/></svg>W</div>
<div id="e121" class="t" style="left:3565.3px;top:1522.0px;font-size:30.20px;font-family:'Liberation Serif',serif;"><span class="st"></span>W<svg style="display:inline-block;width:.95em;height:.5em;vertical-align:.02em" viewBox="0 0 95 50"><path d="M3 25H90" stroke="#000" stroke-width="3.6" fill="none"/><path d="M72 8C76 18 84 23 93 25C84 27 76 32 72 42" stroke="#000" stroke-width="3.6" fill="none"/></svg>A</div>
<div id="e122" class="t" style="left:3665.0px;top:1522.0px;font-size:30.20px;font-family:'Liberation Serif',serif;"><span class="st"></span>W<svg style="display:inline-block;width:.95em;height:.5em;vertical-align:.02em" viewBox="0 0 95 50"><path d="M3 25H90" stroke="#000" stroke-width="3.6" fill="none"/><path d="M72 8C76 18 84 23 93 25C84 27 76 32 72 42" stroke="#000" stroke-width="3.6" fill="none"/></svg>D</div>
<div id="e123" class="t" style="left:3762.9px;top:1522.0px;font-size:30.20px;font-family:'Liberation Serif',serif;"><span class="st"></span>W<svg style="display:inline-block;width:.95em;height:.5em;vertical-align:.02em" viewBox="0 0 95 50"><path d="M3 25H90" stroke="#000" stroke-width="3.6" fill="none"/><path d="M72 8C76 18 84 23 93 25C84 27 76 32 72 42" stroke="#000" stroke-width="3.6" fill="none"/></svg>W</div>
<div id="e124" class="t" style="left:3870.7px;top:1522.0px;font-size:30.20px;font-family:'Liberation Serif',serif;font-weight:bold;"><span class="st"></span>Avg</div>
<div id="e125" class="t" style="left:2743.5px;top:1571.0px;font-size:30.20px;font-family:'Liberation Serif',serif;"><span class="st"></span>Labeled-target-only</div>
<div id="e126" class="t" style="left:3010.5px;top:1571.0px;font-size:30.20px;font-family:'Liberation Serif',serif;"><span class="st"></span>45.3</div>
<div id="e127" class="t" style="left:3102.5px;top:1571.0px;font-size:30.20px;font-family:'Liberation Serif',serif;"><span class="st"></span>69.2</div>
<div id="e128" class="t" style="left:3197.3px;top:1571.0px;font-size:30.20px;font-family:'Liberation Serif',serif;"><span class="st"></span>67.3</div>
<div id="e129" class="t" style="left:3292.0px;top:1571.0px;font-size:30.20px;font-family:'Liberation Serif',serif;"><span class="st"></span>45.3</div>
<div id="e130" class="t" style="left:3385.1px;top:1571.0px;font-size:30.20px;font-family:'Liberation Serif',serif;"><span class="st"></span>69.2</div>
<div id="e131" class="t" style="left:3479.8px;top:1571.0px;font-size:30.20px;font-family:'Liberation Serif',serif;"><span class="st"></span>67.3</div>
<div id="e132" class="t" style="left:3578.4px;top:1571.0px;font-size:30.20px;font-family:'Liberation Serif',serif;"><span class="st"></span>45.3</div>
<div id="e133" class="t" style="left:3678.0px;top:1571.0px;font-size:30.20px;font-family:'Liberation Serif',serif;"><span class="st"></span>69.2</div>
<div id="e134" class="t" style="left:3779.3px;top:1571.0px;font-size:30.20px;font-family:'Liberation Serif',serif;"><span class="st"></span>67.3</div>
<div id="e135" class="t" style="left:3869.2px;top:1571.0px;font-size:30.20px;font-family:'Liberation Serif',serif;"><span class="st"></span>60.6</div>
<div id="e136" class="t" style="left:2743.5px;top:1603.6px;font-size:30.20px;font-family:'Liberation Serif',serif;"><span class="st"></span>STN [<span style="color:#00e000">50</span>]</div>
<div id="e137" class="t" style="left:3010.5px;top:1603.6px;font-size:30.20px;font-family:'Liberation Serif',serif;"><span class="st"></span>58.7</div>
<div id="e138" class="t" style="left:3102.5px;top:1603.6px;font-size:30.20px;font-family:'Liberation Serif',serif;"><span class="st"></span>84.8</div>
<div id="e139" class="t" style="left:3197.3px;top:1603.6px;font-size:30.20px;font-family:'Liberation Serif',serif;"><span class="st"></span>80.0</div>
<div id="e140" class="t" style="left:3292.0px;top:1603.6px;font-size:30.20px;font-family:'Liberation Serif',serif;"><span class="st"></span>51.2</div>
<div id="e141" class="t" style="left:3385.1px;top:1603.6px;font-size:30.20px;font-family:'Liberation Serif',serif;"><span class="st"></span>91.0</div>
<div id="e142" class="t" style="left:3479.8px;top:1603.6px;font-size:30.20px;font-family:'Liberation Serif',serif;"><span class="st"></span>83.8</div>
<div id="e143" class="t" style="left:3578.4px;top:1603.6px;font-size:30.20px;font-family:'Liberation Serif',serif;"><span class="st"></span>52.8</div>
<div id="e144" class="t" style="left:3678.0px;top:1603.6px;font-size:30.20px;font-family:'Liberation Serif',serif;"><span class="st"></span>95.2</div>
<div id="e145" class="t" style="left:3779.3px;top:1603.6px;font-size:30.20px;font-family:'Liberation Serif',serif;"><span class="st"></span>87.4</div>
<div id="e146" class="t" style="left:3869.2px;top:1603.6px;font-size:30.20px;font-family:'Liberation Serif',serif;"><span class="st"></span>76.1</div>
<div id="e147" class="t" style="left:2743.5px;top:1637.4px;font-size:30.20px;font-family:'Liberation Serif',serif;"><span class="st"></span>SSAN [<span style="color:#00e000">51</span>]</div>
<div id="e148" class="t" style="left:3010.5px;top:1637.4px;font-size:30.20px;font-family:'Liberation Serif',serif;"><span class="st"></span>56.8</div>
<div id="e149" class="t" style="left:3102.5px;top:1637.4px;font-size:30.20px;font-family:'Liberation Serif',serif;"><span class="st"></span>89.7</div>
<div id="e150" class="t" style="left:3197.3px;top:1637.4px;font-size:30.20px;font-family:'Liberation Serif',serif;font-weight:bold;"><span class="st"></span>87.1</div>
<div id="e151" class="t" style="left:3292.0px;top:1637.4px;font-size:30.20px;font-family:'Liberation Serif',serif;"><span class="st"></span>54.2</div>
<div id="e152" class="t" style="left:3385.1px;top:1637.4px;font-size:30.20px;font-family:'Liberation Serif',serif;"><span class="st"></span>82.6</div>
<div id="e153" class="t" style="left:3479.8px;top:1637.4px;font-size:30.20px;font-family:'Liberation Serif',serif;font-weight:bold;"><span class="st"></span>90.3</div>
<div id="e154" class="t" style="left:3578.4px;top:1637.4px;font-size:30.20px;font-family:'Liberation Serif',serif;"><span class="st"></span>50.0</div>
<div id="e155" class="t" style="left:3678.0px;top:1637.4px;font-size:30.20px;font-family:'Liberation Serif',serif;"><span class="st"></span>85.8</div>
<div id="e156" class="t" style="left:3779.3px;top:1637.4px;font-size:30.20px;font-family:'Liberation Serif',serif;"><span class="st"></span>85.8</div>
<div id="e157" class="t" style="left:3869.2px;top:1637.4px;font-size:30.20px;font-family:'Liberation Serif',serif;"><span class="st"></span>75.8</div>
<div id="e158" class="t" style="left:2743.5px;top:1670.1px;font-size:30.20px;font-family:'Liberation Serif',serif;"><span class="st"></span>DDACL [<span style="color:#00e000">52</span>]</div>
<div id="e159" class="t" style="left:3010.5px;top:1670.1px;font-size:30.20px;font-family:'Liberation Serif',serif;"><span class="st"></span>44.2</div>
<div id="e160" class="t" style="left:3102.5px;top:1670.1px;font-size:30.20px;font-family:'Liberation Serif',serif;"><span class="st"></span>63.2</div>
<div id="e161" class="t" style="left:3197.3px;top:1670.1px;font-size:30.20px;font-family:'Liberation Serif',serif;"><span class="st"></span>64.2</div>
<div id="e162" class="t" style="left:3292.0px;top:1670.1px;font-size:30.20px;font-family:'Liberation Serif',serif;"><span class="st"></span>43.9</div>
<div id="e163" class="t" style="left:3385.1px;top:1670.1px;font-size:30.20px;font-family:'Liberation Serif',serif;"><span class="st"></span>77.4</div>
<div id="e164" class="t" style="left:3479.8px;top:1670.1px;font-size:30.20px;font-family:'Liberation Serif',serif;"><span class="st"></span>70.6</div>
<div id="e165" class="t" style="left:3578.4px;top:1670.1px;font-size:30.20px;font-family:'Liberation Serif',serif;"><span class="st"></span>39.8</div>
<div id="e166" class="t" style="left:3678.0px;top:1670.1px;font-size:30.20px;font-family:'Liberation Serif',serif;"><span class="st"></span>64.5</div>
<div id="e167" class="t" style="left:3779.3px;top:1670.1px;font-size:30.20px;font-family:'Liberation Serif',serif;"><span class="st"></span>73.2</div>
<div id="e168" class="t" style="left:3869.2px;top:1670.1px;font-size:30.20px;font-family:'Liberation Serif',serif;"><span class="st"></span>60.1</div>
<div id="e169" class="t" style="left:2743.5px;top:1702.7px;font-size:30.20px;font-family:'Liberation Serif',serif;"><span class="st"></span>CDSPP [<span style="color:#00e000">45</span>]</div>
<div id="e170" class="t" style="left:3010.5px;top:1702.7px;font-size:30.20px;font-family:'Liberation Serif',serif;"><span class="st"></span>55.5</div>
<div id="e171" class="t" style="left:3102.5px;top:1702.7px;font-size:30.20px;font-family:'Liberation Serif',serif;"><span class="st"></span>79.7</div>
<div id="e172" class="t" style="left:3197.3px;top:1702.7px;font-size:30.20px;font-family:'Liberation Serif',serif;"><span class="st"></span>76.5</div>
<div id="e173" class="t" style="left:3292.0px;top:1702.7px;font-size:30.20px;font-family:'Liberation Serif',serif;"><span class="st"></span>43.2</div>
<div id="e174" class="t" style="left:3385.1px;top:1702.7px;font-size:30.20px;font-family:'Liberation Serif',serif;"><span class="st"></span>80.6</div>
<div id="e175" class="t" style="left:3479.8px;top:1702.7px;font-size:30.20px;font-family:'Liberation Serif',serif;"><span class="st"></span>84.2</div>
<div id="e176" class="t" style="left:3578.4px;top:1702.7px;font-size:30.20px;font-family:'Liberation Serif',serif;"><span class="st"></span>47.4</div>
<div id="e177" class="t" style="left:3678.0px;top:1702.7px;font-size:30.20px;font-family:'Liberation Serif',serif;"><span class="st"></span>78.7</div>
<div id="e178" class="t" style="left:3779.3px;top:1702.7px;font-size:30.20px;font-family:'Liberation Serif',serif;"><span class="st"></span>84.5</div>
<div id="e179" class="t" style="left:3869.2px;top:1702.7px;font-size:30.20px;font-family:'Liberation Serif',serif;"><span class="st"></span>70.0</div>
<div id="e180" class="t" style="left:2743.5px;top:1736.5px;font-size:30.20px;font-family:'Liberation Serif',serif;"><span class="st"></span>SGW [<span style="color:#00e000">37</span>]</div>
<div id="e181" class="t" style="left:3010.5px;top:1736.5px;font-size:30.20px;font-family:'Liberation Serif',serif;"><span class="st"></span>49.7</div>
<div id="e182" class="t" style="left:3102.5px;top:1736.5px;font-size:30.20px;font-family:'Liberation Serif',serif;"><span class="st"></span>77.7</div>
<div id="e183" class="t" style="left:3197.3px;top:1736.5px;font-size:30.20px;font-family:'Liberation Serif',serif;"><span class="st"></span>73.6</div>
<div id="e184" class="t" style="left:3292.0px;top:1736.5px;font-size:30.20px;font-family:'Liberation Serif',serif;"><span class="st"></span>49.4</div>
<div id="e185" class="t" style="left:3385.1px;top:1736.5px;font-size:30.20px;font-family:'Liberation Serif',serif;"><span class="st"></span>78.4</div>
<div id="e186" class="t" style="left:3479.8px;top:1736.5px;font-size:30.20px;font-family:'Liberation Serif',serif;"><span class="st"></span>73.6</div>
<div id="e187" class="t" style="left:3578.4px;top:1736.5px;font-size:30.20px;font-family:'Liberation Serif',serif;"><span class="st"></span>48.7</div>
<div id="e188" class="t" style="left:3678.0px;top:1736.5px;font-size:30.20px;font-family:'Liberation Serif',serif;"><span class="st"></span>80.3</div>
<div id="e189" class="t" style="left:3779.3px;top:1736.5px;font-size:30.20px;font-family:'Liberation Serif',serif;"><span class="st"></span>74.5</div>
<div id="e190" class="t" style="left:3869.2px;top:1736.5px;font-size:30.20px;font-family:'Liberation Serif',serif;"><span class="st"></span>67.3</div>
<div id="e191" class="t" style="left:2743.5px;top:1784.9px;font-size:30.20px;font-family:'Liberation Serif',serif;"><span class="st"></span>GW [<span style="color:#00e000">27</span>]</div>
<div id="e192" class="t" style="left:3010.5px;top:1784.9px;font-size:30.20px;font-family:'Liberation Serif',serif;"><span class="st"></span>33.6</div>
<div id="e193" class="t" style="left:3102.5px;top:1784.9px;font-size:30.20px;font-family:'Liberation Serif',serif;"><span class="st"></span>41.6</div>
<div id="e194" class="t" style="left:3197.3px;top:1784.9px;font-size:30.20px;font-family:'Liberation Serif',serif;"><span class="st"></span>35.5</div>
<div id="e195" class="t" style="left:3292.0px;top:1784.9px;font-size:30.20px;font-family:'Liberation Serif',serif;"><span class="st"></span>39.7</div>
<div id="e196" class="t" style="left:3385.1px;top:1784.9px;font-size:30.20px;font-family:'Liberation Serif',serif;"><span class="st"></span>40.0</div>
<div id="e197" class="t" style="left:3479.8px;top:1784.9px;font-size:30.20px;font-family:'Liberation Serif',serif;"><span class="st"></span>31.7</div>
<div id="e198" class="t" style="left:3578.4px;top:1784.9px;font-size:30.20px;font-family:'Liberation Serif',serif;"><span class="st"></span>34.8</div>
<div id="e199" class="t" style="left:3678.0px;top:1784.9px;font-size:30.20px;font-family:'Liberation Serif',serif;"><span class="st"></span>34.5</div>
<div id="e200" class="t" style="left:3779.3px;top:1784.9px;font-size:30.20px;font-family:'Liberation Serif',serif;"><span class="st"></span>29.0</div>
<div id="e201" class="t" style="left:3869.2px;top:1784.9px;font-size:30.20px;font-family:'Liberation Serif',serif;"><span class="st"></span>35.6</div>
<div id="e202" class="t" style="left:2743.5px;top:1818.2px;font-size:30.20px;font-family:'Liberation Serif',serif;font-weight:bold;"><span class="st"></span>GW (w/ mask)</div>
<div id="e203" class="t" style="left:3010.5px;top:1818.2px;font-size:30.20px;font-family:'Liberation Serif',serif;"><span class="st"></span>41.3</div>
<div id="e204" class="t" style="left:3102.5px;top:1818.2px;font-size:30.20px;font-family:'Liberation Serif',serif;"><span class="st"></span>71.6</div>
<div id="e205" class="t" style="left:3197.3px;top:1818.2px;font-size:30.20px;font-family:'Liberation Serif',serif;"><span class="st"></span>69.7</div>
<div id="e206" class="t" style="left:3292.0px;top:1818.2px;font-size:30.20px;font-family:'Liberation Serif',serif;"><span class="st"></span>41.9</div>
<div id="e207" class="t" style="left:3385.1px;top:1818.2px;font-size:30.20px;font-family:'Liberation Serif',serif;"><span class="st"></span>71.2</div>
<div id="e208" class="t" style="left:3479.8px;top:1818.2px;font-size:30.20px;font-family:'Liberation Serif',serif;"><span class="st"></span>69.8</div>
<div id="e209" class="t" style="left:3578.4px;top:1818.2px;font-size:30.20px;font-family:'Liberation Serif',serif;"><span class="st"></span>40.3</div>
<div id="e210" class="t" style="left:3678.0px;top:1818.2px;font-size:30.20px;font-family:'Liberation Serif',serif;"><span class="st"></span>71.6</div>
<div id="e211" class="t" style="left:3779.3px;top:1818.2px;font-size:30.20px;font-family:'Liberation Serif',serif;"><span class="st"></span>69.7</div>
<div id="e212" class="t" style="left:3869.2px;top:1818.2px;font-size:30.20px;font-family:'Liberation Serif',serif;"><span class="st"></span>60.8</div>
<div id="e213" class="t" style="left:2743.5px;top:1851.4px;font-size:30.20px;font-family:'Liberation Serif',serif;"><span class="st"></span>HOT [<span style="color:#00e000">33</span>]</div>
<div id="e214" class="t" style="left:3010.5px;top:1851.4px;font-size:30.20px;font-family:'Liberation Serif',serif;"><span class="st"></span>39.0</div>
<div id="e215" class="t" style="left:3102.5px;top:1851.4px;font-size:30.20px;font-family:'Liberation Serif',serif;"><span class="st"></span>44.8</div>
<div id="e216" class="t" style="left:3197.3px;top:1851.4px;font-size:30.20px;font-family:'Liberation Serif',serif;"><span class="st"></span>40.0</div>
<div id="e217" class="t" style="left:3292.0px;top:1851.4px;font-size:30.20px;font-family:'Liberation Serif',serif;"><span class="st"></span>31.3</div>
<div id="e218" class="t" style="left:3385.1px;top:1851.4px;font-size:30.20px;font-family:'Liberation Serif',serif;"><span class="st"></span>52.6</div>
<div id="e219" class="t" style="left:3479.8px;top:1851.4px;font-size:30.20px;font-family:'Liberation Serif',serif;"><span class="st"></span>44.8</div>
<div id="e220" class="t" style="left:3578.4px;top:1851.4px;font-size:30.20px;font-family:'Liberation Serif',serif;"><span class="st"></span>29.7</div>
<div id="e221" class="t" style="left:3678.0px;top:1851.4px;font-size:30.20px;font-family:'Liberation Serif',serif;"><span class="st"></span>60.0</div>
<div id="e222" class="t" style="left:3779.3px;top:1851.4px;font-size:30.20px;font-family:'Liberation Serif',serif;"><span class="st"></span>56.5</div>
<div id="e223" class="t" style="left:3869.2px;top:1851.4px;font-size:30.20px;font-family:'Liberation Serif',serif;"><span class="st"></span>44.3</div>
<div id="e224" class="t" style="left:2743.5px;top:1884.6px;font-size:30.20px;font-family:'Liberation Serif',serif;font-weight:bold;"><span class="st"></span>HOT (w/ mask)</div>
<div id="e225" class="t" style="left:3010.5px;top:1884.6px;font-size:30.20px;font-family:'Liberation Serif',serif;"><span class="st"></span>45.2</div>
<div id="e226" class="t" style="left:3102.5px;top:1884.6px;font-size:30.20px;font-family:'Liberation Serif',serif;"><span class="st"></span>60.3</div>
<div id="e227" class="t" style="left:3197.3px;top:1884.6px;font-size:30.20px;font-family:'Liberation Serif',serif;"><span class="st"></span>57.4</div>
<div id="e228" class="t" style="left:3292.0px;top:1884.6px;font-size:30.20px;font-family:'Liberation Serif',serif;"><span class="st"></span>48.9</div>
<div id="e229" class="t" style="left:3385.1px;top:1884.6px;font-size:30.20px;font-family:'Liberation Serif',serif;"><span class="st"></span>63.5</div>
<div id="e230" class="t" style="left:3479.8px;top:1884.6px;font-size:30.20px;font-family:'Liberation Serif',serif;"><span class="st"></span>59.2</div>
<div id="e231" class="t" style="left:3578.4px;top:1884.6px;font-size:30.20px;font-family:'Liberation Serif',serif;"><span class="st"></span>40.3</div>
<div id="e232" class="t" style="left:3678.0px;top:1884.6px;font-size:30.20px;font-family:'Liberation Serif',serif;"><span class="st"></span>67.1</div>
<div id="e233" class="t" style="left:3779.3px;top:1884.6px;font-size:30.20px;font-family:'Liberation Serif',serif;"><span class="st"></span>61.4</div>
<div id="e234" class="t" style="left:3869.2px;top:1884.6px;font-size:30.20px;font-family:'Liberation Serif',serif;"><span class="st"></span>55.9</div>
<div id="e235" class="t" style="left:2743.5px;top:1917.8px;font-size:30.20px;font-family:'Liberation Serif',serif;"><span class="st"></span>TLB [<span style="color:#00e000">27</span>]</div>
<div id="e236" class="t" style="left:3010.5px;top:1917.8px;font-size:30.20px;font-family:'Liberation Serif',serif;"><span class="st"></span>29.4</div>
<div id="e237" class="t" style="left:3102.5px;top:1917.8px;font-size:30.20px;font-family:'Liberation Serif',serif;"><span class="st"></span>36.5</div>
<div id="e238" class="t" style="left:3197.3px;top:1917.8px;font-size:30.20px;font-family:'Liberation Serif',serif;"><span class="st"></span>43.2</div>
<div id="e239" class="t" style="left:3292.0px;top:1917.8px;font-size:30.20px;font-family:'Liberation Serif',serif;"><span class="st"></span>24.5</div>
<div id="e240" class="t" style="left:3385.1px;top:1917.8px;font-size:30.20px;font-family:'Liberation Serif',serif;"><span class="st"></span>31.3</div>
<div id="e241" class="t" style="left:3479.8px;top:1917.8px;font-size:30.20px;font-family:'Liberation Serif',serif;"><span class="st"></span>51.0</div>
<div id="e242" class="t" style="left:3578.4px;top:1917.8px;font-size:30.20px;font-family:'Liberation Serif',serif;"><span class="st"></span>23.6</div>
<div id="e243" class="t" style="left:3678.0px;top:1917.8px;font-size:30.20px;font-family:'Liberation Serif',serif;"><span class="st"></span>31.9</div>
<div id="e244" class="t" style="left:3779.3px;top:1917.8px;font-size:30.20px;font-family:'Liberation Serif',serif;"><span class="st"></span>49.7</div>
<div id="e245" class="t" style="left:3869.2px;top:1917.8px;font-size:30.20px;font-family:'Liberation Serif',serif;"><span class="st"></span>35.7</div>
<div id="e246" class="t" style="left:2743.5px;top:1951.0px;font-size:30.20px;font-family:'Liberation Serif',serif;font-weight:bold;"><span class="st"></span>TLB (w/ mask)</div>
<div id="e247" class="t" style="left:3010.5px;top:1951.0px;font-size:30.20px;font-family:'Liberation Serif',serif;"><span class="st"></span>42.5</div>
<div id="e248" class="t" style="left:3102.5px;top:1951.0px;font-size:30.20px;font-family:'Liberation Serif',serif;"><span class="st"></span>66.3</div>
<div id="e249" class="t" style="left:3197.3px;top:1951.0px;font-size:30.20px;font-family:'Liberation Serif',serif;"><span class="st"></span>64.7</div>
<div id="e250" class="t" style="left:3292.0px;top:1951.0px;font-size:30.20px;font-family:'Liberation Serif',serif;"><span class="st"></span>38.5</div>
<div id="e251" class="t" style="left:3385.1px;top:1951.0px;font-size:30.20px;font-family:'Liberation Serif',serif;"><span class="st"></span>68.5</div>
<div id="e252" class="t" style="left:3479.8px;top:1951.0px;font-size:30.20px;font-family:'Liberation Serif',serif;"><span class="st"></span>65.9</div>
<div id="e253" class="t" style="left:3578.4px;top:1951.0px;font-size:30.20px;font-family:'Liberation Serif',serif;"><span class="st"></span>43.1</div>
<div id="e254" class="t" style="left:3678.0px;top:1951.0px;font-size:30.20px;font-family:'Liberation Serif',serif;"><span class="st"></span>68.2</div>
<div id="e255" class="t" style="left:3779.3px;top:1951.0px;font-size:30.20px;font-family:'Liberation Serif',serif;"><span class="st"></span>67.3</div>
<div id="e256" class="t" style="left:3869.2px;top:1951.0px;font-size:30.20px;font-family:'Liberation Serif',serif;"><span class="st"></span>58.3</div>
<div id="e257" class="t" style="left:2743.5px;top:1999.5px;font-size:30.20px;font-family:'Liberation Serif',serif;font-weight:bold;"><span class="st"></span>KPG (w/ dist)</div>
<div id="e258" class="t" style="left:3010.5px;top:1999.5px;font-size:30.20px;font-family:'Liberation Serif',serif;"><span class="st"></span>55.2</div>
<div id="e259" class="t" style="left:3102.5px;top:1999.5px;font-size:30.20px;font-family:'Liberation Serif',serif;"><span class="st"></span>60.7</div>
<div id="e260" class="t" style="left:3197.3px;top:1999.5px;font-size:30.20px;font-family:'Liberation Serif',serif;"><span class="st"></span>71.6</div>
<div id="e261" class="t" style="left:3292.0px;top:1999.5px;font-size:30.20px;font-family:'Liberation Serif',serif;"><span class="st"></span>51.3</div>
<div id="e262" class="t" style="left:3385.1px;top:1999.5px;font-size:30.20px;font-family:'Liberation Serif',serif;"><span class="st"></span>71.9</div>
<div id="e263" class="t" style="left:3479.8px;top:1999.5px;font-size:30.20px;font-family:'Liberation Serif',serif;"><span class="st"></span>77.1</div>
<div id="e264" class="t" style="left:3578.4px;top:1999.5px;font-size:30.20px;font-family:'Liberation Serif',serif;"><span class="st"></span>48.7</div>
<div id="e265" class="t" style="left:3678.0px;top:1999.5px;font-size:30.20px;font-family:'Liberation Serif',serif;"><span class="st"></span>70.0</div>
<div id="e266" class="t" style="left:3779.3px;top:1999.5px;font-size:30.20px;font-family:'Liberation Serif',serif;"><span class="st"></span>77.7</div>
<div id="e267" class="t" style="left:3869.2px;top:1999.5px;font-size:30.20px;font-family:'Liberation Serif',serif;"><span class="st"></span>64.9</div>
<div id="e268" class="t" style="left:2743.5px;top:2032.1px;font-size:30.20px;font-family:'Liberation Serif',serif;font-weight:bold;"><span class="st"></span>KPG-RL-GW</div>
<div id="e269" class="t" style="left:3010.5px;top:2032.1px;font-size:30.20px;font-family:'Liberation Serif',serif;"><span class="st"></span>58.7</div>
<div id="e270" class="t" style="left:3102.5px;top:2032.1px;font-size:30.20px;font-family:'Liberation Serif',serif;"><span class="st"></span>92.9</div>
<div id="e271" class="t" style="left:3197.3px;top:2032.1px;font-size:30.20px;font-family:'Liberation Serif',serif;"><span class="st"></span>84.2</div>
<div id="e272" class="t" style="left:3292.0px;top:2032.1px;font-size:30.20px;font-family:'Liberation Serif',serif;"><span class="st"></span>57.4</div>
<div id="e273" class="t" style="left:3385.1px;top:2032.1px;font-size:30.20px;font-family:'Liberation Serif',serif;"><span class="st"></span>95.5</div>
<div id="e274" class="t" style="left:3479.8px;top:2032.1px;font-size:30.20px;font-family:'Liberation Serif',serif;"><span class="st"></span>87.1</div>
<div id="e275" class="t" style="left:3578.4px;top:2032.1px;font-size:30.20px;font-family:'Liberation Serif',serif;"><span class="st"></span>55.5</div>
<div id="e276" class="t" style="left:3678.0px;top:2032.1px;font-size:30.20px;font-family:'Liberation Serif',serif;font-weight:bold;"><span class="st"></span>95.5</div>
<div id="e277" class="t" style="left:3779.3px;top:2032.1px;font-size:30.20px;font-family:'Liberation Serif',serif;font-weight:bold;"><span class="st"></span>90.0</div>
<div id="e278" class="t" style="left:3869.2px;top:2032.1px;font-size:30.20px;font-family:'Liberation Serif',serif;"><span class="st"></span>79.6</div>
<div id="e279" class="t" style="left:2743.5px;top:2065.9px;font-size:30.20px;font-family:'Liberation Serif',serif;font-weight:bold;"><span class="st"></span>KPG-RL (LP)</div>
<div id="e280" class="t" style="left:3010.5px;top:2065.9px;font-size:30.20px;font-family:'Liberation Serif',serif;"><span class="st"></span>56.5</div>
<div id="e281" class="t" style="left:3102.5px;top:2065.9px;font-size:30.20px;font-family:'Liberation Serif',serif;font-weight:bold;"><span class="st"></span>93.6</div>
<div id="e282" class="t" style="left:3197.3px;top:2065.9px;font-size:30.20px;font-family:'Liberation Serif',serif;"><span class="st"></span>83.2</div>
<div id="e283" class="t" style="left:3292.0px;top:2065.9px;font-size:30.20px;font-family:'Liberation Serif',serif;font-weight:bold;"><span class="st"></span>58.1</div>
<div id="e284" class="t" style="left:3385.1px;top:2065.9px;font-size:30.20px;font-family:'Liberation Serif',serif;"><span class="st"></span>94.5</div>
<div id="e285" class="t" style="left:3479.8px;top:2065.9px;font-size:30.20px;font-family:'Liberation Serif',serif;"><span class="st"></span>86.8</div>
<div id="e286" class="t" style="left:3578.4px;top:2065.9px;font-size:30.20px;font-family:'Liberation Serif',serif;"><span class="st"></span>55.8</div>
<div id="e287" class="t" style="left:3678.0px;top:2065.9px;font-size:30.20px;font-family:'Liberation Serif',serif;"><span class="st"></span>95.2</div>
<div id="e288" class="t" style="left:3779.3px;top:2065.9px;font-size:30.20px;font-family:'Liberation Serif',serif;"><span class="st"></span>89.7</div>
<div id="e289" class="t" style="left:3869.2px;top:2065.9px;font-size:30.20px;font-family:'Liberation Serif',serif;"><span class="st"></span>79.3</div>
<div id="e290" class="t" style="left:2743.5px;top:2099.1px;font-size:30.20px;font-family:'Liberation Serif',serif;font-weight:bold;"><span class="st"></span>KPG-RL (SH)</div>
<div id="e291" class="t" style="left:3010.5px;top:2099.1px;font-size:30.20px;font-family:'Liberation Serif',serif;font-weight:bold;"><span class="st"></span>60.0</div>
<div id="e292" class="t" style="left:3102.5px;top:2099.1px;font-size:30.20px;font-family:'Liberation Serif',serif;"><span class="st"></span>91.6</div>
<div id="e293" class="t" style="left:3197.3px;top:2099.1px;font-size:30.20px;font-family:'Liberation Serif',serif;"><span class="st"></span>83.6</div>
<div id="e294" class="t" style="left:3292.0px;top:2099.1px;font-size:30.20px;font-family:'Liberation Serif',serif;"><span class="st"></span>57.4</div>
<div id="e295" class="t" style="left:3385.1px;top:2099.1px;font-size:30.20px;font-family:'Liberation Serif',serif;font-weight:bold;"><span class="st"></span>95.8</div>
<div id="e296" class="t" style="left:3479.8px;top:2099.1px;font-size:30.20px;font-family:'Liberation Serif',serif;"><span class="st"></span>87.7</div>
<div id="e297" class="t" style="left:3578.4px;top:2099.1px;font-size:30.20px;font-family:'Liberation Serif',serif;font-weight:bold;"><span class="st"></span>59.1</div>
<div id="e298" class="t" style="left:3678.0px;top:2099.1px;font-size:30.20px;font-family:'Liberation Serif',serif;"><span class="st"></span>95.2</div>
<div id="e299" class="t" style="left:3779.3px;top:2099.1px;font-size:30.20px;font-family:'Liberation Serif',serif;"><span class="st"></span>88.4</div>
<div id="e300" class="t" style="left:3869.2px;top:2099.1px;font-size:30.20px;font-family:'Liberation Serif',serif;font-weight:bold;"><span class="st"></span>79.9</div>
</body></html>
